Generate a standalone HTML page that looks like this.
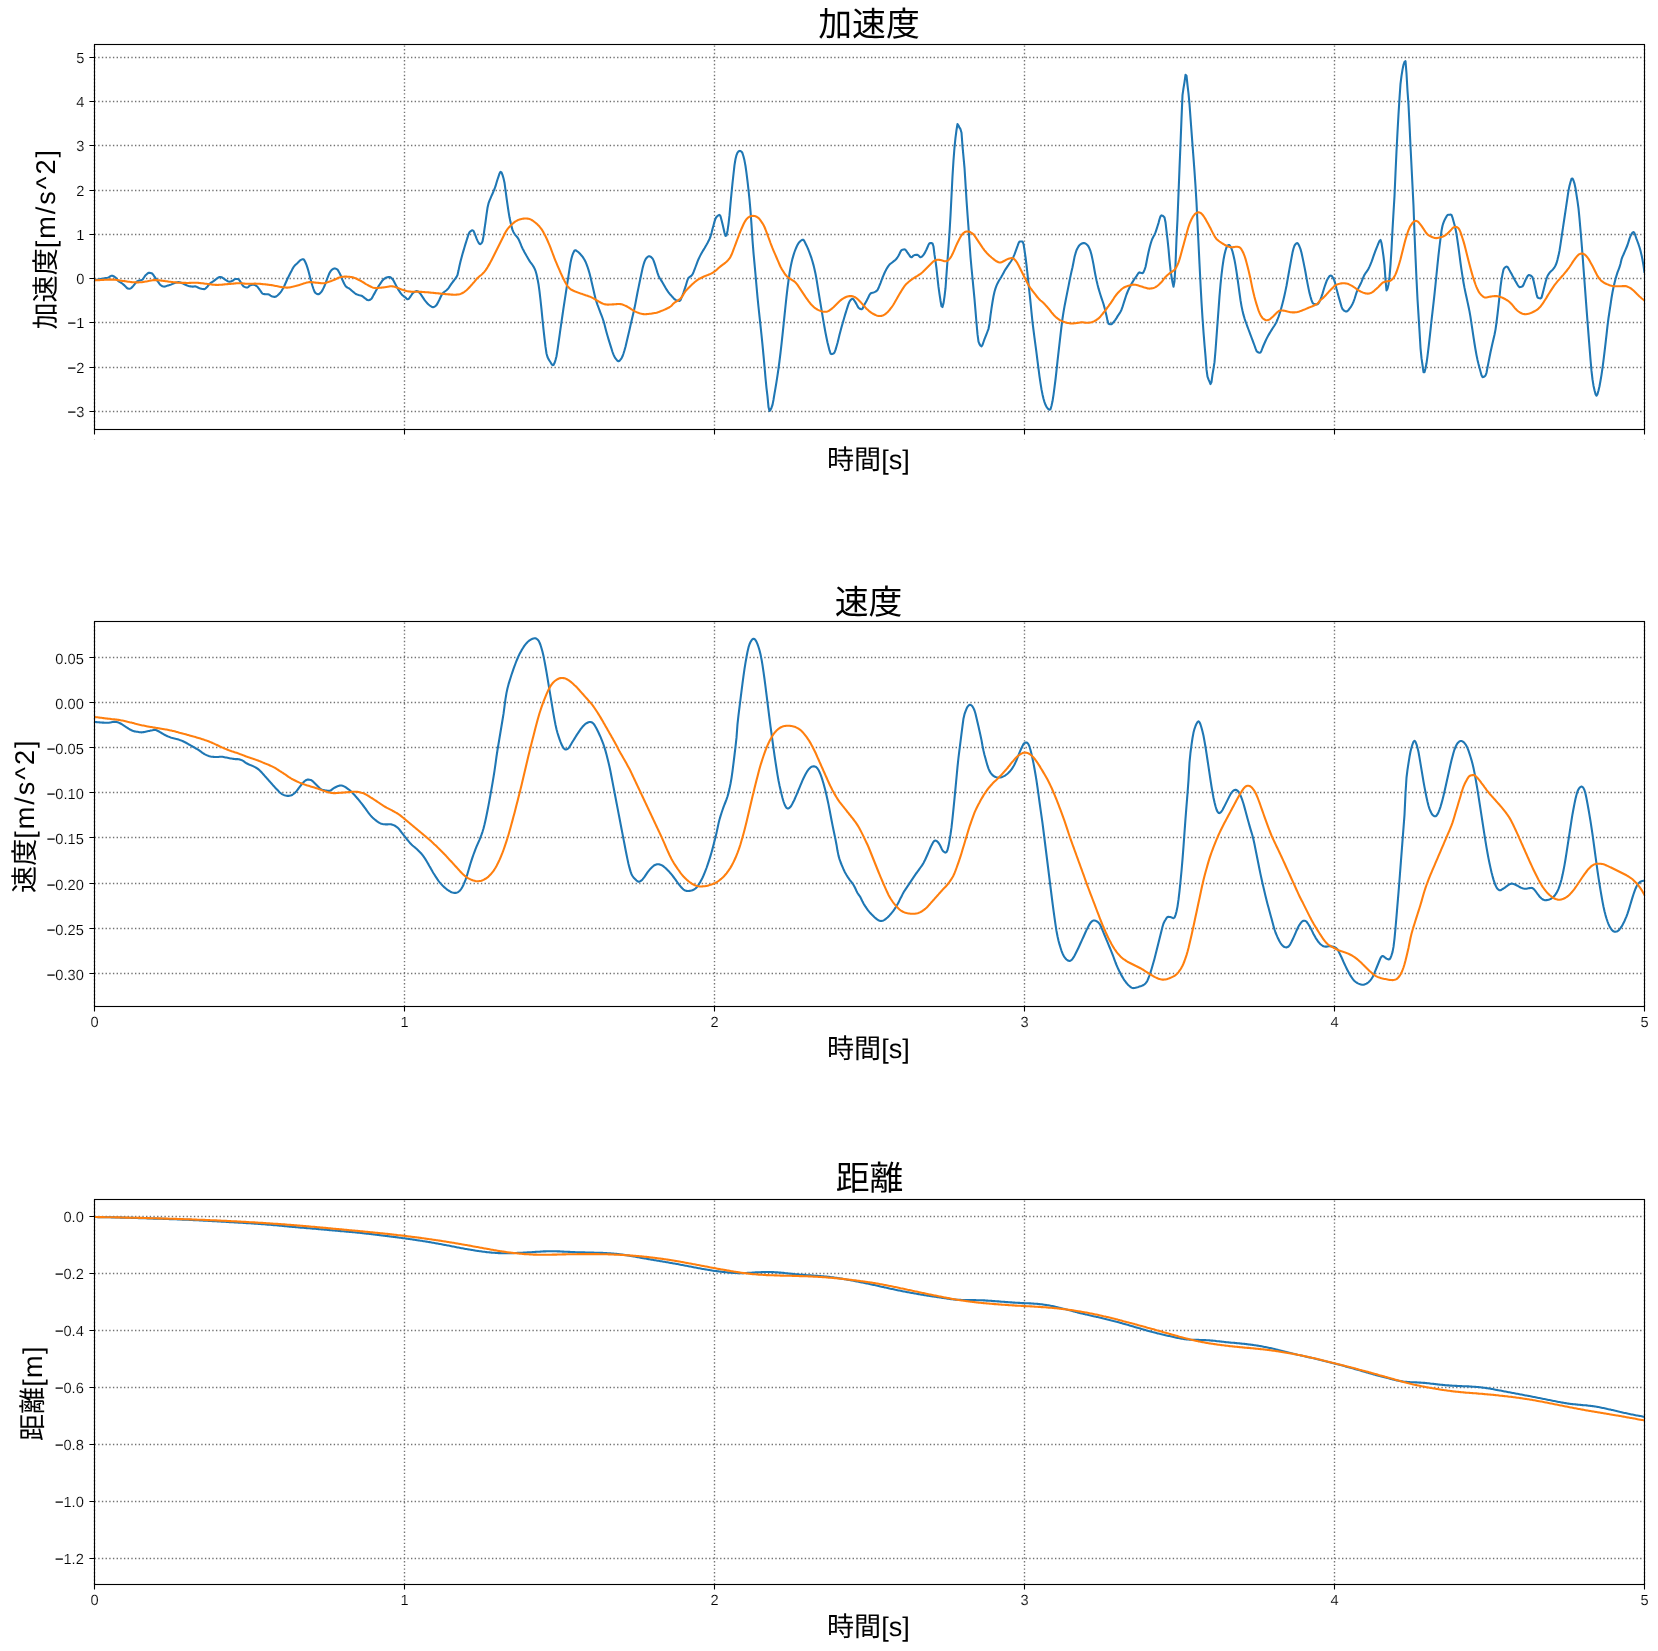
<!DOCTYPE html>
<html lang="ja"><head><meta charset="utf-8"><title>加速度 速度 距離</title>
<style>
html,body{margin:0;padding:0;background:#fff;}
body{width:1658px;height:1651px;overflow:hidden;}
svg{display:block;will-change:transform;opacity:.999;text-rendering:geometricPrecision;}
.tk{font-family:"Liberation Sans","Noto Sans CJK JP",sans-serif;font-size:14.65px;fill:#000;stroke:#fff;stroke-width:.16px;}
.lb{font-family:"Liberation Sans","Noto Sans CJK JP",sans-serif;fill:#000;}
.ti{font-size:33.85px;}
.xl{font-size:27.1px;}
.la{letter-spacing:1.95px;}
.lb3{letter-spacing:1.4px;}
.lx{letter-spacing:0px;}
.mn{stroke:#000;stroke-width:.12px;}
.gr{stroke:#000;stroke-opacity:.55;stroke-width:1.39;stroke-dasharray:1.39 2.29;fill:none;}
.fr{stroke:#000;stroke-width:1.11;fill:none;}
.cv{fill:none;stroke-width:2.08;stroke-linejoin:round;stroke-linecap:butt;}
</style></head><body>
<svg width="1658" height="1651" viewBox="0 0 1658 1651">
<rect width="1658" height="1651" fill="#fff"/>
<defs><clipPath id="c0"><rect x="94.5" y="44.5" width="1550.0" height="385.0"/></clipPath></defs>
<path class="gr" d="M94.5 429.5V44.5M404.5 429.5V44.5M714.5 429.5V44.5M1024.5 429.5V44.5M1334.5 429.5V44.5M1644.5 429.5V44.5M94.5 57.5H1644.5M94.5 101.5H1644.5M94.5 145.5H1644.5M94.5 190.5H1644.5M94.5 234.5H1644.5M94.5 278.5H1644.5M94.5 322.5H1644.5M94.5 367.5H1644.5M94.5 411.5H1644.5"/>
<g clip-path="url(#c0)"><path class="cv" stroke="#1f77b4" d="M94.5 280.1 L95.5 279.9 L96.5 279.7 L97.5 279.6 L98.5 279.4 L99.5 279.2 L100.5 279.0 L101.5 278.8 L102.5 278.7 L103.5 278.5 L104.5 278.3 L105.5 278.1 L106.5 277.9 L107.5 277.7 L108.5 277.4 L109.5 276.8 L110.5 276.1 L111.5 275.7 L112.5 275.8 L113.5 276.2 L114.5 276.7 L115.5 277.5 L116.5 278.7 L117.5 280.1 L118.5 281.2 L119.5 281.9 L120.5 282.4 L121.5 283.0 L122.5 283.8 L123.5 284.6 L124.5 285.4 L125.5 286.4 L126.5 287.6 L127.5 288.4 L128.5 288.6 L129.5 288.7 L130.5 288.5 L131.5 287.8 L132.5 286.7 L133.5 285.6 L134.5 284.3 L135.5 282.9 L136.5 281.9 L137.5 281.2 L138.5 280.8 L139.5 280.4 L140.5 280.2 L141.5 280.0 L142.5 279.6 L143.5 278.3 L144.5 276.7 L145.5 275.3 L146.5 274.4 L147.5 273.5 L148.5 272.9 L149.5 272.8 L150.5 273.0 L151.5 273.3 L152.5 273.8 L153.5 275.1 L154.5 276.7 L155.5 278.2 L156.5 279.7 L157.5 281.1 L158.5 282.4 L159.5 283.8 L160.5 285.0 L161.5 285.8 L162.5 286.2 L163.5 286.5 L164.5 286.6 L165.5 286.4 L166.5 286.0 L167.5 285.6 L168.5 285.4 L169.5 285.1 L170.5 284.8 L171.5 284.4 L172.5 283.9 L173.5 283.5 L174.5 283.1 L175.5 282.8 L176.5 282.5 L177.5 282.3 L178.5 282.1 L179.5 282.2 L180.5 282.5 L181.5 283.0 L182.5 283.4 L183.5 283.8 L184.5 284.3 L185.5 284.8 L186.5 285.2 L187.5 285.6 L188.5 286.0 L189.5 286.3 L190.5 286.4 L191.5 286.5 L192.5 286.6 L193.5 286.6 L194.5 286.4 L195.5 286.4 L196.5 286.7 L197.5 287.3 L198.5 287.8 L199.5 288.2 L200.5 288.4 L201.5 288.7 L202.5 288.9 L203.5 289.1 L204.5 289.1 L205.5 288.6 L206.5 287.6 L207.5 286.5 L208.5 285.2 L209.5 284.0 L210.5 283.1 L211.5 282.4 L212.5 281.8 L213.5 281.2 L214.5 280.4 L215.5 279.6 L216.5 278.8 L217.5 278.2 L218.5 277.4 L219.5 277.0 L220.5 277.0 L221.5 277.3 L222.5 277.8 L223.5 278.4 L224.5 279.1 L225.5 279.8 L226.5 280.4 L227.5 281.1 L228.5 281.6 L229.5 281.8 L230.5 281.6 L231.5 281.2 L232.5 280.8 L233.5 280.1 L234.5 279.3 L235.5 279.0 L236.5 279.0 L237.5 279.0 L238.5 279.3 L239.5 280.4 L240.5 281.9 L241.5 283.4 L242.5 285.1 L243.5 286.4 L244.5 286.9 L245.5 287.3 L246.5 287.5 L247.5 287.5 L248.5 286.8 L249.5 285.8 L250.5 285.2 L251.5 285.0 L252.5 284.8 L253.5 284.8 L254.5 284.9 L255.5 285.4 L256.5 286.0 L257.5 286.8 L258.5 288.2 L259.5 289.5 L260.5 290.9 L261.5 292.5 L262.5 293.6 L263.5 294.0 L264.5 294.1 L265.5 294.2 L266.5 294.2 L267.5 294.3 L268.5 294.4 L269.5 294.8 L270.5 295.6 L271.5 296.2 L272.5 296.5 L273.5 296.8 L274.5 296.9 L275.5 296.8 L276.5 296.3 L277.5 295.5 L278.5 294.6 L279.5 293.5 L280.5 292.4 L281.5 291.0 L282.5 289.3 L283.5 287.4 L284.5 285.5 L285.5 283.3 L286.5 281.0 L287.5 278.8 L288.5 276.8 L289.5 274.8 L290.5 272.8 L291.5 270.9 L292.5 268.9 L293.5 267.2 L294.5 265.9 L295.5 264.8 L296.5 263.9 L297.5 263.0 L298.5 262.0 L299.5 261.0 L300.5 260.1 L301.5 259.6 L302.5 259.2 L303.5 259.2 L304.5 260.5 L305.5 262.5 L306.5 264.9 L307.5 267.9 L308.5 271.2 L309.5 275.1 L310.5 278.9 L311.5 282.6 L312.5 286.0 L313.5 289.0 L314.5 291.7 L315.5 293.0 L316.5 293.7 L317.5 294.1 L318.5 294.2 L319.5 293.7 L320.5 292.7 L321.5 291.7 L322.5 290.1 L323.5 288.1 L324.5 286.0 L325.5 283.4 L326.5 280.7 L327.5 278.0 L328.5 275.3 L329.5 273.0 L330.5 271.4 L331.5 270.1 L332.5 269.3 L333.5 268.7 L334.5 268.4 L335.5 268.6 L336.5 269.0 L337.5 269.7 L338.5 271.2 L339.5 273.0 L340.5 275.0 L341.5 277.5 L342.5 280.0 L343.5 282.2 L344.5 284.3 L345.5 286.0 L346.5 287.0 L347.5 287.6 L348.5 288.1 L349.5 288.7 L350.5 289.5 L351.5 290.4 L352.5 291.3 L353.5 292.1 L354.5 293.0 L355.5 293.7 L356.5 294.2 L357.5 294.6 L358.5 295.0 L359.5 295.3 L360.5 295.5 L361.5 295.8 L362.5 296.3 L363.5 297.1 L364.5 297.9 L365.5 298.6 L366.5 299.5 L367.5 300.1 L368.5 300.3 L369.5 300.0 L370.5 299.5 L371.5 298.7 L372.5 297.1 L373.5 295.1 L374.5 293.4 L375.5 291.5 L376.5 289.7 L377.5 288.0 L378.5 286.4 L379.5 284.8 L380.5 283.3 L381.5 281.8 L382.5 280.4 L383.5 279.4 L384.5 278.6 L385.5 278.0 L386.5 277.5 L387.5 277.3 L388.5 277.1 L389.5 277.0 L390.5 277.3 L391.5 278.1 L392.5 279.2 L393.5 280.5 L394.5 282.4 L395.5 284.4 L396.5 286.3 L397.5 288.1 L398.5 289.9 L399.5 291.4 L400.5 292.9 L401.5 294.2 L402.5 295.2 L403.5 296.1 L404.5 296.8 L405.5 297.6 L406.5 298.6 L407.5 299.3 L408.5 299.0 L409.5 297.8 L410.5 296.5 L411.5 295.0 L412.5 293.4 L413.5 292.5 L414.5 291.9 L415.5 291.4 L416.5 291.1 L417.5 291.2 L418.5 291.9 L419.5 292.8 L420.5 293.9 L421.5 295.3 L422.5 296.8 L423.5 298.3 L424.5 299.8 L425.5 301.1 L426.5 302.3 L427.5 303.5 L428.5 304.5 L429.5 305.3 L430.5 306.0 L431.5 306.7 L432.5 307.1 L433.5 307.1 L434.5 306.7 L435.5 306.1 L436.5 305.1 L437.5 303.4 L438.5 301.5 L439.5 299.5 L440.5 297.3 L441.5 295.2 L442.5 293.6 L443.5 292.6 L444.5 291.7 L445.5 291.0 L446.5 290.2 L447.5 289.3 L448.5 288.1 L449.5 286.7 L450.5 285.2 L451.5 283.7 L452.5 282.3 L453.5 281.0 L454.5 279.7 L455.5 278.3 L456.5 276.9 L457.5 275.0 L458.5 270.6 L459.5 265.7 L460.5 261.6 L461.5 257.7 L462.5 254.0 L463.5 250.6 L464.5 247.2 L465.5 243.9 L466.5 240.7 L467.5 237.7 L468.5 234.4 L469.5 232.2 L470.5 231.3 L471.5 230.6 L472.5 230.3 L473.5 230.9 L474.5 233.2 L475.5 235.6 L476.5 238.3 L477.5 240.6 L478.5 242.6 L479.5 244.0 L480.5 244.1 L481.5 243.2 L482.5 241.5 L483.5 236.2 L484.5 228.9 L485.5 222.1 L486.5 214.7 L487.5 207.8 L488.5 203.4 L489.5 200.6 L490.5 198.3 L491.5 195.9 L492.5 193.7 L493.5 191.4 L494.5 189.0 L495.5 186.2 L496.5 182.8 L497.5 179.5 L498.5 176.6 L499.5 173.5 L500.5 171.9 L501.5 172.5 L502.5 174.9 L503.5 178.2 L504.5 182.7 L505.5 190.2 L506.5 197.7 L507.5 204.6 L508.5 211.3 L509.5 217.3 L510.5 222.1 L511.5 226.4 L512.5 229.9 L513.5 232.2 L514.5 233.8 L515.5 235.1 L516.5 236.3 L517.5 237.5 L518.5 239.1 L519.5 241.3 L520.5 243.7 L521.5 246.2 L522.5 248.4 L523.5 250.3 L524.5 252.2 L525.5 254.0 L526.5 255.8 L527.5 257.5 L528.5 259.2 L529.5 260.9 L530.5 262.3 L531.5 263.6 L532.5 265.0 L533.5 266.6 L534.5 268.4 L535.5 270.8 L536.5 274.2 L537.5 278.7 L538.5 284.2 L539.5 291.3 L540.5 300.0 L541.5 309.4 L542.5 319.6 L543.5 329.4 L544.5 338.4 L545.5 346.7 L546.5 353.5 L547.5 357.0 L548.5 359.1 L549.5 360.7 L550.5 362.3 L551.5 364.0 L552.5 365.1 L553.5 365.0 L554.5 363.1 L555.5 360.1 L556.5 356.2 L557.5 349.8 L558.5 342.8 L559.5 335.9 L560.5 328.7 L561.5 321.8 L562.5 315.0 L563.5 308.2 L564.5 301.6 L565.5 295.1 L566.5 288.7 L567.5 282.1 L568.5 275.6 L569.5 269.2 L570.5 262.9 L571.5 258.2 L572.5 254.8 L573.5 252.4 L574.5 250.5 L575.5 250.3 L576.5 250.8 L577.5 251.5 L578.5 252.3 L579.5 253.2 L580.5 254.3 L581.5 255.5 L582.5 256.7 L583.5 258.2 L584.5 259.8 L585.5 261.7 L586.5 264.1 L587.5 266.8 L588.5 269.9 L589.5 273.3 L590.5 277.3 L591.5 281.5 L592.5 285.7 L593.5 290.0 L594.5 294.4 L595.5 298.5 L596.5 301.9 L597.5 304.8 L598.5 307.5 L599.5 310.2 L600.5 312.8 L601.5 315.4 L602.5 318.0 L603.5 321.0 L604.5 324.5 L605.5 328.4 L606.5 332.2 L607.5 335.7 L608.5 339.1 L609.5 342.4 L610.5 345.6 L611.5 348.8 L612.5 352.0 L613.5 354.6 L614.5 356.7 L615.5 358.4 L616.5 359.6 L617.5 360.7 L618.5 361.2 L619.5 360.7 L620.5 359.6 L621.5 358.3 L622.5 356.3 L623.5 353.5 L624.5 350.3 L625.5 346.7 L626.5 342.6 L627.5 338.3 L628.5 334.1 L629.5 329.7 L630.5 325.3 L631.5 321.0 L632.5 316.8 L633.5 312.5 L634.5 308.1 L635.5 303.1 L636.5 297.8 L637.5 292.5 L638.5 287.6 L639.5 282.7 L640.5 278.0 L641.5 273.3 L642.5 268.6 L643.5 264.8 L644.5 261.6 L645.5 259.3 L646.5 258.0 L647.5 257.0 L648.5 256.3 L649.5 256.3 L650.5 256.7 L651.5 257.4 L652.5 258.4 L653.5 260.4 L654.5 263.2 L655.5 266.2 L656.5 269.5 L657.5 272.9 L658.5 275.7 L659.5 277.7 L660.5 279.3 L661.5 280.9 L662.5 282.5 L663.5 284.2 L664.5 286.0 L665.5 287.8 L666.5 289.4 L667.5 290.9 L668.5 292.3 L669.5 293.6 L670.5 294.8 L671.5 295.9 L672.5 297.0 L673.5 298.1 L674.5 299.2 L675.5 299.9 L676.5 300.3 L677.5 300.6 L678.5 300.8 L679.5 300.9 L680.5 300.1 L681.5 297.7 L682.5 295.3 L683.5 292.6 L684.5 289.6 L685.5 286.7 L686.5 283.2 L687.5 280.0 L688.5 277.9 L689.5 277.0 L690.5 276.4 L691.5 275.7 L692.5 274.4 L693.5 272.2 L694.5 269.6 L695.5 267.0 L696.5 264.4 L697.5 261.7 L698.5 259.2 L699.5 257.1 L700.5 255.1 L701.5 253.2 L702.5 251.5 L703.5 249.9 L704.5 248.3 L705.5 246.5 L706.5 244.8 L707.5 243.0 L708.5 241.0 L709.5 239.0 L710.5 236.5 L711.5 233.1 L712.5 229.1 L713.5 225.4 L714.5 221.6 L715.5 218.6 L716.5 216.9 L717.5 215.9 L718.5 215.3 L719.5 214.9 L720.5 216.2 L721.5 219.9 L722.5 224.1 L723.5 228.2 L724.5 232.7 L725.5 235.9 L726.5 235.5 L727.5 230.9 L728.5 224.1 L729.5 215.2 L730.5 203.6 L731.5 193.2 L732.5 183.2 L733.5 174.0 L734.5 165.1 L735.5 159.0 L736.5 155.1 L737.5 152.6 L738.5 151.5 L739.5 150.9 L740.5 151.1 L741.5 151.7 L742.5 153.2 L743.5 156.5 L744.5 160.6 L745.5 166.0 L746.5 173.1 L747.5 181.1 L748.5 189.8 L749.5 199.7 L750.5 210.9 L751.5 224.9 L752.5 240.2 L753.5 252.9 L754.5 263.7 L755.5 274.5 L756.5 286.0 L757.5 297.2 L758.5 307.0 L759.5 316.3 L760.5 325.7 L761.5 335.0 L762.5 344.8 L763.5 355.3 L764.5 366.3 L765.5 378.0 L766.5 388.1 L767.5 396.4 L768.5 407.1 L769.5 411.0 L770.5 409.8 L771.5 407.7 L772.5 404.9 L773.5 399.7 L774.5 393.7 L775.5 387.9 L776.5 381.8 L777.5 375.4 L778.5 368.5 L779.5 361.0 L780.5 352.8 L781.5 344.1 L782.5 334.9 L783.5 325.3 L784.5 315.7 L785.5 306.0 L786.5 296.6 L787.5 288.2 L788.5 280.6 L789.5 273.5 L790.5 267.6 L791.5 262.7 L792.5 258.6 L793.5 255.1 L794.5 252.0 L795.5 249.3 L796.5 247.0 L797.5 244.9 L798.5 243.2 L799.5 242.0 L800.5 241.0 L801.5 240.2 L802.5 239.8 L803.5 239.9 L804.5 241.4 L805.5 243.5 L806.5 245.5 L807.5 247.6 L808.5 250.0 L809.5 252.6 L810.5 255.3 L811.5 258.2 L812.5 261.5 L813.5 265.1 L814.5 269.2 L815.5 273.8 L816.5 279.2 L817.5 285.4 L818.5 291.6 L819.5 297.6 L820.5 303.6 L821.5 309.6 L822.5 315.7 L823.5 321.6 L824.5 327.3 L825.5 332.8 L826.5 337.8 L827.5 342.5 L828.5 346.5 L829.5 350.4 L830.5 353.5 L831.5 354.1 L832.5 353.9 L833.5 353.5 L834.5 352.5 L835.5 349.9 L836.5 346.5 L837.5 343.0 L838.5 338.9 L839.5 334.7 L840.5 330.9 L841.5 327.2 L842.5 323.7 L843.5 320.2 L844.5 316.8 L845.5 313.4 L846.5 310.3 L847.5 307.1 L848.5 304.0 L849.5 301.7 L850.5 300.2 L851.5 299.1 L852.5 298.7 L853.5 299.4 L854.5 300.8 L855.5 302.4 L856.5 304.1 L857.5 306.1 L858.5 307.7 L859.5 308.5 L860.5 309.0 L861.5 309.3 L862.5 308.7 L863.5 306.5 L864.5 304.5 L865.5 302.7 L866.5 300.9 L867.5 299.1 L868.5 297.0 L869.5 294.9 L870.5 293.5 L871.5 293.0 L872.5 292.7 L873.5 292.5 L874.5 292.1 L875.5 291.6 L876.5 291.0 L877.5 290.0 L878.5 288.1 L879.5 285.5 L880.5 283.1 L881.5 280.4 L882.5 277.7 L883.5 275.3 L884.5 273.0 L885.5 270.9 L886.5 269.0 L887.5 267.4 L888.5 265.9 L889.5 264.6 L890.5 263.7 L891.5 263.0 L892.5 262.2 L893.5 261.4 L894.5 260.7 L895.5 259.8 L896.5 258.7 L897.5 257.3 L898.5 255.7 L899.5 253.8 L900.5 251.6 L901.5 250.1 L902.5 249.7 L903.5 249.5 L904.5 249.4 L905.5 249.8 L906.5 251.1 L907.5 252.7 L908.5 254.0 L909.5 255.5 L910.5 256.8 L911.5 257.3 L912.5 256.6 L913.5 255.6 L914.5 255.1 L915.5 254.9 L916.5 254.9 L917.5 254.8 L918.5 255.5 L919.5 256.6 L920.5 257.3 L921.5 256.9 L922.5 256.0 L923.5 254.9 L924.5 253.4 L925.5 251.5 L926.5 249.5 L927.5 247.3 L928.5 244.8 L929.5 243.2 L930.5 243.0 L931.5 243.1 L932.5 243.4 L933.5 246.5 L934.5 254.7 L935.5 261.1 L936.5 268.5 L937.5 278.2 L938.5 286.9 L939.5 294.1 L940.5 300.7 L941.5 306.2 L942.5 307.1 L943.5 303.3 L944.5 296.6 L945.5 288.2 L946.5 274.1 L947.5 260.4 L948.5 247.1 L949.5 232.8 L950.5 215.8 L951.5 196.0 L952.5 176.3 L953.5 160.2 L954.5 147.5 L955.5 137.6 L956.5 130.0 L957.5 124.0 L958.5 125.5 L959.5 127.7 L960.5 129.2 L961.5 132.7 L962.5 146.2 L963.5 156.9 L964.5 167.8 L965.5 183.6 L966.5 200.0 L967.5 214.2 L968.5 227.6 L969.5 242.7 L970.5 256.8 L971.5 268.0 L972.5 278.2 L973.5 288.6 L974.5 299.1 L975.5 310.9 L976.5 323.0 L977.5 334.2 L978.5 341.6 L979.5 344.1 L980.5 345.7 L981.5 346.3 L982.5 344.9 L983.5 342.0 L984.5 339.1 L985.5 336.6 L986.5 334.1 L987.5 331.5 L988.5 328.8 L989.5 323.7 L990.5 315.3 L991.5 308.3 L992.5 302.0 L993.5 296.3 L994.5 291.8 L995.5 288.4 L996.5 285.7 L997.5 283.4 L998.5 281.5 L999.5 279.8 L1000.5 278.2 L1001.5 276.6 L1002.5 274.8 L1003.5 272.9 L1004.5 271.0 L1005.5 269.3 L1006.5 267.8 L1007.5 266.3 L1008.5 264.9 L1009.5 263.4 L1010.5 262.0 L1011.5 260.5 L1012.5 258.8 L1013.5 256.7 L1014.5 254.4 L1015.5 251.7 L1016.5 248.9 L1017.5 246.2 L1018.5 243.3 L1019.5 241.5 L1020.5 241.5 L1021.5 241.5 L1022.5 241.5 L1023.5 243.8 L1024.5 250.1 L1025.5 257.0 L1026.5 265.2 L1027.5 274.1 L1028.5 283.6 L1029.5 292.9 L1030.5 302.2 L1031.5 312.4 L1032.5 322.1 L1033.5 330.2 L1034.5 337.8 L1035.5 345.3 L1036.5 352.8 L1037.5 360.8 L1038.5 368.7 L1039.5 376.3 L1040.5 383.2 L1041.5 389.4 L1042.5 394.4 L1043.5 398.7 L1044.5 402.1 L1045.5 404.8 L1046.5 406.9 L1047.5 408.2 L1048.5 409.2 L1049.5 409.8 L1050.5 409.2 L1051.5 405.8 L1052.5 401.3 L1053.5 394.9 L1054.5 387.4 L1055.5 379.5 L1056.5 370.7 L1057.5 361.2 L1058.5 352.3 L1059.5 343.7 L1060.5 334.9 L1061.5 326.4 L1062.5 318.7 L1063.5 312.1 L1064.5 306.4 L1065.5 301.2 L1066.5 296.1 L1067.5 291.1 L1068.5 286.1 L1069.5 281.0 L1070.5 276.1 L1071.5 271.6 L1072.5 267.2 L1073.5 262.3 L1074.5 257.1 L1075.5 253.4 L1076.5 250.3 L1077.5 248.2 L1078.5 246.5 L1079.5 245.2 L1080.5 244.3 L1081.5 243.7 L1082.5 243.2 L1083.5 243.0 L1084.5 243.1 L1085.5 243.5 L1086.5 244.3 L1087.5 245.2 L1088.5 246.5 L1089.5 248.6 L1090.5 251.2 L1091.5 254.8 L1092.5 259.4 L1093.5 264.4 L1094.5 270.2 L1095.5 275.5 L1096.5 280.3 L1097.5 284.6 L1098.5 288.4 L1099.5 291.8 L1100.5 295.0 L1101.5 298.1 L1102.5 301.0 L1103.5 304.0 L1104.5 307.6 L1105.5 311.7 L1106.5 315.8 L1107.5 320.6 L1108.5 323.7 L1109.5 324.1 L1110.5 324.2 L1111.5 324.2 L1112.5 323.4 L1113.5 322.2 L1114.5 321.0 L1115.5 319.6 L1116.5 318.1 L1117.5 316.4 L1118.5 314.9 L1119.5 313.4 L1120.5 311.7 L1121.5 309.7 L1122.5 306.9 L1123.5 303.7 L1124.5 300.6 L1125.5 297.5 L1126.5 294.5 L1127.5 292.0 L1128.5 289.7 L1129.5 287.6 L1130.5 285.7 L1131.5 283.8 L1132.5 282.1 L1133.5 280.5 L1134.5 279.0 L1135.5 277.5 L1136.5 276.1 L1137.5 274.5 L1138.5 273.0 L1139.5 272.4 L1140.5 272.7 L1141.5 273.1 L1142.5 273.3 L1143.5 272.2 L1144.5 269.9 L1145.5 267.0 L1146.5 262.2 L1147.5 257.0 L1148.5 252.3 L1149.5 247.9 L1150.5 244.2 L1151.5 241.0 L1152.5 238.4 L1153.5 236.5 L1154.5 234.7 L1155.5 232.4 L1156.5 229.4 L1157.5 226.3 L1158.5 223.1 L1159.5 219.3 L1160.5 216.2 L1161.5 215.4 L1162.5 215.7 L1163.5 216.4 L1164.5 217.5 L1165.5 222.2 L1166.5 231.0 L1167.5 239.4 L1168.5 248.9 L1169.5 260.1 L1170.5 269.7 L1171.5 276.6 L1172.5 282.3 L1173.5 286.8 L1174.5 281.2 L1175.5 264.8 L1176.5 238.8 L1177.5 219.1 L1178.5 193.7 L1179.5 168.4 L1180.5 144.1 L1181.5 118.6 L1182.5 95.1 L1183.5 88.1 L1184.5 82.1 L1185.5 74.8 L1186.5 75.7 L1187.5 85.2 L1188.5 93.5 L1189.5 104.1 L1190.5 117.9 L1191.5 131.4 L1192.5 144.8 L1193.5 157.9 L1194.5 171.4 L1195.5 186.0 L1196.5 202.6 L1197.5 223.0 L1198.5 243.3 L1199.5 263.7 L1200.5 283.7 L1201.5 302.1 L1202.5 318.0 L1203.5 332.1 L1204.5 344.6 L1205.5 356.2 L1206.5 369.4 L1207.5 376.7 L1208.5 379.3 L1209.5 381.7 L1210.5 384.1 L1211.5 382.0 L1212.5 374.4 L1213.5 368.7 L1214.5 362.2 L1215.5 350.5 L1216.5 336.8 L1217.5 323.4 L1218.5 309.9 L1219.5 296.2 L1220.5 284.7 L1221.5 274.9 L1222.5 266.6 L1223.5 259.8 L1224.5 254.5 L1225.5 250.5 L1226.5 247.4 L1227.5 245.7 L1228.5 245.0 L1229.5 245.0 L1230.5 246.5 L1231.5 248.6 L1232.5 251.5 L1233.5 255.4 L1234.5 259.9 L1235.5 265.4 L1236.5 271.6 L1237.5 278.5 L1238.5 285.7 L1239.5 293.0 L1240.5 300.2 L1241.5 306.1 L1242.5 310.8 L1243.5 314.9 L1244.5 318.3 L1245.5 321.3 L1246.5 324.0 L1247.5 326.8 L1248.5 329.5 L1249.5 332.2 L1250.5 334.8 L1251.5 337.5 L1252.5 340.2 L1253.5 342.8 L1254.5 345.5 L1255.5 348.4 L1256.5 350.9 L1257.5 351.9 L1258.5 352.5 L1259.5 352.8 L1260.5 352.5 L1261.5 350.7 L1262.5 348.0 L1263.5 345.5 L1264.5 343.3 L1265.5 341.0 L1266.5 338.9 L1267.5 336.9 L1268.5 335.1 L1269.5 333.4 L1270.5 331.7 L1271.5 330.1 L1272.5 328.5 L1273.5 327.0 L1274.5 325.5 L1275.5 323.8 L1276.5 321.9 L1277.5 319.5 L1278.5 316.8 L1279.5 313.9 L1280.5 310.7 L1281.5 307.2 L1282.5 303.5 L1283.5 299.5 L1284.5 295.2 L1285.5 290.6 L1286.5 285.7 L1287.5 280.1 L1288.5 274.5 L1289.5 268.9 L1290.5 263.4 L1291.5 257.9 L1292.5 252.6 L1293.5 248.5 L1294.5 245.7 L1295.5 244.2 L1296.5 243.2 L1297.5 243.1 L1298.5 244.4 L1299.5 246.5 L1300.5 249.1 L1301.5 252.7 L1302.5 257.4 L1303.5 262.1 L1304.5 267.1 L1305.5 272.3 L1306.5 277.9 L1307.5 283.4 L1308.5 288.4 L1309.5 293.1 L1310.5 296.8 L1311.5 300.1 L1312.5 302.7 L1313.5 303.7 L1314.5 304.1 L1315.5 304.3 L1316.5 304.4 L1317.5 304.2 L1318.5 303.2 L1319.5 301.6 L1320.5 299.3 L1321.5 296.6 L1322.5 293.6 L1323.5 290.2 L1324.5 287.0 L1325.5 284.1 L1326.5 281.3 L1327.5 279.1 L1328.5 277.6 L1329.5 276.2 L1330.5 275.5 L1331.5 275.7 L1332.5 276.9 L1333.5 278.7 L1334.5 280.9 L1335.5 284.6 L1336.5 288.8 L1337.5 292.5 L1338.5 296.2 L1339.5 299.6 L1340.5 303.1 L1341.5 306.6 L1342.5 309.1 L1343.5 310.1 L1344.5 310.9 L1345.5 311.4 L1346.5 311.5 L1347.5 311.0 L1348.5 310.0 L1349.5 308.7 L1350.5 307.4 L1351.5 305.8 L1352.5 303.9 L1353.5 301.7 L1354.5 299.0 L1355.5 295.8 L1356.5 292.6 L1357.5 289.9 L1358.5 287.9 L1359.5 286.0 L1360.5 284.1 L1361.5 281.9 L1362.5 279.4 L1363.5 276.9 L1364.5 274.8 L1365.5 273.2 L1366.5 271.8 L1367.5 270.4 L1368.5 268.7 L1369.5 266.6 L1370.5 264.3 L1371.5 261.9 L1372.5 259.1 L1373.5 256.2 L1374.5 253.4 L1375.5 250.7 L1376.5 248.1 L1377.5 245.7 L1378.5 243.1 L1379.5 240.9 L1380.5 239.9 L1381.5 243.0 L1382.5 249.4 L1383.5 256.3 L1384.5 265.1 L1385.5 279.8 L1386.5 290.5 L1387.5 288.8 L1388.5 284.5 L1389.5 276.9 L1390.5 264.8 L1391.5 249.2 L1392.5 229.7 L1393.5 212.5 L1394.5 196.1 L1395.5 173.0 L1396.5 151.3 L1397.5 132.0 L1398.5 114.3 L1399.5 98.1 L1400.5 83.8 L1401.5 75.8 L1402.5 69.6 L1403.5 64.8 L1404.5 61.8 L1405.5 61.2 L1406.5 73.5 L1407.5 91.0 L1408.5 104.5 L1409.5 124.8 L1410.5 146.2 L1411.5 166.0 L1412.5 186.0 L1413.5 205.8 L1414.5 233.3 L1415.5 256.9 L1416.5 279.0 L1417.5 299.3 L1418.5 314.9 L1419.5 330.9 L1420.5 347.8 L1421.5 358.2 L1422.5 365.0 L1423.5 372.2 L1424.5 372.3 L1425.5 368.4 L1426.5 363.3 L1427.5 356.1 L1428.5 347.9 L1429.5 339.2 L1430.5 330.1 L1431.5 320.6 L1432.5 311.8 L1433.5 303.2 L1434.5 294.1 L1435.5 284.5 L1436.5 274.5 L1437.5 264.6 L1438.5 255.1 L1439.5 246.5 L1440.5 238.5 L1441.5 230.8 L1442.5 225.7 L1443.5 222.6 L1444.5 220.2 L1445.5 218.3 L1446.5 216.4 L1447.5 215.1 L1448.5 214.8 L1449.5 214.7 L1450.5 214.6 L1451.5 214.9 L1452.5 217.6 L1453.5 221.3 L1454.5 224.8 L1455.5 229.0 L1456.5 234.1 L1457.5 240.6 L1458.5 247.7 L1459.5 255.2 L1460.5 262.8 L1461.5 269.8 L1462.5 276.4 L1463.5 282.5 L1464.5 287.9 L1465.5 292.7 L1466.5 297.3 L1467.5 301.9 L1468.5 306.5 L1469.5 311.4 L1470.5 317.1 L1471.5 323.8 L1472.5 330.4 L1473.5 337.1 L1474.5 343.5 L1475.5 349.5 L1476.5 355.1 L1477.5 359.9 L1478.5 364.1 L1479.5 367.7 L1480.5 371.6 L1481.5 375.2 L1482.5 377.1 L1483.5 377.0 L1484.5 376.4 L1485.5 375.5 L1486.5 372.8 L1487.5 367.5 L1488.5 362.4 L1489.5 357.3 L1490.5 352.3 L1491.5 347.7 L1492.5 343.3 L1493.5 338.9 L1494.5 334.7 L1495.5 329.6 L1496.5 322.5 L1497.5 314.4 L1498.5 305.7 L1499.5 296.4 L1500.5 286.8 L1501.5 279.7 L1502.5 274.1 L1503.5 269.5 L1504.5 267.9 L1505.5 267.0 L1506.5 266.6 L1507.5 266.9 L1508.5 268.4 L1509.5 270.3 L1510.5 272.1 L1511.5 273.8 L1512.5 275.7 L1513.5 277.5 L1514.5 279.4 L1515.5 281.2 L1516.5 282.9 L1517.5 284.7 L1518.5 286.3 L1519.5 287.1 L1520.5 287.0 L1521.5 286.7 L1522.5 286.3 L1523.5 284.8 L1524.5 282.4 L1525.5 280.0 L1526.5 278.1 L1527.5 276.2 L1528.5 275.1 L1529.5 275.1 L1530.5 275.5 L1531.5 276.1 L1532.5 277.2 L1533.5 280.6 L1534.5 285.1 L1535.5 289.4 L1536.5 294.2 L1537.5 297.4 L1538.5 298.0 L1539.5 298.3 L1540.5 298.4 L1541.5 297.6 L1542.5 294.1 L1543.5 290.3 L1544.5 286.2 L1545.5 282.2 L1546.5 278.8 L1547.5 276.0 L1548.5 274.3 L1549.5 272.9 L1550.5 271.7 L1551.5 270.8 L1552.5 269.9 L1553.5 268.7 L1554.5 267.3 L1555.5 265.5 L1556.5 263.2 L1557.5 259.6 L1558.5 255.6 L1559.5 250.7 L1560.5 244.4 L1561.5 237.5 L1562.5 230.8 L1563.5 224.2 L1564.5 217.5 L1565.5 210.8 L1566.5 204.2 L1567.5 197.3 L1568.5 190.6 L1569.5 185.7 L1570.5 182.0 L1571.5 178.8 L1572.5 178.5 L1573.5 180.5 L1574.5 183.6 L1575.5 188.2 L1576.5 194.9 L1577.5 201.1 L1578.5 208.3 L1579.5 218.6 L1580.5 230.1 L1581.5 242.0 L1582.5 254.7 L1583.5 268.2 L1584.5 281.5 L1585.5 294.9 L1586.5 308.3 L1587.5 321.5 L1588.5 334.4 L1589.5 346.8 L1590.5 359.5 L1591.5 370.9 L1592.5 379.4 L1593.5 385.7 L1594.5 390.3 L1595.5 394.1 L1596.5 395.7 L1597.5 394.1 L1598.5 390.4 L1599.5 386.3 L1600.5 380.8 L1601.5 374.8 L1602.5 368.0 L1603.5 360.4 L1604.5 352.2 L1605.5 343.6 L1606.5 334.9 L1607.5 325.9 L1608.5 318.0 L1609.5 311.4 L1610.5 304.8 L1611.5 298.0 L1612.5 292.3 L1613.5 287.3 L1614.5 282.9 L1615.5 279.1 L1616.5 275.6 L1617.5 272.4 L1618.5 269.8 L1619.5 267.2 L1620.5 263.8 L1621.5 259.4 L1622.5 256.6 L1623.5 254.5 L1624.5 252.2 L1625.5 249.9 L1626.5 247.5 L1627.5 245.0 L1628.5 241.9 L1629.5 238.6 L1630.5 236.0 L1631.5 234.2 L1632.5 232.7 L1633.5 232.0 L1634.5 233.2 L1635.5 236.0 L1636.5 238.9 L1637.5 241.5 L1638.5 244.2 L1639.5 247.3 L1640.5 250.8 L1641.5 254.9 L1642.5 259.8 L1643.5 265.7 L1644.5 272.6 L1644.5 273.0"/><path class="cv" stroke="#ff7f0e" d="M94.5 280.3 L95.5 280.3 L96.5 280.2 L97.5 280.2 L98.5 280.1 L99.5 280.1 L100.5 280.0 L101.5 280.0 L102.5 279.9 L103.5 279.9 L104.5 279.8 L105.5 279.8 L106.5 279.7 L107.5 279.7 L108.5 279.6 L109.5 279.6 L110.5 279.6 L111.5 279.6 L112.5 279.6 L113.5 279.6 L114.5 279.7 L115.5 279.8 L116.5 280.0 L117.5 280.1 L118.5 280.3 L119.5 280.4 L120.5 280.6 L121.5 280.7 L122.5 280.9 L123.5 281.0 L124.5 281.1 L125.5 281.3 L126.5 281.4 L127.5 281.6 L128.5 281.7 L129.5 281.8 L130.5 282.0 L131.5 282.1 L132.5 282.2 L133.5 282.2 L134.5 282.3 L135.5 282.3 L136.5 282.4 L137.5 282.4 L138.5 282.4 L139.5 282.3 L140.5 282.3 L141.5 282.2 L142.5 282.1 L143.5 281.9 L144.5 281.8 L145.5 281.6 L146.5 281.4 L147.5 281.2 L148.5 280.9 L149.5 280.7 L150.5 280.6 L151.5 280.4 L152.5 280.2 L153.5 280.1 L154.5 280.1 L155.5 280.1 L156.5 280.1 L157.5 280.2 L158.5 280.3 L159.5 280.4 L160.5 280.5 L161.5 280.6 L162.5 280.8 L163.5 280.9 L164.5 281.0 L165.5 281.2 L166.5 281.3 L167.5 281.4 L168.5 281.6 L169.5 281.7 L170.5 281.8 L171.5 282.0 L172.5 282.1 L173.5 282.2 L174.5 282.3 L175.5 282.4 L176.5 282.5 L177.5 282.6 L178.5 282.7 L179.5 282.7 L180.5 282.8 L181.5 282.8 L182.5 282.9 L183.5 282.9 L184.5 282.9 L185.5 282.9 L186.5 283.0 L187.5 283.0 L188.5 283.0 L189.5 282.9 L190.5 282.9 L191.5 282.8 L192.5 282.7 L193.5 282.7 L194.5 282.7 L195.5 282.7 L196.5 282.8 L197.5 282.8 L198.5 282.9 L199.5 283.0 L200.5 283.1 L201.5 283.2 L202.5 283.3 L203.5 283.4 L204.5 283.6 L205.5 283.7 L206.5 283.8 L207.5 284.0 L208.5 284.1 L209.5 284.2 L210.5 284.3 L211.5 284.5 L212.5 284.6 L213.5 284.7 L214.5 284.8 L215.5 284.9 L216.5 284.9 L217.5 285.0 L218.5 284.9 L219.5 284.8 L220.5 284.7 L221.5 284.7 L222.5 284.6 L223.5 284.5 L224.5 284.4 L225.5 284.3 L226.5 284.2 L227.5 284.1 L228.5 284.0 L229.5 283.9 L230.5 283.9 L231.5 283.8 L232.5 283.7 L233.5 283.6 L234.5 283.5 L235.5 283.4 L236.5 283.3 L237.5 283.2 L238.5 283.2 L239.5 283.2 L240.5 283.2 L241.5 283.3 L242.5 283.4 L243.5 283.5 L244.5 283.6 L245.5 283.7 L246.5 283.8 L247.5 283.8 L248.5 283.8 L249.5 283.8 L250.5 283.8 L251.5 283.7 L252.5 283.7 L253.5 283.7 L254.5 283.6 L255.5 283.6 L256.5 283.7 L257.5 283.7 L258.5 283.8 L259.5 283.8 L260.5 283.9 L261.5 284.0 L262.5 284.1 L263.5 284.2 L264.5 284.3 L265.5 284.4 L266.5 284.5 L267.5 284.6 L268.5 284.7 L269.5 284.9 L270.5 285.0 L271.5 285.1 L272.5 285.3 L273.5 285.5 L274.5 285.7 L275.5 285.9 L276.5 286.1 L277.5 286.3 L278.5 286.5 L279.5 286.7 L280.5 286.9 L281.5 287.0 L282.5 287.2 L283.5 287.3 L284.5 287.4 L285.5 287.5 L286.5 287.6 L287.5 287.6 L288.5 287.5 L289.5 287.4 L290.5 287.2 L291.5 287.0 L292.5 286.8 L293.5 286.6 L294.5 286.3 L295.5 286.1 L296.5 285.8 L297.5 285.5 L298.5 285.2 L299.5 284.9 L300.5 284.6 L301.5 284.3 L302.5 283.9 L303.5 283.6 L304.5 283.3 L305.5 283.0 L306.5 282.6 L307.5 282.4 L308.5 282.2 L309.5 282.1 L310.5 282.1 L311.5 282.2 L312.5 282.3 L313.5 282.4 L314.5 282.5 L315.5 282.6 L316.5 282.7 L317.5 282.8 L318.5 282.9 L319.5 283.0 L320.5 283.1 L321.5 283.2 L322.5 283.3 L323.5 283.3 L324.5 283.2 L325.5 282.9 L326.5 282.6 L327.5 282.3 L328.5 281.9 L329.5 281.6 L330.5 281.2 L331.5 280.9 L332.5 280.5 L333.5 280.1 L334.5 279.7 L335.5 279.2 L336.5 278.7 L337.5 278.3 L338.5 277.8 L339.5 277.5 L340.5 277.2 L341.5 276.9 L342.5 276.8 L343.5 276.7 L344.5 276.6 L345.5 276.6 L346.5 276.6 L347.5 276.7 L348.5 276.7 L349.5 276.8 L350.5 277.0 L351.5 277.1 L352.5 277.3 L353.5 277.6 L354.5 277.9 L355.5 278.3 L356.5 278.7 L357.5 279.2 L358.5 279.7 L359.5 280.2 L360.5 280.8 L361.5 281.3 L362.5 281.9 L363.5 282.5 L364.5 283.1 L365.5 283.8 L366.5 284.4 L367.5 284.9 L368.5 285.5 L369.5 286.0 L370.5 286.5 L371.5 287.0 L372.5 287.4 L373.5 287.7 L374.5 287.9 L375.5 288.0 L376.5 288.1 L377.5 288.0 L378.5 287.9 L379.5 287.8 L380.5 287.7 L381.5 287.6 L382.5 287.5 L383.5 287.4 L384.5 287.2 L385.5 287.1 L386.5 286.9 L387.5 286.7 L388.5 286.6 L389.5 286.4 L390.5 286.3 L391.5 286.3 L392.5 286.4 L393.5 286.5 L394.5 286.8 L395.5 287.1 L396.5 287.5 L397.5 287.9 L398.5 288.3 L399.5 288.6 L400.5 289.0 L401.5 289.4 L402.5 289.7 L403.5 290.1 L404.5 290.4 L405.5 290.7 L406.5 291.0 L407.5 291.2 L408.5 291.4 L409.5 291.5 L410.5 291.6 L411.5 291.7 L412.5 291.7 L413.5 291.7 L414.5 291.7 L415.5 291.7 L416.5 291.7 L417.5 291.7 L418.5 291.8 L419.5 291.8 L420.5 291.9 L421.5 291.9 L422.5 292.0 L423.5 292.0 L424.5 292.1 L425.5 292.2 L426.5 292.3 L427.5 292.3 L428.5 292.4 L429.5 292.5 L430.5 292.6 L431.5 292.7 L432.5 292.8 L433.5 292.9 L434.5 293.0 L435.5 293.1 L436.5 293.2 L437.5 293.3 L438.5 293.4 L439.5 293.5 L440.5 293.6 L441.5 293.7 L442.5 293.8 L443.5 293.9 L444.5 294.0 L445.5 294.1 L446.5 294.2 L447.5 294.3 L448.5 294.4 L449.5 294.4 L450.5 294.5 L451.5 294.6 L452.5 294.6 L453.5 294.7 L454.5 294.7 L455.5 294.7 L456.5 294.6 L457.5 294.5 L458.5 294.4 L459.5 294.2 L460.5 293.9 L461.5 293.5 L462.5 293.0 L463.5 292.5 L464.5 291.8 L465.5 291.0 L466.5 290.2 L467.5 289.3 L468.5 288.3 L469.5 287.2 L470.5 286.1 L471.5 285.0 L472.5 283.9 L473.5 282.7 L474.5 281.6 L475.5 280.3 L476.5 279.1 L477.5 278.1 L478.5 277.2 L479.5 276.3 L480.5 275.5 L481.5 274.7 L482.5 273.8 L483.5 272.8 L484.5 271.6 L485.5 270.3 L486.5 268.8 L487.5 267.3 L488.5 265.6 L489.5 263.9 L490.5 262.1 L491.5 260.2 L492.5 258.3 L493.5 256.3 L494.5 254.3 L495.5 252.3 L496.5 250.3 L497.5 248.3 L498.5 246.3 L499.5 244.3 L500.5 242.3 L501.5 240.3 L502.5 238.3 L503.5 236.3 L504.5 234.3 L505.5 232.3 L506.5 230.6 L507.5 229.2 L508.5 227.9 L509.5 226.8 L510.5 225.8 L511.5 224.8 L512.5 223.8 L513.5 222.9 L514.5 222.1 L515.5 221.4 L516.5 220.9 L517.5 220.3 L518.5 219.9 L519.5 219.5 L520.5 219.2 L521.5 218.9 L522.5 218.7 L523.5 218.6 L524.5 218.5 L525.5 218.5 L526.5 218.5 L527.5 218.6 L528.5 218.7 L529.5 219.0 L530.5 219.4 L531.5 219.9 L532.5 220.5 L533.5 221.2 L534.5 222.0 L535.5 222.8 L536.5 223.6 L537.5 224.5 L538.5 225.6 L539.5 226.6 L540.5 227.8 L541.5 229.2 L542.5 230.7 L543.5 232.4 L544.5 234.2 L545.5 236.2 L546.5 238.3 L547.5 240.5 L548.5 242.8 L549.5 245.2 L550.5 247.7 L551.5 250.4 L552.5 253.0 L553.5 255.7 L554.5 258.3 L555.5 260.8 L556.5 263.2 L557.5 265.6 L558.5 267.9 L559.5 270.2 L560.5 272.5 L561.5 274.6 L562.5 276.8 L563.5 278.8 L564.5 280.9 L565.5 282.8 L566.5 284.6 L567.5 286.1 L568.5 287.3 L569.5 288.3 L570.5 289.1 L571.5 289.8 L572.5 290.3 L573.5 290.8 L574.5 291.2 L575.5 291.6 L576.5 292.0 L577.5 292.4 L578.5 292.8 L579.5 293.1 L580.5 293.5 L581.5 293.8 L582.5 294.1 L583.5 294.5 L584.5 294.8 L585.5 295.2 L586.5 295.5 L587.5 295.8 L588.5 296.2 L589.5 296.5 L590.5 296.9 L591.5 297.4 L592.5 297.9 L593.5 298.4 L594.5 299.0 L595.5 299.6 L596.5 300.2 L597.5 300.7 L598.5 301.3 L599.5 301.9 L600.5 302.5 L601.5 303.0 L602.5 303.5 L603.5 303.9 L604.5 304.3 L605.5 304.4 L606.5 304.5 L607.5 304.6 L608.5 304.6 L609.5 304.5 L610.5 304.5 L611.5 304.5 L612.5 304.4 L613.5 304.4 L614.5 304.3 L615.5 304.2 L616.5 304.1 L617.5 304.0 L618.5 304.0 L619.5 304.0 L620.5 304.1 L621.5 304.3 L622.5 304.6 L623.5 304.9 L624.5 305.4 L625.5 305.8 L626.5 306.3 L627.5 306.8 L628.5 307.4 L629.5 308.0 L630.5 308.6 L631.5 309.3 L632.5 309.9 L633.5 310.5 L634.5 311.1 L635.5 311.6 L636.5 312.1 L637.5 312.5 L638.5 312.9 L639.5 313.3 L640.5 313.6 L641.5 313.8 L642.5 314.0 L643.5 314.1 L644.5 314.2 L645.5 314.2 L646.5 314.1 L647.5 314.0 L648.5 314.0 L649.5 313.8 L650.5 313.7 L651.5 313.6 L652.5 313.4 L653.5 313.3 L654.5 313.1 L655.5 312.9 L656.5 312.7 L657.5 312.4 L658.5 312.1 L659.5 311.7 L660.5 311.3 L661.5 310.9 L662.5 310.5 L663.5 310.1 L664.5 309.6 L665.5 309.2 L666.5 308.7 L667.5 308.3 L668.5 307.7 L669.5 307.2 L670.5 306.5 L671.5 305.7 L672.5 304.6 L673.5 303.6 L674.5 302.7 L675.5 302.0 L676.5 301.4 L677.5 300.8 L678.5 300.1 L679.5 299.4 L680.5 298.5 L681.5 297.3 L682.5 295.8 L683.5 294.3 L684.5 292.7 L685.5 291.2 L686.5 290.0 L687.5 289.0 L688.5 287.9 L689.5 286.9 L690.5 285.9 L691.5 285.0 L692.5 284.1 L693.5 283.2 L694.5 282.3 L695.5 281.5 L696.5 280.7 L697.5 279.9 L698.5 279.3 L699.5 278.7 L700.5 278.2 L701.5 277.7 L702.5 277.2 L703.5 276.7 L704.5 276.3 L705.5 275.9 L706.5 275.5 L707.5 275.1 L708.5 274.7 L709.5 274.3 L710.5 273.9 L711.5 273.4 L712.5 272.8 L713.5 272.2 L714.5 271.5 L715.5 270.8 L716.5 269.9 L717.5 269.0 L718.5 268.1 L719.5 267.2 L720.5 266.4 L721.5 265.6 L722.5 264.9 L723.5 264.2 L724.5 263.4 L725.5 262.6 L726.5 261.7 L727.5 260.7 L728.5 259.6 L729.5 258.3 L730.5 256.8 L731.5 254.8 L732.5 252.3 L733.5 249.7 L734.5 247.0 L735.5 244.3 L736.5 241.7 L737.5 239.0 L738.5 236.3 L739.5 233.7 L740.5 231.1 L741.5 228.7 L742.5 226.5 L743.5 224.3 L744.5 222.3 L745.5 220.6 L746.5 219.2 L747.5 218.1 L748.5 217.3 L749.5 216.7 L750.5 216.3 L751.5 216.1 L752.5 215.9 L753.5 215.9 L754.5 216.1 L755.5 216.3 L756.5 216.7 L757.5 217.3 L758.5 218.1 L759.5 219.1 L760.5 220.4 L761.5 221.8 L762.5 223.3 L763.5 225.0 L764.5 227.0 L765.5 229.5 L766.5 232.2 L767.5 234.9 L768.5 237.5 L769.5 240.2 L770.5 243.0 L771.5 245.6 L772.5 248.2 L773.5 250.6 L774.5 252.9 L775.5 255.2 L776.5 257.5 L777.5 259.8 L778.5 262.2 L779.5 264.5 L780.5 266.7 L781.5 268.6 L782.5 270.2 L783.5 271.8 L784.5 273.4 L785.5 274.8 L786.5 275.9 L787.5 276.8 L788.5 277.6 L789.5 278.3 L790.5 279.1 L791.5 279.7 L792.5 280.3 L793.5 280.9 L794.5 281.6 L795.5 282.5 L796.5 283.6 L797.5 284.9 L798.5 286.4 L799.5 287.9 L800.5 289.4 L801.5 290.9 L802.5 292.4 L803.5 293.9 L804.5 295.4 L805.5 296.9 L806.5 298.3 L807.5 299.7 L808.5 301.1 L809.5 302.4 L810.5 303.7 L811.5 304.8 L812.5 305.8 L813.5 306.8 L814.5 307.6 L815.5 308.3 L816.5 309.0 L817.5 309.6 L818.5 310.1 L819.5 310.5 L820.5 310.9 L821.5 311.2 L822.5 311.5 L823.5 311.7 L824.5 311.8 L825.5 311.8 L826.5 311.7 L827.5 311.4 L828.5 311.0 L829.5 310.4 L830.5 309.7 L831.5 308.9 L832.5 308.1 L833.5 307.2 L834.5 306.2 L835.5 305.2 L836.5 304.2 L837.5 303.2 L838.5 302.2 L839.5 301.2 L840.5 300.4 L841.5 299.6 L842.5 298.9 L843.5 298.3 L844.5 297.7 L845.5 297.2 L846.5 296.8 L847.5 296.5 L848.5 296.2 L849.5 296.1 L850.5 296.0 L851.5 296.1 L852.5 296.3 L853.5 296.6 L854.5 297.0 L855.5 297.5 L856.5 298.2 L857.5 299.1 L858.5 300.0 L859.5 301.0 L860.5 302.0 L861.5 303.1 L862.5 304.2 L863.5 305.4 L864.5 306.5 L865.5 307.6 L866.5 308.7 L867.5 309.6 L868.5 310.5 L869.5 311.4 L870.5 312.1 L871.5 312.8 L872.5 313.5 L873.5 314.0 L874.5 314.5 L875.5 315.0 L876.5 315.4 L877.5 315.7 L878.5 315.9 L879.5 316.0 L880.5 316.0 L881.5 315.9 L882.5 315.6 L883.5 315.2 L884.5 314.6 L885.5 313.9 L886.5 313.1 L887.5 312.2 L888.5 311.1 L889.5 310.0 L890.5 308.7 L891.5 307.4 L892.5 306.0 L893.5 304.5 L894.5 302.8 L895.5 301.0 L896.5 299.3 L897.5 297.5 L898.5 295.7 L899.5 294.0 L900.5 292.4 L901.5 290.7 L902.5 289.1 L903.5 287.6 L904.5 286.2 L905.5 284.9 L906.5 283.8 L907.5 282.9 L908.5 282.0 L909.5 281.2 L910.5 280.4 L911.5 279.7 L912.5 278.9 L913.5 278.3 L914.5 277.6 L915.5 277.0 L916.5 276.4 L917.5 275.8 L918.5 275.1 L919.5 274.5 L920.5 273.8 L921.5 273.1 L922.5 272.2 L923.5 271.2 L924.5 270.2 L925.5 269.2 L926.5 268.2 L927.5 267.2 L928.5 266.2 L929.5 265.2 L930.5 264.2 L931.5 263.2 L932.5 262.2 L933.5 261.3 L934.5 260.7 L935.5 260.3 L936.5 260.0 L937.5 259.8 L938.5 259.8 L939.5 259.9 L940.5 260.0 L941.5 260.2 L942.5 260.6 L943.5 260.9 L944.5 261.2 L945.5 261.3 L946.5 261.1 L947.5 260.7 L948.5 260.0 L949.5 258.9 L950.5 257.6 L951.5 256.0 L952.5 254.1 L953.5 251.9 L954.5 249.6 L955.5 247.2 L956.5 244.9 L957.5 242.7 L958.5 240.7 L959.5 238.7 L960.5 236.9 L961.5 235.3 L962.5 234.0 L963.5 233.0 L964.5 232.3 L965.5 231.8 L966.5 231.5 L967.5 231.5 L968.5 231.6 L969.5 231.8 L970.5 232.3 L971.5 232.9 L972.5 233.6 L973.5 234.4 L974.5 235.6 L975.5 237.1 L976.5 238.6 L977.5 240.1 L978.5 241.6 L979.5 243.1 L980.5 244.6 L981.5 246.1 L982.5 247.6 L983.5 249.0 L984.5 250.3 L985.5 251.5 L986.5 252.7 L987.5 253.7 L988.5 254.7 L989.5 255.7 L990.5 256.6 L991.5 257.5 L992.5 258.3 L993.5 259.1 L994.5 259.9 L995.5 260.6 L996.5 261.3 L997.5 261.8 L998.5 262.3 L999.5 262.5 L1000.5 262.4 L1001.5 262.2 L1002.5 261.8 L1003.5 261.3 L1004.5 260.8 L1005.5 260.2 L1006.5 259.6 L1007.5 259.1 L1008.5 258.7 L1009.5 258.4 L1010.5 258.2 L1011.5 258.1 L1012.5 258.2 L1013.5 258.6 L1014.5 259.4 L1015.5 260.5 L1016.5 261.8 L1017.5 263.4 L1018.5 265.3 L1019.5 267.3 L1020.5 269.3 L1021.5 271.3 L1022.5 273.3 L1023.5 275.3 L1024.5 277.3 L1025.5 279.3 L1026.5 281.3 L1027.5 283.2 L1028.5 285.0 L1029.5 286.6 L1030.5 288.1 L1031.5 289.5 L1032.5 290.8 L1033.5 292.1 L1034.5 293.4 L1035.5 294.7 L1036.5 296.0 L1037.5 297.3 L1038.5 298.4 L1039.5 299.6 L1040.5 300.5 L1041.5 301.2 L1042.5 302.0 L1043.5 302.9 L1044.5 304.0 L1045.5 305.1 L1046.5 306.2 L1047.5 307.3 L1048.5 308.5 L1049.5 309.7 L1050.5 311.0 L1051.5 312.3 L1052.5 313.5 L1053.5 314.7 L1054.5 315.8 L1055.5 316.8 L1056.5 317.6 L1057.5 318.4 L1058.5 319.1 L1059.5 319.8 L1060.5 320.4 L1061.5 320.9 L1062.5 321.4 L1063.5 321.8 L1064.5 322.1 L1065.5 322.4 L1066.5 322.7 L1067.5 322.9 L1068.5 323.1 L1069.5 323.3 L1070.5 323.5 L1071.5 323.5 L1072.5 323.5 L1073.5 323.4 L1074.5 323.3 L1075.5 323.2 L1076.5 323.0 L1077.5 322.9 L1078.5 322.7 L1079.5 322.6 L1080.5 322.4 L1081.5 322.3 L1082.5 322.3 L1083.5 322.4 L1084.5 322.6 L1085.5 322.7 L1086.5 322.8 L1087.5 322.8 L1088.5 322.7 L1089.5 322.6 L1090.5 322.4 L1091.5 322.2 L1092.5 321.9 L1093.5 321.6 L1094.5 321.1 L1095.5 320.5 L1096.5 319.9 L1097.5 319.2 L1098.5 318.4 L1099.5 317.4 L1100.5 316.4 L1101.5 315.2 L1102.5 314.0 L1103.5 312.7 L1104.5 311.5 L1105.5 310.2 L1106.5 308.8 L1107.5 307.4 L1108.5 306.1 L1109.5 304.7 L1110.5 303.3 L1111.5 301.8 L1112.5 300.3 L1113.5 298.8 L1114.5 297.2 L1115.5 295.8 L1116.5 294.5 L1117.5 293.3 L1118.5 292.2 L1119.5 291.2 L1120.5 290.3 L1121.5 289.3 L1122.5 288.5 L1123.5 287.7 L1124.5 287.2 L1125.5 286.8 L1126.5 286.4 L1127.5 286.1 L1128.5 285.8 L1129.5 285.5 L1130.5 285.2 L1131.5 284.9 L1132.5 284.7 L1133.5 284.6 L1134.5 284.7 L1135.5 284.8 L1136.5 285.0 L1137.5 285.3 L1138.5 285.6 L1139.5 285.9 L1140.5 286.2 L1141.5 286.5 L1142.5 286.8 L1143.5 287.2 L1144.5 287.5 L1145.5 287.8 L1146.5 288.1 L1147.5 288.4 L1148.5 288.5 L1149.5 288.6 L1150.5 288.5 L1151.5 288.4 L1152.5 288.3 L1153.5 288.0 L1154.5 287.6 L1155.5 287.1 L1156.5 286.5 L1157.5 285.8 L1158.5 285.0 L1159.5 284.1 L1160.5 283.1 L1161.5 282.0 L1162.5 280.8 L1163.5 279.4 L1164.5 278.1 L1165.5 276.9 L1166.5 275.9 L1167.5 275.0 L1168.5 274.2 L1169.5 273.4 L1170.5 272.7 L1171.5 272.1 L1172.5 271.4 L1173.5 270.7 L1174.5 269.8 L1175.5 268.5 L1176.5 266.9 L1177.5 264.8 L1178.5 262.3 L1179.5 259.4 L1180.5 256.0 L1181.5 252.3 L1182.5 248.6 L1183.5 245.0 L1184.5 241.3 L1185.5 237.6 L1186.5 234.0 L1187.5 230.3 L1188.5 226.8 L1189.5 223.9 L1190.5 221.5 L1191.5 219.3 L1192.5 217.4 L1193.5 215.8 L1194.5 214.6 L1195.5 213.6 L1196.5 212.9 L1197.5 212.5 L1198.5 212.3 L1199.5 212.5 L1200.5 212.9 L1201.5 213.6 L1202.5 214.7 L1203.5 216.0 L1204.5 217.5 L1205.5 219.1 L1206.5 220.9 L1207.5 222.7 L1208.5 224.5 L1209.5 226.4 L1210.5 228.3 L1211.5 230.4 L1212.5 232.4 L1213.5 234.3 L1214.5 236.1 L1215.5 237.7 L1216.5 239.0 L1217.5 239.9 L1218.5 240.7 L1219.5 241.5 L1220.5 242.2 L1221.5 242.8 L1222.5 243.5 L1223.5 244.1 L1224.5 244.7 L1225.5 245.2 L1226.5 245.7 L1227.5 246.2 L1228.5 246.6 L1229.5 246.9 L1230.5 247.1 L1231.5 247.2 L1232.5 247.3 L1233.5 247.1 L1234.5 247.0 L1235.5 246.8 L1236.5 246.8 L1237.5 246.8 L1238.5 247.0 L1239.5 247.3 L1240.5 248.1 L1241.5 249.4 L1242.5 251.2 L1243.5 253.3 L1244.5 255.8 L1245.5 258.9 L1246.5 262.5 L1247.5 266.3 L1248.5 270.3 L1249.5 274.6 L1250.5 279.1 L1251.5 283.9 L1252.5 288.7 L1253.5 293.1 L1254.5 297.1 L1255.5 300.7 L1256.5 304.1 L1257.5 307.3 L1258.5 310.3 L1259.5 312.9 L1260.5 315.0 L1261.5 316.7 L1262.5 318.0 L1263.5 318.9 L1264.5 319.5 L1265.5 320.0 L1266.5 320.2 L1267.5 320.1 L1268.5 319.9 L1269.5 319.5 L1270.5 318.7 L1271.5 317.8 L1272.5 316.9 L1273.5 316.0 L1274.5 315.0 L1275.5 314.0 L1276.5 313.0 L1277.5 312.0 L1278.5 311.3 L1279.5 310.8 L1280.5 310.5 L1281.5 310.5 L1282.5 310.5 L1283.5 310.6 L1284.5 310.8 L1285.5 311.0 L1286.5 311.3 L1287.5 311.6 L1288.5 311.8 L1289.5 312.0 L1290.5 312.2 L1291.5 312.3 L1292.5 312.4 L1293.5 312.4 L1294.5 312.4 L1295.5 312.3 L1296.5 312.2 L1297.5 312.0 L1298.5 311.7 L1299.5 311.4 L1300.5 311.0 L1301.5 310.7 L1302.5 310.3 L1303.5 309.9 L1304.5 309.5 L1305.5 309.1 L1306.5 308.6 L1307.5 308.2 L1308.5 307.8 L1309.5 307.4 L1310.5 307.0 L1311.5 306.6 L1312.5 306.2 L1313.5 305.8 L1314.5 305.3 L1315.5 304.8 L1316.5 304.3 L1317.5 303.5 L1318.5 302.4 L1319.5 301.1 L1320.5 300.1 L1321.5 299.2 L1322.5 298.4 L1323.5 297.6 L1324.5 296.6 L1325.5 295.6 L1326.5 294.4 L1327.5 293.3 L1328.5 292.1 L1329.5 291.0 L1330.5 290.0 L1331.5 288.9 L1332.5 287.9 L1333.5 287.0 L1334.5 286.1 L1335.5 285.4 L1336.5 284.8 L1337.5 284.4 L1338.5 284.0 L1339.5 283.8 L1340.5 283.5 L1341.5 283.4 L1342.5 283.3 L1343.5 283.3 L1344.5 283.3 L1345.5 283.4 L1346.5 283.6 L1347.5 283.8 L1348.5 284.1 L1349.5 284.6 L1350.5 285.1 L1351.5 285.6 L1352.5 286.2 L1353.5 286.8 L1354.5 287.5 L1355.5 288.2 L1356.5 289.0 L1357.5 289.7 L1358.5 290.3 L1359.5 290.9 L1360.5 291.5 L1361.5 291.9 L1362.5 292.4 L1363.5 292.8 L1364.5 293.1 L1365.5 293.4 L1366.5 293.5 L1367.5 293.6 L1368.5 293.6 L1369.5 293.4 L1370.5 293.1 L1371.5 292.7 L1372.5 292.1 L1373.5 291.4 L1374.5 290.5 L1375.5 289.6 L1376.5 288.7 L1377.5 287.8 L1378.5 286.9 L1379.5 285.8 L1380.5 284.7 L1381.5 283.7 L1382.5 282.8 L1383.5 282.2 L1384.5 281.9 L1385.5 281.6 L1386.5 281.4 L1387.5 281.2 L1388.5 281.1 L1389.5 281.0 L1390.5 280.7 L1391.5 280.0 L1392.5 279.1 L1393.5 277.9 L1394.5 276.4 L1395.5 274.4 L1396.5 272.0 L1397.5 269.1 L1398.5 266.0 L1399.5 262.7 L1400.5 259.2 L1401.5 255.3 L1402.5 251.3 L1403.5 247.2 L1404.5 243.3 L1405.5 239.6 L1406.5 236.2 L1407.5 233.0 L1408.5 230.1 L1409.5 227.8 L1410.5 225.8 L1411.5 224.3 L1412.5 223.0 L1413.5 221.9 L1414.5 221.2 L1415.5 220.9 L1416.5 221.0 L1417.5 221.4 L1418.5 222.1 L1419.5 223.3 L1420.5 224.6 L1421.5 225.9 L1422.5 227.3 L1423.5 228.8 L1424.5 230.4 L1425.5 231.9 L1426.5 233.3 L1427.5 234.3 L1428.5 235.2 L1429.5 235.8 L1430.5 236.3 L1431.5 236.8 L1432.5 237.3 L1433.5 237.6 L1434.5 237.9 L1435.5 238.1 L1436.5 238.1 L1437.5 238.0 L1438.5 237.8 L1439.5 237.6 L1440.5 237.3 L1441.5 237.0 L1442.5 236.7 L1443.5 236.3 L1444.5 235.8 L1445.5 235.2 L1446.5 234.4 L1447.5 233.5 L1448.5 232.6 L1449.5 231.6 L1450.5 230.5 L1451.5 229.4 L1452.5 228.2 L1453.5 227.4 L1454.5 227.0 L1455.5 226.9 L1456.5 227.0 L1457.5 227.4 L1458.5 228.3 L1459.5 229.9 L1460.5 232.2 L1461.5 235.1 L1462.5 238.2 L1463.5 241.4 L1464.5 244.9 L1465.5 248.7 L1466.5 252.7 L1467.5 256.7 L1468.5 260.7 L1469.5 264.5 L1470.5 268.3 L1471.5 271.9 L1472.5 275.4 L1473.5 278.7 L1474.5 281.7 L1475.5 284.5 L1476.5 287.1 L1477.5 289.3 L1478.5 291.3 L1479.5 292.8 L1480.5 294.1 L1481.5 295.2 L1482.5 296.1 L1483.5 296.8 L1484.5 297.4 L1485.5 297.6 L1486.5 297.4 L1487.5 297.2 L1488.5 297.0 L1489.5 296.8 L1490.5 296.6 L1491.5 296.5 L1492.5 296.3 L1493.5 296.2 L1494.5 296.1 L1495.5 296.1 L1496.5 296.1 L1497.5 296.3 L1498.5 296.5 L1499.5 296.7 L1500.5 297.0 L1501.5 297.4 L1502.5 297.8 L1503.5 298.3 L1504.5 298.8 L1505.5 299.3 L1506.5 299.9 L1507.5 300.5 L1508.5 301.2 L1509.5 302.0 L1510.5 302.9 L1511.5 303.9 L1512.5 305.1 L1513.5 306.3 L1514.5 307.6 L1515.5 308.8 L1516.5 309.8 L1517.5 310.7 L1518.5 311.5 L1519.5 312.2 L1520.5 312.8 L1521.5 313.3 L1522.5 313.7 L1523.5 314.0 L1524.5 314.1 L1525.5 314.2 L1526.5 314.1 L1527.5 313.9 L1528.5 313.7 L1529.5 313.5 L1530.5 313.1 L1531.5 312.7 L1532.5 312.3 L1533.5 311.8 L1534.5 311.3 L1535.5 310.7 L1536.5 310.1 L1537.5 309.4 L1538.5 308.6 L1539.5 307.6 L1540.5 306.5 L1541.5 305.2 L1542.5 303.8 L1543.5 302.4 L1544.5 300.8 L1545.5 299.2 L1546.5 297.6 L1547.5 295.9 L1548.5 294.3 L1549.5 292.7 L1550.5 291.1 L1551.5 289.6 L1552.5 288.1 L1553.5 286.6 L1554.5 285.2 L1555.5 283.9 L1556.5 282.7 L1557.5 281.4 L1558.5 280.2 L1559.5 279.1 L1560.5 278.0 L1561.5 276.8 L1562.5 275.7 L1563.5 274.6 L1564.5 273.4 L1565.5 272.2 L1566.5 271.0 L1567.5 269.7 L1568.5 268.4 L1569.5 267.0 L1570.5 265.5 L1571.5 264.0 L1572.5 262.4 L1573.5 260.9 L1574.5 259.5 L1575.5 258.2 L1576.5 256.9 L1577.5 255.7 L1578.5 254.7 L1579.5 254.1 L1580.5 253.7 L1581.5 253.6 L1582.5 253.6 L1583.5 253.9 L1584.5 254.4 L1585.5 255.2 L1586.5 256.3 L1587.5 257.5 L1588.5 258.9 L1589.5 260.6 L1590.5 262.4 L1591.5 264.2 L1592.5 266.1 L1593.5 268.0 L1594.5 270.0 L1595.5 272.1 L1596.5 274.0 L1597.5 275.9 L1598.5 277.5 L1599.5 278.8 L1600.5 279.9 L1601.5 280.9 L1602.5 281.7 L1603.5 282.4 L1604.5 283.0 L1605.5 283.5 L1606.5 284.0 L1607.5 284.4 L1608.5 284.8 L1609.5 285.2 L1610.5 285.5 L1611.5 285.8 L1612.5 286.0 L1613.5 286.2 L1614.5 286.3 L1615.5 286.3 L1616.5 286.3 L1617.5 286.3 L1618.5 286.3 L1619.5 286.3 L1620.5 286.3 L1621.5 286.2 L1622.5 286.1 L1623.5 286.1 L1624.5 286.1 L1625.5 286.1 L1626.5 286.3 L1627.5 286.7 L1628.5 287.1 L1629.5 287.6 L1630.5 288.2 L1631.5 288.9 L1632.5 289.7 L1633.5 290.6 L1634.5 291.5 L1635.5 292.5 L1636.5 293.5 L1637.5 294.6 L1638.5 295.5 L1639.5 296.5 L1640.5 297.3 L1641.5 298.2 L1642.5 299.0 L1643.5 299.8 L1644.5 300.6 L1644.5 300.6"/></g>
<path class="fr" d="M94.5 429.5v5.1M404.5 429.5v5.1M714.5 429.5v5.1M1024.5 429.5v5.1M1334.5 429.5v5.1M1644.5 429.5v5.1M94.5 57.5h-5.1M94.5 101.5h-5.1M94.5 145.5h-5.1M94.5 190.5h-5.1M94.5 234.5h-5.1M94.5 278.5h-5.1M94.5 322.5h-5.1M94.5 367.5h-5.1M94.5 411.5h-5.1"/>
<rect class="fr" x="94.5" y="44.5" width="1550.0" height="385.0"/>
<text class="tk" text-anchor="end" x="84.3" y="62.5">5</text>
<text class="tk" text-anchor="end" x="84.3" y="106.5">4</text>
<text class="tk" text-anchor="end" x="84.3" y="150.5">3</text>
<text class="tk" text-anchor="end" x="84.3" y="195.5">2</text>
<text class="tk" text-anchor="end" x="84.3" y="239.5">1</text>
<text class="tk" text-anchor="end" x="84.3" y="283.5">0</text>
<text class="tk" text-anchor="end" x="84.3" y="327.5"><tspan class="mn" dy="0.5">−</tspan><tspan dy="-0.5">1</tspan></text>
<text class="tk" text-anchor="end" x="84.3" y="372.5"><tspan class="mn" dy="0.5">−</tspan><tspan dy="-0.5">2</tspan></text>
<text class="tk" text-anchor="end" x="84.3" y="416.5"><tspan class="mn" dy="0.5">−</tspan><tspan dy="-0.5">3</tspan></text>
<text class="lb ti" text-anchor="middle" x="869.0" y="36.0">加速度</text>
<text class="lb xl" x="827.0" y="469.0">時間<tspan class="lx">[s]</tspan></text>
<text class="lb xl" transform="translate(55.2 329.5) rotate(-90)" x="0" y="0">加速度<tspan class="la">[m/s^2]</tspan></text>
<path d="M94.5 439.0v1M404.5 439.0v1M714.5 439.0v1M1024.5 439.0v1M1334.5 439.0v1M1644.5 439.0v1" stroke="#dcdcdc" stroke-width="1" fill="none"/>
<defs><clipPath id="c1"><rect x="94.5" y="621.5" width="1550.0" height="385.0"/></clipPath></defs>
<path class="gr" d="M94.5 1006.5V621.5M404.5 1006.5V621.5M714.5 1006.5V621.5M1024.5 1006.5V621.5M1334.5 1006.5V621.5M1644.5 1006.5V621.5M94.5 657.5H1644.5M94.5 702.5H1644.5M94.5 747.5H1644.5M94.5 792.5H1644.5M94.5 837.5H1644.5M94.5 883.5H1644.5M94.5 928.5H1644.5M94.5 973.5H1644.5"/>
<g clip-path="url(#c1)"><path class="cv" stroke="#1f77b4" d="M94.5 721.9 L95.5 722.0 L96.5 722.1 L97.5 722.2 L98.5 722.3 L99.5 722.4 L100.5 722.5 L101.5 722.5 L102.5 722.6 L103.5 722.6 L104.5 722.7 L105.5 722.7 L106.5 722.7 L107.5 722.7 L108.5 722.7 L109.5 722.6 L110.5 722.4 L111.5 722.2 L112.5 722.0 L113.5 721.9 L114.5 721.9 L115.5 721.9 L116.5 722.0 L117.5 722.3 L118.5 722.6 L119.5 723.0 L120.5 723.5 L121.5 724.0 L122.5 724.7 L123.5 725.3 L124.5 726.0 L125.5 726.7 L126.5 727.3 L127.5 727.9 L128.5 728.6 L129.5 729.2 L130.5 729.7 L131.5 730.3 L132.5 730.7 L133.5 731.1 L134.5 731.4 L135.5 731.5 L136.5 731.7 L137.5 731.8 L138.5 732.0 L139.5 732.2 L140.5 732.3 L141.5 732.4 L142.5 732.3 L143.5 732.1 L144.5 732.0 L145.5 731.7 L146.5 731.5 L147.5 731.3 L148.5 731.1 L149.5 730.9 L150.5 730.6 L151.5 730.4 L152.5 730.2 L153.5 729.9 L154.5 729.8 L155.5 729.9 L156.5 730.3 L157.5 730.8 L158.5 731.3 L159.5 731.8 L160.5 732.4 L161.5 733.0 L162.5 733.6 L163.5 734.2 L164.5 734.8 L165.5 735.3 L166.5 735.7 L167.5 736.2 L168.5 736.6 L169.5 737.0 L170.5 737.4 L171.5 737.7 L172.5 737.9 L173.5 738.2 L174.5 738.4 L175.5 738.7 L176.5 738.9 L177.5 739.2 L178.5 739.5 L179.5 739.9 L180.5 740.2 L181.5 740.6 L182.5 741.0 L183.5 741.5 L184.5 742.0 L185.5 742.5 L186.5 743.0 L187.5 743.6 L188.5 744.2 L189.5 744.7 L190.5 745.3 L191.5 745.9 L192.5 746.5 L193.5 747.0 L194.5 747.6 L195.5 748.2 L196.5 748.7 L197.5 749.3 L198.5 749.9 L199.5 750.6 L200.5 751.3 L201.5 752.1 L202.5 752.8 L203.5 753.5 L204.5 754.1 L205.5 754.6 L206.5 755.1 L207.5 755.5 L208.5 755.9 L209.5 756.2 L210.5 756.5 L211.5 756.7 L212.5 756.8 L213.5 756.9 L214.5 757.0 L215.5 757.0 L216.5 757.0 L217.5 757.0 L218.5 757.0 L219.5 756.8 L220.5 756.7 L221.5 756.7 L222.5 756.8 L223.5 757.0 L224.5 757.2 L225.5 757.4 L226.5 757.6 L227.5 757.8 L228.5 758.0 L229.5 758.2 L230.5 758.4 L231.5 758.6 L232.5 758.8 L233.5 758.9 L234.5 759.0 L235.5 759.1 L236.5 759.1 L237.5 759.1 L238.5 759.3 L239.5 759.4 L240.5 759.7 L241.5 760.1 L242.5 760.5 L243.5 761.2 L244.5 761.9 L245.5 762.7 L246.5 763.3 L247.5 763.8 L248.5 764.3 L249.5 764.7 L250.5 765.1 L251.5 765.5 L252.5 765.9 L253.5 766.4 L254.5 766.9 L255.5 767.4 L256.5 768.0 L257.5 768.6 L258.5 769.4 L259.5 770.2 L260.5 771.2 L261.5 772.3 L262.5 773.4 L263.5 774.5 L264.5 775.6 L265.5 776.8 L266.5 777.9 L267.5 779.0 L268.5 780.1 L269.5 781.3 L270.5 782.4 L271.5 783.5 L272.5 784.6 L273.5 785.8 L274.5 786.9 L275.5 788.0 L276.5 789.0 L277.5 790.1 L278.5 791.1 L279.5 792.2 L280.5 793.0 L281.5 793.8 L282.5 794.4 L283.5 794.9 L284.5 795.3 L285.5 795.6 L286.5 795.8 L287.5 795.9 L288.5 795.9 L289.5 795.8 L290.5 795.6 L291.5 795.2 L292.5 794.7 L293.5 794.0 L294.5 793.2 L295.5 792.2 L296.5 791.1 L297.5 789.8 L298.5 788.5 L299.5 787.1 L300.5 785.8 L301.5 784.5 L302.5 783.4 L303.5 782.3 L304.5 781.3 L305.5 780.5 L306.5 779.9 L307.5 779.6 L308.5 779.6 L309.5 779.7 L310.5 779.9 L311.5 780.3 L312.5 781.1 L313.5 782.1 L314.5 783.1 L315.5 784.1 L316.5 785.1 L317.5 786.1 L318.5 787.1 L319.5 788.1 L320.5 788.9 L321.5 789.5 L322.5 789.8 L323.5 790.0 L324.5 790.2 L325.5 790.4 L326.5 790.6 L327.5 790.8 L328.5 790.9 L329.5 790.9 L330.5 790.5 L331.5 789.9 L332.5 789.1 L333.5 788.3 L334.5 787.7 L335.5 787.2 L336.5 786.7 L337.5 786.3 L338.5 785.9 L339.5 785.6 L340.5 785.5 L341.5 785.5 L342.5 785.7 L343.5 786.1 L344.5 786.6 L345.5 787.2 L346.5 787.9 L347.5 788.6 L348.5 789.3 L349.5 790.0 L350.5 790.9 L351.5 791.8 L352.5 792.9 L353.5 793.9 L354.5 795.0 L355.5 796.2 L356.5 797.3 L357.5 798.5 L358.5 799.7 L359.5 800.9 L360.5 802.2 L361.5 803.4 L362.5 804.7 L363.5 806.0 L364.5 807.3 L365.5 808.7 L366.5 810.1 L367.5 811.5 L368.5 812.9 L369.5 814.2 L370.5 815.4 L371.5 816.5 L372.5 817.5 L373.5 818.4 L374.5 819.3 L375.5 820.1 L376.5 820.9 L377.5 821.7 L378.5 822.3 L379.5 822.9 L380.5 823.4 L381.5 823.7 L382.5 824.0 L383.5 824.2 L384.5 824.3 L385.5 824.4 L386.5 824.4 L387.5 824.4 L388.5 824.3 L389.5 824.3 L390.5 824.3 L391.5 824.4 L392.5 824.7 L393.5 825.1 L394.5 825.5 L395.5 826.1 L396.5 826.8 L397.5 827.6 L398.5 828.5 L399.5 829.7 L400.5 831.0 L401.5 832.3 L402.5 833.6 L403.5 834.9 L404.5 836.2 L405.5 837.4 L406.5 838.7 L407.5 840.0 L408.5 841.2 L409.5 842.4 L410.5 843.6 L411.5 844.6 L412.5 845.5 L413.5 846.3 L414.5 847.0 L415.5 847.9 L416.5 848.8 L417.5 849.7 L418.5 850.7 L419.5 851.7 L420.5 852.7 L421.5 853.8 L422.5 855.0 L423.5 856.4 L424.5 857.8 L425.5 859.4 L426.5 861.0 L427.5 862.7 L428.5 864.4 L429.5 866.2 L430.5 867.9 L431.5 869.7 L432.5 871.5 L433.5 873.2 L434.5 874.8 L435.5 876.4 L436.5 877.9 L437.5 879.4 L438.5 880.8 L439.5 882.1 L440.5 883.3 L441.5 884.4 L442.5 885.5 L443.5 886.4 L444.5 887.4 L445.5 888.2 L446.5 889.1 L447.5 889.8 L448.5 890.5 L449.5 891.1 L450.5 891.7 L451.5 892.2 L452.5 892.5 L453.5 892.7 L454.5 892.9 L455.5 892.9 L456.5 892.8 L457.5 892.4 L458.5 891.8 L459.5 891.0 L460.5 889.9 L461.5 888.5 L462.5 886.7 L463.5 884.7 L464.5 882.3 L465.5 879.8 L466.5 876.9 L467.5 873.7 L468.5 870.3 L469.5 866.9 L470.5 863.5 L471.5 860.4 L472.5 857.4 L473.5 854.5 L474.5 851.8 L475.5 849.1 L476.5 846.7 L477.5 844.4 L478.5 842.1 L479.5 839.8 L480.5 837.3 L481.5 834.7 L482.5 831.8 L483.5 828.5 L484.5 824.6 L485.5 820.2 L486.5 815.5 L487.5 810.5 L488.5 805.4 L489.5 800.0 L490.5 794.5 L491.5 788.9 L492.5 783.1 L493.5 777.1 L494.5 770.9 L495.5 763.9 L496.5 756.5 L497.5 750.0 L498.5 744.0 L499.5 738.0 L500.5 732.0 L501.5 726.0 L502.5 720.0 L503.5 713.9 L504.5 706.4 L505.5 698.9 L506.5 692.9 L507.5 688.3 L508.5 684.4 L509.5 681.1 L510.5 678.0 L511.5 674.8 L512.5 671.8 L513.5 668.9 L514.5 666.2 L515.5 663.5 L516.5 660.9 L517.5 658.5 L518.5 656.2 L519.5 654.1 L520.5 652.2 L521.5 650.4 L522.5 648.8 L523.5 647.2 L524.5 645.7 L525.5 644.4 L526.5 643.2 L527.5 642.1 L528.5 641.2 L529.5 640.4 L530.5 639.8 L531.5 639.2 L532.5 638.8 L533.5 638.5 L534.5 638.3 L535.5 638.3 L536.5 638.7 L537.5 639.5 L538.5 640.6 L539.5 642.5 L540.5 645.0 L541.5 648.2 L542.5 651.8 L543.5 656.1 L544.5 661.1 L545.5 666.5 L546.5 672.1 L547.5 678.1 L548.5 684.1 L549.5 690.1 L550.5 696.1 L551.5 702.1 L552.5 708.1 L553.5 714.0 L554.5 719.6 L555.5 724.8 L556.5 729.3 L557.5 733.0 L558.5 736.1 L559.5 739.1 L560.5 741.9 L561.5 744.3 L562.5 746.4 L563.5 748.0 L564.5 749.0 L565.5 749.5 L566.5 749.4 L567.5 749.0 L568.5 748.2 L569.5 746.9 L570.5 745.2 L571.5 743.5 L572.5 741.8 L573.5 740.2 L574.5 738.6 L575.5 737.0 L576.5 735.4 L577.5 733.8 L578.5 732.3 L579.5 730.8 L580.5 729.4 L581.5 728.1 L582.5 726.8 L583.5 725.7 L584.5 724.7 L585.5 723.8 L586.5 723.2 L587.5 722.7 L588.5 722.2 L589.5 722.0 L590.5 722.0 L591.5 722.3 L592.5 722.8 L593.5 723.7 L594.5 725.0 L595.5 726.7 L596.5 728.5 L597.5 730.5 L598.5 732.5 L599.5 734.7 L600.5 736.9 L601.5 739.3 L602.5 741.8 L603.5 744.5 L604.5 747.5 L605.5 750.9 L606.5 754.5 L607.5 758.4 L608.5 762.4 L609.5 766.7 L610.5 771.5 L611.5 776.7 L612.5 781.9 L613.5 787.1 L614.5 792.3 L615.5 797.5 L616.5 802.7 L617.5 807.9 L618.5 813.1 L619.5 818.3 L620.5 823.5 L621.5 828.7 L622.5 833.9 L623.5 839.1 L624.5 844.3 L625.5 849.5 L626.5 854.5 L627.5 859.4 L628.5 863.9 L629.5 867.9 L630.5 871.4 L631.5 874.2 L632.5 876.0 L633.5 877.4 L634.5 878.4 L635.5 879.4 L636.5 880.5 L637.5 881.3 L638.5 881.7 L639.5 881.6 L640.5 881.1 L641.5 880.4 L642.5 879.4 L643.5 878.2 L644.5 876.9 L645.5 875.4 L646.5 873.9 L647.5 872.4 L648.5 871.1 L649.5 869.9 L650.5 868.7 L651.5 867.7 L652.5 866.8 L653.5 865.9 L654.5 865.2 L655.5 864.7 L656.5 864.4 L657.5 864.3 L658.5 864.3 L659.5 864.4 L660.5 864.7 L661.5 865.1 L662.5 865.7 L663.5 866.4 L664.5 867.2 L665.5 868.0 L666.5 869.0 L667.5 870.0 L668.5 871.1 L669.5 872.1 L670.5 873.3 L671.5 874.4 L672.5 875.7 L673.5 877.0 L674.5 878.3 L675.5 879.7 L676.5 881.1 L677.5 882.5 L678.5 883.9 L679.5 885.2 L680.5 886.4 L681.5 887.6 L682.5 888.6 L683.5 889.5 L684.5 890.2 L685.5 890.6 L686.5 890.9 L687.5 891.0 L688.5 891.0 L689.5 890.9 L690.5 890.8 L691.5 890.6 L692.5 890.2 L693.5 889.8 L694.5 889.2 L695.5 888.5 L696.5 887.5 L697.5 886.3 L698.5 884.9 L699.5 883.3 L700.5 881.6 L701.5 879.7 L702.5 877.7 L703.5 875.5 L704.5 873.1 L705.5 870.6 L706.5 868.0 L707.5 865.2 L708.5 862.2 L709.5 859.1 L710.5 855.9 L711.5 852.5 L712.5 848.9 L713.5 845.1 L714.5 841.1 L715.5 837.0 L716.5 832.9 L717.5 828.3 L718.5 823.6 L719.5 819.5 L720.5 816.1 L721.5 813.0 L722.5 810.0 L723.5 807.2 L724.5 804.5 L725.5 802.0 L726.5 799.4 L727.5 796.5 L728.5 792.9 L729.5 788.6 L730.5 783.8 L731.5 778.1 L732.5 771.1 L733.5 763.2 L734.5 755.0 L735.5 746.6 L736.5 737.7 L737.5 724.2 L738.5 715.2 L739.5 707.2 L740.5 699.2 L741.5 691.2 L742.5 683.3 L743.5 675.8 L744.5 668.9 L745.5 662.6 L746.5 657.0 L747.5 651.8 L748.5 647.4 L749.5 644.2 L750.5 642.0 L751.5 640.4 L752.5 639.2 L753.5 638.7 L754.5 639.0 L755.5 640.1 L756.5 641.8 L757.5 644.2 L758.5 647.0 L759.5 650.3 L760.5 654.3 L761.5 659.2 L762.5 665.1 L763.5 671.8 L764.5 679.0 L765.5 686.6 L766.5 694.6 L767.5 702.6 L768.5 710.7 L769.5 718.7 L770.5 726.3 L771.5 733.5 L772.5 740.8 L773.5 748.1 L774.5 755.4 L775.5 762.1 L776.5 768.5 L777.5 774.8 L778.5 780.5 L779.5 785.4 L780.5 789.8 L781.5 794.1 L782.5 798.0 L783.5 801.5 L784.5 804.2 L785.5 806.4 L786.5 807.8 L787.5 808.5 L788.5 808.4 L789.5 807.8 L790.5 806.8 L791.5 805.3 L792.5 803.5 L793.5 801.6 L794.5 799.5 L795.5 797.2 L796.5 794.8 L797.5 792.4 L798.5 790.0 L799.5 787.6 L800.5 785.2 L801.5 782.8 L802.5 780.4 L803.5 778.2 L804.5 776.2 L805.5 774.3 L806.5 772.5 L807.5 770.9 L808.5 769.5 L809.5 768.4 L810.5 767.4 L811.5 766.8 L812.5 766.5 L813.5 766.4 L814.5 766.4 L815.5 766.7 L816.5 767.4 L817.5 768.5 L818.5 770.0 L819.5 772.0 L820.5 774.4 L821.5 777.2 L822.5 780.2 L823.5 783.5 L824.5 787.2 L825.5 791.1 L826.5 795.3 L827.5 799.7 L828.5 804.4 L829.5 809.5 L830.5 814.8 L831.5 820.0 L832.5 825.1 L833.5 830.0 L834.5 834.7 L835.5 839.5 L836.5 844.7 L837.5 850.8 L838.5 855.6 L839.5 859.1 L840.5 862.0 L841.5 864.5 L842.5 866.8 L843.5 869.2 L844.5 871.4 L845.5 873.3 L846.5 875.0 L847.5 876.6 L848.5 878.1 L849.5 879.6 L850.5 880.9 L851.5 882.2 L852.5 883.5 L853.5 884.9 L854.5 886.7 L855.5 888.8 L856.5 891.0 L857.5 893.0 L858.5 894.5 L859.5 895.8 L860.5 897.4 L861.5 899.5 L862.5 901.6 L863.5 903.5 L864.5 905.1 L865.5 906.7 L866.5 908.2 L867.5 909.6 L868.5 910.9 L869.5 912.1 L870.5 913.2 L871.5 914.3 L872.5 915.3 L873.5 916.3 L874.5 917.3 L875.5 918.1 L876.5 918.9 L877.5 919.7 L878.5 920.3 L879.5 920.7 L880.5 920.9 L881.5 920.9 L882.5 920.7 L883.5 920.4 L884.5 919.9 L885.5 919.2 L886.5 918.3 L887.5 917.4 L888.5 916.4 L889.5 915.4 L890.5 914.3 L891.5 913.1 L892.5 911.9 L893.5 910.6 L894.5 909.2 L895.5 907.7 L896.5 906.1 L897.5 904.3 L898.5 902.4 L899.5 900.4 L900.5 898.3 L901.5 896.4 L902.5 894.4 L903.5 892.5 L904.5 890.8 L905.5 889.3 L906.5 887.8 L907.5 886.3 L908.5 884.8 L909.5 883.3 L910.5 881.8 L911.5 880.3 L912.5 878.8 L913.5 877.3 L914.5 875.8 L915.5 874.3 L916.5 873.0 L917.5 871.7 L918.5 870.3 L919.5 868.9 L920.5 867.5 L921.5 866.1 L922.5 864.6 L923.5 863.0 L924.5 861.1 L925.5 859.0 L926.5 856.8 L927.5 854.5 L928.5 852.2 L929.5 849.8 L930.5 847.5 L931.5 845.4 L932.5 843.5 L933.5 841.8 L934.5 840.8 L935.5 840.6 L936.5 840.9 L937.5 841.7 L938.5 842.8 L939.5 844.3 L940.5 846.2 L941.5 848.4 L942.5 850.3 L943.5 851.5 L944.5 852.2 L945.5 852.6 L946.5 852.1 L947.5 850.0 L948.5 846.1 L949.5 840.6 L950.5 834.5 L951.5 827.4 L952.5 818.3 L953.5 808.6 L954.5 798.6 L955.5 788.2 L956.5 777.5 L957.5 766.9 L958.5 757.5 L959.5 749.5 L960.5 741.6 L961.5 733.6 L962.5 725.8 L963.5 718.4 L964.5 714.2 L965.5 711.4 L966.5 708.8 L967.5 706.8 L968.5 705.6 L969.5 704.9 L970.5 704.9 L971.5 705.4 L972.5 706.5 L973.5 708.2 L974.5 710.5 L975.5 713.8 L976.5 717.9 L977.5 722.2 L978.5 726.5 L979.5 731.0 L980.5 735.5 L981.5 740.1 L982.5 745.8 L983.5 750.8 L984.5 754.9 L985.5 758.6 L986.5 762.3 L987.5 765.7 L988.5 768.6 L989.5 770.9 L990.5 772.6 L991.5 774.0 L992.5 775.1 L993.5 775.9 L994.5 776.5 L995.5 777.0 L996.5 777.3 L997.5 777.5 L998.5 777.5 L999.5 777.5 L1000.5 777.4 L1001.5 777.2 L1002.5 776.8 L1003.5 776.4 L1004.5 775.9 L1005.5 775.3 L1006.5 774.5 L1007.5 773.7 L1008.5 772.8 L1009.5 771.8 L1010.5 770.6 L1011.5 769.4 L1012.5 767.9 L1013.5 766.3 L1014.5 764.5 L1015.5 762.4 L1016.5 760.2 L1017.5 757.7 L1018.5 755.2 L1019.5 752.6 L1020.5 750.2 L1021.5 748.0 L1022.5 745.9 L1023.5 744.1 L1024.5 743.1 L1025.5 742.6 L1026.5 742.5 L1027.5 743.0 L1028.5 744.4 L1029.5 746.7 L1030.5 750.0 L1031.5 754.0 L1032.5 758.5 L1033.5 763.4 L1034.5 768.8 L1035.5 774.5 L1036.5 780.7 L1037.5 787.4 L1038.5 794.6 L1039.5 802.0 L1040.5 809.2 L1041.5 816.1 L1042.5 823.2 L1043.5 831.0 L1044.5 839.0 L1045.5 847.0 L1046.5 855.0 L1047.5 863.0 L1048.5 871.0 L1049.5 879.0 L1050.5 887.0 L1051.5 895.0 L1052.5 902.9 L1053.5 910.4 L1054.5 917.7 L1055.5 924.7 L1056.5 931.0 L1057.5 936.3 L1058.5 940.7 L1059.5 944.4 L1060.5 947.7 L1061.5 950.8 L1062.5 953.4 L1063.5 955.5 L1064.5 957.1 L1065.5 958.5 L1066.5 959.5 L1067.5 960.3 L1068.5 960.8 L1069.5 960.9 L1070.5 960.7 L1071.5 960.0 L1072.5 958.8 L1073.5 957.4 L1074.5 955.7 L1075.5 953.8 L1076.5 951.8 L1077.5 949.8 L1078.5 947.7 L1079.5 945.5 L1080.5 943.3 L1081.5 941.1 L1082.5 938.9 L1083.5 936.7 L1084.5 934.5 L1085.5 932.3 L1086.5 930.1 L1087.5 928.1 L1088.5 926.2 L1089.5 924.3 L1090.5 922.8 L1091.5 921.7 L1092.5 920.9 L1093.5 920.5 L1094.5 920.5 L1095.5 920.7 L1096.5 921.1 L1097.5 921.8 L1098.5 922.6 L1099.5 923.8 L1100.5 925.5 L1101.5 927.8 L1102.5 930.2 L1103.5 932.6 L1104.5 935.0 L1105.5 937.4 L1106.5 939.8 L1107.5 942.2 L1108.5 944.6 L1109.5 947.0 L1110.5 949.4 L1111.5 951.8 L1112.5 954.3 L1113.5 957.0 L1114.5 959.8 L1115.5 962.5 L1116.5 965.0 L1117.5 967.3 L1118.5 969.5 L1119.5 971.6 L1120.5 973.5 L1121.5 975.4 L1122.5 977.1 L1123.5 978.8 L1124.5 980.3 L1125.5 981.7 L1126.5 983.0 L1127.5 984.2 L1128.5 985.2 L1129.5 986.1 L1130.5 986.9 L1131.5 987.6 L1132.5 988.0 L1133.5 988.1 L1134.5 987.9 L1135.5 987.7 L1136.5 987.4 L1137.5 987.2 L1138.5 986.9 L1139.5 986.5 L1140.5 986.2 L1141.5 985.9 L1142.5 985.5 L1143.5 985.0 L1144.5 984.3 L1145.5 983.4 L1146.5 982.2 L1147.5 980.4 L1148.5 978.0 L1149.5 975.3 L1150.5 972.4 L1151.5 969.2 L1152.5 965.8 L1153.5 962.3 L1154.5 958.7 L1155.5 954.8 L1156.5 950.8 L1157.5 946.8 L1158.5 942.8 L1159.5 938.8 L1160.5 934.8 L1161.5 930.8 L1162.5 926.8 L1163.5 923.5 L1164.5 921.4 L1165.5 919.8 L1166.5 918.1 L1167.5 916.9 L1168.5 916.7 L1169.5 916.9 L1170.5 917.1 L1171.5 917.4 L1172.5 917.9 L1173.5 918.3 L1174.5 917.5 L1175.5 915.1 L1176.5 911.5 L1177.5 906.6 L1178.5 899.7 L1179.5 891.1 L1180.5 881.4 L1181.5 871.0 L1182.5 859.4 L1183.5 846.4 L1184.5 832.4 L1185.5 818.7 L1186.5 805.8 L1187.5 793.6 L1188.5 780.2 L1189.5 762.6 L1190.5 752.5 L1191.5 744.8 L1192.5 738.0 L1193.5 732.6 L1194.5 728.8 L1195.5 726.0 L1196.5 723.7 L1197.5 722.1 L1198.5 721.3 L1199.5 722.2 L1200.5 724.5 L1201.5 727.8 L1202.5 731.5 L1203.5 735.8 L1204.5 741.2 L1205.5 747.0 L1206.5 753.4 L1207.5 760.0 L1208.5 766.7 L1209.5 773.4 L1210.5 780.0 L1211.5 786.5 L1212.5 792.3 L1213.5 797.7 L1214.5 802.3 L1215.5 806.3 L1216.5 809.5 L1217.5 811.7 L1218.5 812.9 L1219.5 813.1 L1220.5 812.4 L1221.5 811.4 L1222.5 810.0 L1223.5 808.1 L1224.5 806.1 L1225.5 804.1 L1226.5 802.1 L1227.5 800.1 L1228.5 798.1 L1229.5 796.1 L1230.5 794.2 L1231.5 792.6 L1232.5 791.5 L1233.5 790.6 L1234.5 790.0 L1235.5 789.8 L1236.5 790.1 L1237.5 790.7 L1238.5 791.8 L1239.5 793.3 L1240.5 795.4 L1241.5 797.9 L1242.5 800.7 L1243.5 803.8 L1244.5 807.4 L1245.5 811.0 L1246.5 814.7 L1247.5 818.4 L1248.5 822.0 L1249.5 825.6 L1250.5 829.1 L1251.5 832.4 L1252.5 835.8 L1253.5 839.7 L1254.5 844.2 L1255.5 849.2 L1256.5 854.2 L1257.5 859.2 L1258.5 864.2 L1259.5 869.2 L1260.5 874.1 L1261.5 878.8 L1262.5 883.3 L1263.5 887.6 L1264.5 891.8 L1265.5 895.9 L1266.5 900.0 L1267.5 903.9 L1268.5 907.5 L1269.5 911.2 L1270.5 914.9 L1271.5 918.5 L1272.5 922.2 L1273.5 925.9 L1274.5 929.5 L1275.5 932.5 L1276.5 934.9 L1277.5 937.2 L1278.5 939.3 L1279.5 941.3 L1280.5 943.0 L1281.5 944.4 L1282.5 945.6 L1283.5 946.5 L1284.5 947.0 L1285.5 947.3 L1286.5 947.4 L1287.5 947.1 L1288.5 946.5 L1289.5 945.4 L1290.5 943.7 L1291.5 941.8 L1292.5 939.7 L1293.5 937.6 L1294.5 935.4 L1295.5 933.1 L1296.5 930.7 L1297.5 928.5 L1298.5 926.5 L1299.5 924.8 L1300.5 923.3 L1301.5 922.1 L1302.5 921.2 L1303.5 920.7 L1304.5 920.7 L1305.5 921.0 L1306.5 921.7 L1307.5 923.0 L1308.5 924.5 L1309.5 926.1 L1310.5 927.9 L1311.5 929.9 L1312.5 931.9 L1313.5 934.0 L1314.5 935.8 L1315.5 937.6 L1316.5 939.2 L1317.5 940.7 L1318.5 942.0 L1319.5 943.2 L1320.5 944.2 L1321.5 945.0 L1322.5 945.7 L1323.5 946.2 L1324.5 946.5 L1325.5 946.6 L1326.5 946.6 L1327.5 946.5 L1328.5 946.3 L1329.5 946.3 L1330.5 946.3 L1331.5 946.4 L1332.5 946.6 L1333.5 946.8 L1334.5 947.1 L1335.5 947.6 L1336.5 948.3 L1337.5 949.5 L1338.5 951.3 L1339.5 953.2 L1340.5 955.2 L1341.5 957.3 L1342.5 959.5 L1343.5 961.8 L1344.5 964.0 L1345.5 966.1 L1346.5 968.2 L1347.5 970.2 L1348.5 972.1 L1349.5 974.0 L1350.5 975.7 L1351.5 977.2 L1352.5 978.6 L1353.5 979.9 L1354.5 980.9 L1355.5 981.8 L1356.5 982.5 L1357.5 983.1 L1358.5 983.6 L1359.5 984.0 L1360.5 984.4 L1361.5 984.6 L1362.5 984.7 L1363.5 984.7 L1364.5 984.4 L1365.5 984.1 L1366.5 983.6 L1367.5 983.0 L1368.5 982.2 L1369.5 981.3 L1370.5 980.1 L1371.5 978.8 L1372.5 977.2 L1373.5 975.1 L1374.5 972.8 L1375.5 970.4 L1376.5 968.0 L1377.5 965.5 L1378.5 963.0 L1379.5 960.5 L1380.5 958.1 L1381.5 956.6 L1382.5 956.0 L1383.5 956.3 L1384.5 957.1 L1385.5 958.0 L1386.5 958.6 L1387.5 959.1 L1388.5 959.4 L1389.5 959.3 L1390.5 957.8 L1391.5 955.3 L1392.5 952.1 L1393.5 946.9 L1394.5 938.6 L1395.5 928.0 L1396.5 916.3 L1397.5 904.3 L1398.5 892.5 L1399.5 880.0 L1400.5 866.9 L1401.5 853.9 L1402.5 840.9 L1403.5 827.9 L1404.5 814.9 L1405.5 793.5 L1406.5 777.7 L1407.5 769.7 L1408.5 763.2 L1409.5 756.8 L1410.5 751.5 L1411.5 747.5 L1412.5 744.3 L1413.5 741.7 L1414.5 740.8 L1415.5 741.8 L1416.5 744.3 L1417.5 747.8 L1418.5 752.0 L1419.5 757.6 L1420.5 763.6 L1421.5 769.6 L1422.5 775.6 L1423.5 781.6 L1424.5 787.1 L1425.5 792.3 L1426.5 797.2 L1427.5 801.8 L1428.5 805.7 L1429.5 808.9 L1430.5 811.3 L1431.5 813.3 L1432.5 814.8 L1433.5 815.7 L1434.5 816.3 L1435.5 816.3 L1436.5 815.6 L1437.5 814.2 L1438.5 812.2 L1439.5 809.7 L1440.5 806.8 L1441.5 803.4 L1442.5 799.7 L1443.5 795.7 L1444.5 791.5 L1445.5 787.0 L1446.5 782.5 L1447.5 778.0 L1448.5 773.5 L1449.5 769.0 L1450.5 764.5 L1451.5 760.3 L1452.5 756.4 L1453.5 752.7 L1454.5 749.5 L1455.5 747.0 L1456.5 744.9 L1457.5 743.3 L1458.5 742.2 L1459.5 741.4 L1460.5 741.0 L1461.5 741.0 L1462.5 741.4 L1463.5 742.1 L1464.5 743.1 L1465.5 744.3 L1466.5 746.0 L1467.5 748.1 L1468.5 750.7 L1469.5 753.7 L1470.5 756.8 L1471.5 760.1 L1472.5 763.8 L1473.5 768.0 L1474.5 772.9 L1475.5 778.3 L1476.5 784.0 L1477.5 789.9 L1478.5 796.1 L1479.5 802.6 L1480.5 809.1 L1481.5 815.6 L1482.5 822.1 L1483.5 828.6 L1484.5 835.1 L1485.5 841.4 L1486.5 847.3 L1487.5 853.0 L1488.5 858.4 L1489.5 863.3 L1490.5 867.9 L1491.5 872.2 L1492.5 876.1 L1493.5 879.6 L1494.5 882.7 L1495.5 885.3 L1496.5 887.3 L1497.5 888.8 L1498.5 889.7 L1499.5 890.3 L1500.5 890.2 L1501.5 889.7 L1502.5 889.1 L1503.5 888.5 L1504.5 887.8 L1505.5 887.1 L1506.5 886.3 L1507.5 885.6 L1508.5 884.9 L1509.5 884.3 L1510.5 883.9 L1511.5 883.6 L1512.5 883.7 L1513.5 883.9 L1514.5 884.2 L1515.5 884.7 L1516.5 885.2 L1517.5 885.7 L1518.5 886.3 L1519.5 886.9 L1520.5 887.5 L1521.5 887.9 L1522.5 888.3 L1523.5 888.6 L1524.5 888.8 L1525.5 888.8 L1526.5 888.7 L1527.5 888.5 L1528.5 888.3 L1529.5 888.1 L1530.5 888.0 L1531.5 887.9 L1532.5 888.1 L1533.5 888.8 L1534.5 889.9 L1535.5 891.1 L1536.5 892.5 L1537.5 893.9 L1538.5 895.2 L1539.5 896.5 L1540.5 897.6 L1541.5 898.5 L1542.5 899.3 L1543.5 899.8 L1544.5 900.1 L1545.5 900.2 L1546.5 900.1 L1547.5 900.0 L1548.5 899.7 L1549.5 899.4 L1550.5 899.0 L1551.5 898.4 L1552.5 897.7 L1553.5 896.8 L1554.5 895.8 L1555.5 894.4 L1556.5 892.9 L1557.5 891.1 L1558.5 888.9 L1559.5 886.2 L1560.5 883.1 L1561.5 879.4 L1562.5 875.1 L1563.5 870.3 L1564.5 865.1 L1565.5 859.3 L1566.5 852.9 L1567.5 846.4 L1568.5 839.9 L1569.5 833.4 L1570.5 826.9 L1571.5 820.4 L1572.5 814.2 L1573.5 808.8 L1574.5 803.6 L1575.5 798.8 L1576.5 794.7 L1577.5 791.5 L1578.5 789.3 L1579.5 787.8 L1580.5 786.9 L1581.5 786.6 L1582.5 786.9 L1583.5 788.1 L1584.5 790.3 L1585.5 793.8 L1586.5 798.5 L1587.5 803.7 L1588.5 809.3 L1589.5 815.1 L1590.5 821.2 L1591.5 827.6 L1592.5 834.4 L1593.5 841.7 L1594.5 849.0 L1595.5 856.3 L1596.5 863.7 L1597.5 871.0 L1598.5 877.7 L1599.5 884.0 L1600.5 890.1 L1601.5 896.0 L1602.5 901.6 L1603.5 906.8 L1604.5 911.3 L1605.5 915.1 L1606.5 918.5 L1607.5 921.5 L1608.5 924.1 L1609.5 926.3 L1610.5 928.1 L1611.5 929.5 L1612.5 930.6 L1613.5 931.3 L1614.5 931.7 L1615.5 931.8 L1616.5 931.6 L1617.5 931.2 L1618.5 930.4 L1619.5 929.4 L1620.5 928.2 L1621.5 926.7 L1622.5 924.9 L1623.5 923.1 L1624.5 921.0 L1625.5 918.7 L1626.5 916.3 L1627.5 913.6 L1628.5 910.6 L1629.5 907.4 L1630.5 904.0 L1631.5 900.6 L1632.5 897.4 L1633.5 894.3 L1634.5 891.4 L1635.5 888.7 L1636.5 886.5 L1637.5 884.8 L1638.5 883.5 L1639.5 882.4 L1640.5 881.7 L1641.5 881.3 L1642.5 880.9 L1643.5 880.7 L1644.5 880.5 L1644.6 880.4"/><path class="cv" stroke="#ff7f0e" d="M94.5 716.9 L95.5 717.1 L96.5 717.2 L97.5 717.3 L98.5 717.5 L99.5 717.6 L100.5 717.7 L101.5 717.8 L102.5 718.0 L103.5 718.1 L104.5 718.2 L105.5 718.4 L106.5 718.5 L107.5 718.6 L108.5 718.7 L109.5 718.8 L110.5 718.9 L111.5 719.1 L112.5 719.2 L113.5 719.3 L114.5 719.4 L115.5 719.5 L116.5 719.6 L117.5 719.8 L118.5 719.9 L119.5 720.0 L120.5 720.2 L121.5 720.4 L122.5 720.6 L123.5 720.8 L124.5 721.0 L125.5 721.2 L126.5 721.4 L127.5 721.7 L128.5 721.9 L129.5 722.2 L130.5 722.4 L131.5 722.6 L132.5 722.9 L133.5 723.1 L134.5 723.4 L135.5 723.7 L136.5 723.9 L137.5 724.2 L138.5 724.4 L139.5 724.7 L140.5 724.9 L141.5 725.2 L142.5 725.4 L143.5 725.6 L144.5 725.8 L145.5 726.0 L146.5 726.2 L147.5 726.4 L148.5 726.6 L149.5 726.7 L150.5 726.9 L151.5 727.1 L152.5 727.3 L153.5 727.5 L154.5 727.6 L155.5 727.8 L156.5 728.0 L157.5 728.1 L158.5 728.3 L159.5 728.4 L160.5 728.6 L161.5 728.7 L162.5 728.9 L163.5 729.1 L164.5 729.2 L165.5 729.4 L166.5 729.6 L167.5 729.8 L168.5 730.0 L169.5 730.2 L170.5 730.4 L171.5 730.6 L172.5 730.9 L173.5 731.1 L174.5 731.3 L175.5 731.6 L176.5 731.9 L177.5 732.1 L178.5 732.4 L179.5 732.7 L180.5 732.9 L181.5 733.2 L182.5 733.5 L183.5 733.8 L184.5 734.0 L185.5 734.3 L186.5 734.6 L187.5 734.9 L188.5 735.1 L189.5 735.4 L190.5 735.7 L191.5 736.0 L192.5 736.3 L193.5 736.6 L194.5 736.8 L195.5 737.1 L196.5 737.4 L197.5 737.7 L198.5 738.0 L199.5 738.3 L200.5 738.6 L201.5 738.9 L202.5 739.2 L203.5 739.5 L204.5 739.9 L205.5 740.2 L206.5 740.6 L207.5 740.9 L208.5 741.3 L209.5 741.7 L210.5 742.1 L211.5 742.5 L212.5 743.0 L213.5 743.4 L214.5 743.9 L215.5 744.4 L216.5 744.8 L217.5 745.3 L218.5 745.8 L219.5 746.3 L220.5 746.7 L221.5 747.2 L222.5 747.6 L223.5 748.0 L224.5 748.5 L225.5 748.9 L226.5 749.3 L227.5 749.7 L228.5 750.1 L229.5 750.5 L230.5 750.8 L231.5 751.2 L232.5 751.5 L233.5 751.8 L234.5 752.2 L235.5 752.5 L236.5 752.8 L237.5 753.1 L238.5 753.5 L239.5 753.9 L240.5 754.2 L241.5 754.6 L242.5 755.0 L243.5 755.4 L244.5 755.8 L245.5 756.2 L246.5 756.6 L247.5 756.9 L248.5 757.3 L249.5 757.6 L250.5 757.9 L251.5 758.2 L252.5 758.6 L253.5 758.9 L254.5 759.2 L255.5 759.6 L256.5 760.0 L257.5 760.3 L258.5 760.7 L259.5 761.1 L260.5 761.5 L261.5 761.9 L262.5 762.4 L263.5 762.8 L264.5 763.2 L265.5 763.6 L266.5 764.0 L267.5 764.4 L268.5 764.8 L269.5 765.2 L270.5 765.7 L271.5 766.1 L272.5 766.6 L273.5 767.1 L274.5 767.6 L275.5 768.2 L276.5 768.8 L277.5 769.5 L278.5 770.1 L279.5 770.8 L280.5 771.4 L281.5 772.1 L282.5 772.7 L283.5 773.4 L284.5 774.0 L285.5 774.7 L286.5 775.4 L287.5 776.1 L288.5 776.8 L289.5 777.4 L290.5 778.1 L291.5 778.7 L292.5 779.2 L293.5 779.8 L294.5 780.3 L295.5 780.8 L296.5 781.3 L297.5 781.7 L298.5 782.1 L299.5 782.6 L300.5 783.0 L301.5 783.3 L302.5 783.7 L303.5 784.1 L304.5 784.5 L305.5 784.8 L306.5 785.2 L307.5 785.5 L308.5 785.8 L309.5 786.1 L310.5 786.4 L311.5 786.7 L312.5 787.0 L313.5 787.3 L314.5 787.6 L315.5 787.9 L316.5 788.2 L317.5 788.5 L318.5 788.9 L319.5 789.2 L320.5 789.6 L321.5 790.0 L322.5 790.4 L323.5 790.7 L324.5 791.1 L325.5 791.4 L326.5 791.8 L327.5 792.1 L328.5 792.4 L329.5 792.6 L330.5 792.8 L331.5 792.9 L332.5 793.0 L333.5 793.1 L334.5 793.1 L335.5 793.1 L336.5 793.0 L337.5 793.0 L338.5 792.9 L339.5 792.8 L340.5 792.8 L341.5 792.7 L342.5 792.6 L343.5 792.5 L344.5 792.5 L345.5 792.4 L346.5 792.3 L347.5 792.2 L348.5 792.1 L349.5 792.1 L350.5 792.0 L351.5 791.9 L352.5 791.8 L353.5 791.7 L354.5 791.7 L355.5 791.7 L356.5 791.8 L357.5 791.9 L358.5 792.0 L359.5 792.2 L360.5 792.4 L361.5 792.7 L362.5 792.9 L363.5 793.3 L364.5 793.7 L365.5 794.2 L366.5 794.8 L367.5 795.4 L368.5 796.0 L369.5 796.6 L370.5 797.3 L371.5 797.9 L372.5 798.5 L373.5 799.2 L374.5 799.8 L375.5 800.5 L376.5 801.1 L377.5 801.8 L378.5 802.5 L379.5 803.2 L380.5 803.8 L381.5 804.5 L382.5 805.2 L383.5 805.8 L384.5 806.5 L385.5 807.0 L386.5 807.6 L387.5 808.1 L388.5 808.6 L389.5 809.1 L390.5 809.6 L391.5 810.1 L392.5 810.7 L393.5 811.2 L394.5 811.8 L395.5 812.4 L396.5 812.9 L397.5 813.5 L398.5 814.2 L399.5 814.8 L400.5 815.6 L401.5 816.4 L402.5 817.2 L403.5 818.0 L404.5 818.9 L405.5 819.7 L406.5 820.5 L407.5 821.4 L408.5 822.2 L409.5 823.0 L410.5 823.9 L411.5 824.7 L412.5 825.5 L413.5 826.4 L414.5 827.2 L415.5 828.0 L416.5 828.9 L417.5 829.7 L418.5 830.5 L419.5 831.4 L420.5 832.2 L421.5 833.0 L422.5 833.9 L423.5 834.7 L424.5 835.5 L425.5 836.4 L426.5 837.2 L427.5 838.0 L428.5 838.9 L429.5 839.8 L430.5 840.6 L431.5 841.6 L432.5 842.5 L433.5 843.4 L434.5 844.4 L435.5 845.3 L436.5 846.3 L437.5 847.3 L438.5 848.2 L439.5 849.2 L440.5 850.2 L441.5 851.2 L442.5 852.2 L443.5 853.2 L444.5 854.3 L445.5 855.3 L446.5 856.4 L447.5 857.5 L448.5 858.6 L449.5 859.7 L450.5 860.7 L451.5 861.8 L452.5 862.9 L453.5 864.0 L454.5 865.1 L455.5 866.2 L456.5 867.3 L457.5 868.4 L458.5 869.5 L459.5 870.6 L460.5 871.7 L461.5 872.8 L462.5 873.8 L463.5 874.7 L464.5 875.6 L465.5 876.4 L466.5 877.1 L467.5 877.8 L468.5 878.4 L469.5 878.9 L470.5 879.4 L471.5 879.8 L472.5 880.2 L473.5 880.6 L474.5 880.8 L475.5 881.1 L476.5 881.2 L477.5 881.3 L478.5 881.3 L479.5 881.1 L480.5 880.9 L481.5 880.7 L482.5 880.3 L483.5 879.9 L484.5 879.3 L485.5 878.8 L486.5 878.1 L487.5 877.4 L488.5 876.6 L489.5 875.6 L490.5 874.6 L491.5 873.4 L492.5 872.2 L493.5 870.8 L494.5 869.3 L495.5 867.7 L496.5 865.9 L497.5 864.0 L498.5 862.0 L499.5 859.9 L500.5 857.6 L501.5 855.2 L502.5 852.7 L503.5 850.0 L504.5 847.2 L505.5 844.2 L506.5 841.1 L507.5 838.0 L508.5 834.7 L509.5 831.2 L510.5 827.7 L511.5 824.0 L512.5 820.4 L513.5 816.6 L514.5 812.9 L515.5 809.0 L516.5 805.1 L517.5 801.2 L518.5 797.3 L519.5 793.3 L520.5 789.2 L521.5 785.2 L522.5 781.1 L523.5 776.8 L524.5 772.5 L525.5 768.2 L526.5 763.9 L527.5 759.7 L528.5 755.6 L529.5 751.6 L530.5 747.5 L531.5 743.6 L532.5 739.6 L533.5 735.7 L534.5 731.7 L535.5 727.8 L536.5 724.0 L537.5 720.3 L538.5 716.7 L539.5 713.3 L540.5 710.2 L541.5 707.2 L542.5 704.4 L543.5 701.7 L544.5 699.1 L545.5 696.6 L546.5 694.2 L547.5 691.9 L548.5 689.8 L549.5 687.9 L550.5 686.2 L551.5 684.7 L552.5 683.3 L553.5 682.2 L554.5 681.3 L555.5 680.5 L556.5 679.8 L557.5 679.2 L558.5 678.7 L559.5 678.3 L560.5 678.1 L561.5 678.0 L562.5 678.0 L563.5 678.1 L564.5 678.3 L565.5 678.6 L566.5 679.0 L567.5 679.6 L568.5 680.2 L569.5 680.9 L570.5 681.6 L571.5 682.4 L572.5 683.3 L573.5 684.2 L574.5 685.2 L575.5 686.1 L576.5 687.1 L577.5 688.1 L578.5 689.2 L579.5 690.3 L580.5 691.5 L581.5 692.6 L582.5 693.7 L583.5 694.8 L584.5 696.0 L585.5 697.1 L586.5 698.2 L587.5 699.3 L588.5 700.5 L589.5 701.6 L590.5 702.7 L591.5 703.9 L592.5 705.2 L593.5 706.5 L594.5 708.0 L595.5 709.5 L596.5 711.0 L597.5 712.5 L598.5 714.1 L599.5 715.7 L600.5 717.4 L601.5 719.1 L602.5 720.8 L603.5 722.6 L604.5 724.3 L605.5 726.1 L606.5 727.8 L607.5 729.6 L608.5 731.3 L609.5 733.1 L610.5 734.8 L611.5 736.6 L612.5 738.3 L613.5 740.1 L614.5 741.8 L615.5 743.7 L616.5 745.6 L617.5 747.5 L618.5 749.4 L619.5 751.3 L620.5 753.1 L621.5 754.8 L622.5 756.5 L623.5 758.3 L624.5 760.0 L625.5 761.8 L626.5 763.6 L627.5 765.4 L628.5 767.2 L629.5 769.1 L630.5 771.0 L631.5 773.1 L632.5 775.3 L633.5 777.4 L634.5 779.5 L635.5 781.6 L636.5 783.8 L637.5 785.9 L638.5 788.0 L639.5 790.1 L640.5 792.3 L641.5 794.4 L642.5 796.5 L643.5 798.6 L644.5 800.8 L645.5 802.9 L646.5 805.0 L647.5 807.1 L648.5 809.3 L649.5 811.4 L650.5 813.5 L651.5 815.6 L652.5 817.8 L653.5 819.9 L654.5 822.0 L655.5 824.1 L656.5 826.3 L657.5 828.4 L658.5 830.5 L659.5 832.6 L660.5 834.8 L661.5 836.9 L662.5 839.2 L663.5 841.4 L664.5 843.7 L665.5 846.0 L666.5 848.3 L667.5 850.6 L668.5 852.8 L669.5 855.0 L670.5 857.0 L671.5 859.0 L672.5 860.8 L673.5 862.5 L674.5 864.1 L675.5 865.6 L676.5 867.1 L677.5 868.6 L678.5 870.0 L679.5 871.4 L680.5 872.8 L681.5 874.1 L682.5 875.3 L683.5 876.5 L684.5 877.5 L685.5 878.6 L686.5 879.5 L687.5 880.4 L688.5 881.2 L689.5 882.0 L690.5 882.7 L691.5 883.4 L692.5 884.0 L693.5 884.5 L694.5 885.0 L695.5 885.5 L696.5 885.8 L697.5 886.1 L698.5 886.3 L699.5 886.5 L700.5 886.5 L701.5 886.5 L702.5 886.4 L703.5 886.3 L704.5 886.2 L705.5 886.1 L706.5 885.9 L707.5 885.7 L708.5 885.4 L709.5 885.1 L710.5 884.8 L711.5 884.5 L712.5 884.1 L713.5 883.7 L714.5 883.3 L715.5 882.9 L716.5 882.3 L717.5 881.7 L718.5 881.0 L719.5 880.2 L720.5 879.4 L721.5 878.6 L722.5 877.7 L723.5 876.8 L724.5 875.7 L725.5 874.5 L726.5 873.3 L727.5 872.0 L728.5 870.6 L729.5 869.2 L730.5 867.6 L731.5 865.9 L732.5 864.1 L733.5 862.1 L734.5 860.0 L735.5 857.8 L736.5 855.4 L737.5 852.9 L738.5 850.2 L739.5 847.3 L740.5 844.2 L741.5 840.8 L742.5 837.3 L743.5 833.7 L744.5 829.9 L745.5 826.0 L746.5 822.0 L747.5 817.8 L748.5 813.6 L749.5 809.3 L750.5 805.0 L751.5 800.7 L752.5 796.5 L753.5 792.4 L754.5 788.3 L755.5 784.3 L756.5 780.3 L757.5 776.4 L758.5 772.5 L759.5 768.8 L760.5 765.3 L761.5 762.1 L762.5 759.0 L763.5 756.0 L764.5 753.1 L765.5 750.4 L766.5 747.8 L767.5 745.4 L768.5 743.2 L769.5 741.1 L770.5 739.2 L771.5 737.4 L772.5 735.7 L773.5 734.2 L774.5 732.9 L775.5 731.7 L776.5 730.6 L777.5 729.7 L778.5 728.8 L779.5 728.1 L780.5 727.5 L781.5 727.0 L782.5 726.6 L783.5 726.3 L784.5 726.1 L785.5 725.9 L786.5 725.8 L787.5 725.7 L788.5 725.8 L789.5 725.8 L790.5 725.9 L791.5 726.1 L792.5 726.3 L793.5 726.5 L794.5 726.8 L795.5 727.1 L796.5 727.6 L797.5 728.1 L798.5 728.7 L799.5 729.3 L800.5 730.1 L801.5 731.0 L802.5 732.0 L803.5 733.1 L804.5 734.3 L805.5 735.6 L806.5 736.9 L807.5 738.3 L808.5 739.8 L809.5 741.4 L810.5 743.1 L811.5 744.9 L812.5 746.8 L813.5 748.7 L814.5 750.7 L815.5 752.8 L816.5 755.0 L817.5 757.3 L818.5 759.5 L819.5 761.8 L820.5 764.0 L821.5 766.3 L822.5 768.5 L823.5 770.8 L824.5 773.0 L825.5 775.3 L826.5 777.5 L827.5 779.8 L828.5 782.0 L829.5 784.2 L830.5 786.3 L831.5 788.2 L832.5 790.2 L833.5 792.0 L834.5 793.9 L835.5 795.6 L836.5 797.3 L837.5 798.9 L838.5 800.4 L839.5 801.8 L840.5 803.1 L841.5 804.4 L842.5 805.7 L843.5 806.9 L844.5 808.2 L845.5 809.4 L846.5 810.7 L847.5 812.0 L848.5 813.2 L849.5 814.5 L850.5 815.7 L851.5 817.0 L852.5 818.2 L853.5 819.5 L854.5 820.8 L855.5 822.1 L856.5 823.6 L857.5 825.1 L858.5 826.8 L859.5 828.6 L860.5 830.4 L861.5 832.4 L862.5 834.4 L863.5 836.4 L864.5 838.5 L865.5 840.6 L866.5 842.7 L867.5 844.8 L868.5 847.0 L869.5 849.5 L870.5 852.0 L871.5 854.5 L872.5 857.0 L873.5 859.5 L874.5 862.0 L875.5 864.5 L876.5 867.0 L877.5 869.5 L878.5 872.0 L879.5 874.4 L880.5 876.8 L881.5 879.2 L882.5 881.5 L883.5 883.8 L884.5 886.1 L885.5 888.4 L886.5 890.6 L887.5 892.8 L888.5 894.9 L889.5 896.7 L890.5 898.5 L891.5 900.0 L892.5 901.5 L893.5 902.9 L894.5 904.2 L895.5 905.4 L896.5 906.5 L897.5 907.6 L898.5 908.6 L899.5 909.5 L900.5 910.3 L901.5 910.9 L902.5 911.5 L903.5 912.0 L904.5 912.4 L905.5 912.7 L906.5 913.0 L907.5 913.2 L908.5 913.4 L909.5 913.6 L910.5 913.8 L911.5 913.8 L912.5 913.8 L913.5 913.8 L914.5 913.7 L915.5 913.6 L916.5 913.4 L917.5 913.2 L918.5 912.9 L919.5 912.5 L920.5 912.1 L921.5 911.5 L922.5 910.9 L923.5 910.2 L924.5 909.4 L925.5 908.6 L926.5 907.7 L927.5 906.7 L928.5 905.6 L929.5 904.5 L930.5 903.4 L931.5 902.2 L932.5 901.1 L933.5 900.0 L934.5 898.9 L935.5 897.7 L936.5 896.6 L937.5 895.5 L938.5 894.4 L939.5 893.2 L940.5 892.1 L941.5 891.0 L942.5 889.9 L943.5 888.8 L944.5 887.8 L945.5 886.8 L946.5 885.7 L947.5 884.5 L948.5 883.2 L949.5 881.9 L950.5 880.4 L951.5 878.9 L952.5 877.3 L953.5 875.4 L954.5 873.2 L955.5 870.7 L956.5 868.0 L957.5 865.2 L958.5 862.3 L959.5 859.4 L960.5 856.4 L961.5 853.2 L962.5 849.8 L963.5 846.5 L964.5 843.2 L965.5 839.8 L966.5 836.5 L967.5 833.2 L968.5 829.9 L969.5 826.7 L970.5 823.8 L971.5 820.9 L972.5 818.1 L973.5 815.3 L974.5 812.7 L975.5 810.4 L976.5 808.3 L977.5 806.3 L978.5 804.3 L979.5 802.5 L980.5 800.6 L981.5 798.8 L982.5 797.1 L983.5 795.4 L984.5 793.8 L985.5 792.3 L986.5 790.8 L987.5 789.5 L988.5 788.2 L989.5 787.0 L990.5 785.8 L991.5 784.7 L992.5 783.6 L993.5 782.6 L994.5 781.6 L995.5 780.7 L996.5 779.8 L997.5 778.8 L998.5 777.8 L999.5 776.8 L1000.5 775.7 L1001.5 774.7 L1002.5 773.6 L1003.5 772.5 L1004.5 771.4 L1005.5 770.3 L1006.5 769.1 L1007.5 768.0 L1008.5 766.7 L1009.5 765.5 L1010.5 764.2 L1011.5 762.9 L1012.5 761.7 L1013.5 760.6 L1014.5 759.4 L1015.5 758.3 L1016.5 757.3 L1017.5 756.3 L1018.5 755.5 L1019.5 754.8 L1020.5 754.2 L1021.5 753.6 L1022.5 753.1 L1023.5 752.8 L1024.5 752.7 L1025.5 752.6 L1026.5 752.8 L1027.5 753.0 L1028.5 753.4 L1029.5 754.0 L1030.5 754.7 L1031.5 755.5 L1032.5 756.4 L1033.5 757.5 L1034.5 758.7 L1035.5 760.0 L1036.5 761.4 L1037.5 762.8 L1038.5 764.4 L1039.5 765.9 L1040.5 767.6 L1041.5 769.2 L1042.5 770.9 L1043.5 772.6 L1044.5 774.3 L1045.5 776.0 L1046.5 777.8 L1047.5 779.6 L1048.5 781.5 L1049.5 783.5 L1050.5 785.6 L1051.5 787.7 L1052.5 790.0 L1053.5 792.3 L1054.5 794.6 L1055.5 797.1 L1056.5 799.5 L1057.5 802.1 L1058.5 804.6 L1059.5 807.3 L1060.5 809.9 L1061.5 812.6 L1062.5 815.4 L1063.5 818.1 L1064.5 820.9 L1065.5 823.8 L1066.5 826.8 L1067.5 829.9 L1068.5 833.0 L1069.5 836.0 L1070.5 838.9 L1071.5 841.7 L1072.5 844.5 L1073.5 847.2 L1074.5 850.0 L1075.5 852.7 L1076.5 855.5 L1077.5 858.2 L1078.5 861.0 L1079.5 863.7 L1080.5 866.5 L1081.5 869.2 L1082.5 872.0 L1083.5 874.7 L1084.5 877.5 L1085.5 880.3 L1086.5 883.0 L1087.5 885.8 L1088.5 888.5 L1089.5 891.1 L1090.5 893.8 L1091.5 896.4 L1092.5 899.0 L1093.5 901.6 L1094.5 904.2 L1095.5 906.8 L1096.5 909.5 L1097.5 912.1 L1098.5 914.7 L1099.5 917.3 L1100.5 920.0 L1101.5 922.5 L1102.5 924.9 L1103.5 927.3 L1104.5 929.5 L1105.5 931.8 L1106.5 934.0 L1107.5 936.2 L1108.5 938.3 L1109.5 940.2 L1110.5 942.1 L1111.5 944.0 L1112.5 945.7 L1113.5 947.4 L1114.5 949.0 L1115.5 950.4 L1116.5 951.8 L1117.5 953.1 L1118.5 954.3 L1119.5 955.4 L1120.5 956.5 L1121.5 957.4 L1122.5 958.3 L1123.5 959.1 L1124.5 959.7 L1125.5 960.4 L1126.5 961.1 L1127.5 961.7 L1128.5 962.2 L1129.5 962.8 L1130.5 963.3 L1131.5 963.8 L1132.5 964.3 L1133.5 964.8 L1134.5 965.3 L1135.5 965.8 L1136.5 966.2 L1137.5 966.7 L1138.5 967.2 L1139.5 967.7 L1140.5 968.2 L1141.5 968.8 L1142.5 969.4 L1143.5 970.0 L1144.5 970.7 L1145.5 971.3 L1146.5 972.0 L1147.5 972.6 L1148.5 973.2 L1149.5 973.8 L1150.5 974.5 L1151.5 975.1 L1152.5 975.7 L1153.5 976.3 L1154.5 976.9 L1155.5 977.4 L1156.5 977.8 L1157.5 978.3 L1158.5 978.7 L1159.5 979.1 L1160.5 979.3 L1161.5 979.5 L1162.5 979.6 L1163.5 979.6 L1164.5 979.5 L1165.5 979.4 L1166.5 979.2 L1167.5 978.9 L1168.5 978.6 L1169.5 978.2 L1170.5 977.8 L1171.5 977.4 L1172.5 976.9 L1173.5 976.4 L1174.5 975.8 L1175.5 975.1 L1176.5 974.3 L1177.5 973.3 L1178.5 972.1 L1179.5 970.7 L1180.5 969.3 L1181.5 967.6 L1182.5 965.7 L1183.5 963.5 L1184.5 961.0 L1185.5 958.2 L1186.5 955.1 L1187.5 951.7 L1188.5 947.9 L1189.5 943.7 L1190.5 939.5 L1191.5 935.2 L1192.5 930.8 L1193.5 926.2 L1194.5 921.5 L1195.5 916.8 L1196.5 912.2 L1197.5 907.5 L1198.5 902.8 L1199.5 898.2 L1200.5 893.5 L1201.5 888.8 L1202.5 884.2 L1203.5 880.0 L1204.5 876.1 L1205.5 872.3 L1206.5 868.7 L1207.5 865.1 L1208.5 861.6 L1209.5 858.4 L1210.5 855.4 L1211.5 852.5 L1212.5 849.8 L1213.5 847.1 L1214.5 844.6 L1215.5 842.1 L1216.5 839.7 L1217.5 837.3 L1218.5 835.0 L1219.5 832.9 L1220.5 830.8 L1221.5 828.8 L1222.5 826.7 L1223.5 824.8 L1224.5 822.8 L1225.5 820.9 L1226.5 819.1 L1227.5 817.2 L1228.5 815.3 L1229.5 813.4 L1230.5 811.6 L1231.5 809.7 L1232.5 807.8 L1233.5 805.9 L1234.5 804.1 L1235.5 802.2 L1236.5 800.3 L1237.5 798.5 L1238.5 796.7 L1239.5 795.0 L1240.5 793.3 L1241.5 791.7 L1242.5 790.2 L1243.5 788.7 L1244.5 787.5 L1245.5 786.6 L1246.5 786.0 L1247.5 785.7 L1248.5 785.7 L1249.5 785.9 L1250.5 786.5 L1251.5 787.3 L1252.5 788.3 L1253.5 789.6 L1254.5 791.0 L1255.5 792.7 L1256.5 795.0 L1257.5 797.4 L1258.5 800.0 L1259.5 802.6 L1260.5 805.5 L1261.5 808.3 L1262.5 811.2 L1263.5 814.0 L1264.5 816.8 L1265.5 819.6 L1266.5 822.4 L1267.5 825.1 L1268.5 827.8 L1269.5 830.5 L1270.5 833.0 L1271.5 835.5 L1272.5 837.7 L1273.5 839.9 L1274.5 842.0 L1275.5 844.1 L1276.5 846.2 L1277.5 848.3 L1278.5 850.4 L1279.5 852.5 L1280.5 854.6 L1281.5 856.7 L1282.5 858.9 L1283.5 861.1 L1284.5 863.3 L1285.5 865.5 L1286.5 867.7 L1287.5 869.9 L1288.5 872.1 L1289.5 874.3 L1290.5 876.5 L1291.5 878.7 L1292.5 880.9 L1293.5 883.1 L1294.5 885.3 L1295.5 887.5 L1296.5 889.7 L1297.5 891.9 L1298.5 894.1 L1299.5 896.2 L1300.5 898.2 L1301.5 900.2 L1302.5 902.1 L1303.5 904.1 L1304.5 906.1 L1305.5 908.1 L1306.5 910.1 L1307.5 912.1 L1308.5 914.1 L1309.5 916.1 L1310.5 918.1 L1311.5 919.9 L1312.5 921.7 L1313.5 923.5 L1314.5 925.2 L1315.5 926.9 L1316.5 928.5 L1317.5 930.1 L1318.5 931.7 L1319.5 933.3 L1320.5 934.8 L1321.5 936.4 L1322.5 937.9 L1323.5 939.3 L1324.5 940.7 L1325.5 941.9 L1326.5 943.1 L1327.5 944.0 L1328.5 944.8 L1329.5 945.4 L1330.5 946.0 L1331.5 946.6 L1332.5 947.1 L1333.5 947.7 L1334.5 948.2 L1335.5 948.7 L1336.5 949.2 L1337.5 949.7 L1338.5 950.2 L1339.5 950.6 L1340.5 950.9 L1341.5 951.3 L1342.5 951.6 L1343.5 951.9 L1344.5 952.3 L1345.5 952.6 L1346.5 953.0 L1347.5 953.4 L1348.5 953.8 L1349.5 954.2 L1350.5 954.7 L1351.5 955.2 L1352.5 955.8 L1353.5 956.5 L1354.5 957.2 L1355.5 957.9 L1356.5 958.6 L1357.5 959.4 L1358.5 960.3 L1359.5 961.2 L1360.5 962.1 L1361.5 963.0 L1362.5 964.0 L1363.5 964.9 L1364.5 965.9 L1365.5 966.9 L1366.5 967.9 L1367.5 968.9 L1368.5 969.9 L1369.5 970.9 L1370.5 971.8 L1371.5 972.7 L1372.5 973.6 L1373.5 974.4 L1374.5 975.1 L1375.5 975.8 L1376.5 976.4 L1377.5 976.9 L1378.5 977.3 L1379.5 977.6 L1380.5 977.9 L1381.5 978.2 L1382.5 978.4 L1383.5 978.7 L1384.5 978.9 L1385.5 979.1 L1386.5 979.3 L1387.5 979.5 L1388.5 979.7 L1389.5 979.9 L1390.5 980.0 L1391.5 980.0 L1392.5 980.1 L1393.5 980.0 L1394.5 979.8 L1395.5 979.5 L1396.5 979.1 L1397.5 978.4 L1398.5 977.3 L1399.5 976.0 L1400.5 974.5 L1401.5 972.6 L1402.5 970.2 L1403.5 967.5 L1404.5 964.3 L1405.5 960.6 L1406.5 956.5 L1407.5 952.3 L1408.5 947.9 L1409.5 943.0 L1410.5 938.0 L1411.5 933.8 L1412.5 930.2 L1413.5 926.9 L1414.5 923.7 L1415.5 920.5 L1416.5 917.4 L1417.5 914.2 L1418.5 911.1 L1419.5 908.0 L1420.5 904.8 L1421.5 901.4 L1422.5 897.8 L1423.5 894.3 L1424.5 891.0 L1425.5 887.9 L1426.5 885.0 L1427.5 882.3 L1428.5 879.7 L1429.5 877.2 L1430.5 874.7 L1431.5 872.3 L1432.5 869.9 L1433.5 867.6 L1434.5 865.3 L1435.5 862.9 L1436.5 860.6 L1437.5 858.3 L1438.5 855.9 L1439.5 853.6 L1440.5 851.3 L1441.5 848.9 L1442.5 846.6 L1443.5 844.3 L1444.5 841.9 L1445.5 839.6 L1446.5 837.3 L1447.5 834.9 L1448.5 832.6 L1449.5 830.3 L1450.5 827.9 L1451.5 825.4 L1452.5 822.6 L1453.5 819.5 L1454.5 816.2 L1455.5 812.8 L1456.5 809.5 L1457.5 806.2 L1458.5 802.8 L1459.5 799.5 L1460.5 796.2 L1461.5 792.8 L1462.5 789.5 L1463.5 786.7 L1464.5 784.3 L1465.5 782.3 L1466.5 780.4 L1467.5 778.6 L1468.5 777.1 L1469.5 776.1 L1470.5 775.5 L1471.5 775.2 L1472.5 775.1 L1473.5 775.1 L1474.5 775.3 L1475.5 775.9 L1476.5 776.9 L1477.5 778.0 L1478.5 779.2 L1479.5 780.4 L1480.5 781.7 L1481.5 783.1 L1482.5 784.4 L1483.5 785.7 L1484.5 787.1 L1485.5 788.4 L1486.5 789.8 L1487.5 791.1 L1488.5 792.4 L1489.5 793.6 L1490.5 794.8 L1491.5 795.9 L1492.5 797.0 L1493.5 798.1 L1494.5 799.2 L1495.5 800.3 L1496.5 801.5 L1497.5 802.6 L1498.5 803.7 L1499.5 804.8 L1500.5 806.0 L1501.5 807.1 L1502.5 808.3 L1503.5 809.6 L1504.5 810.9 L1505.5 812.2 L1506.5 813.5 L1507.5 814.9 L1508.5 816.3 L1509.5 817.9 L1510.5 819.6 L1511.5 821.5 L1512.5 823.4 L1513.5 825.5 L1514.5 827.6 L1515.5 829.7 L1516.5 831.9 L1517.5 834.1 L1518.5 836.3 L1519.5 838.6 L1520.5 840.8 L1521.5 843.1 L1522.5 845.3 L1523.5 847.6 L1524.5 849.8 L1525.5 852.1 L1526.5 854.3 L1527.5 856.6 L1528.5 858.8 L1529.5 861.1 L1530.5 863.3 L1531.5 865.4 L1532.5 867.6 L1533.5 869.7 L1534.5 871.7 L1535.5 873.8 L1536.5 875.8 L1537.5 877.8 L1538.5 879.7 L1539.5 881.5 L1540.5 883.3 L1541.5 885.0 L1542.5 886.6 L1543.5 888.0 L1544.5 889.4 L1545.5 890.7 L1546.5 891.9 L1547.5 893.0 L1548.5 894.0 L1549.5 895.0 L1550.5 895.8 L1551.5 896.6 L1552.5 897.3 L1553.5 898.0 L1554.5 898.5 L1555.5 899.0 L1556.5 899.3 L1557.5 899.6 L1558.5 899.7 L1559.5 899.7 L1560.5 899.6 L1561.5 899.4 L1562.5 899.1 L1563.5 898.7 L1564.5 898.2 L1565.5 897.7 L1566.5 897.1 L1567.5 896.4 L1568.5 895.6 L1569.5 894.7 L1570.5 893.6 L1571.5 892.5 L1572.5 891.3 L1573.5 890.1 L1574.5 888.8 L1575.5 887.4 L1576.5 886.0 L1577.5 884.5 L1578.5 883.0 L1579.5 881.5 L1580.5 880.0 L1581.5 878.5 L1582.5 877.0 L1583.5 875.6 L1584.5 874.2 L1585.5 872.8 L1586.5 871.5 L1587.5 870.2 L1588.5 868.9 L1589.5 867.9 L1590.5 866.9 L1591.5 866.1 L1592.5 865.4 L1593.5 864.8 L1594.5 864.4 L1595.5 864.0 L1596.5 863.8 L1597.5 863.7 L1598.5 863.7 L1599.5 863.7 L1600.5 863.8 L1601.5 863.9 L1602.5 864.1 L1603.5 864.3 L1604.5 864.6 L1605.5 865.0 L1606.5 865.5 L1607.5 865.9 L1608.5 866.4 L1609.5 866.9 L1610.5 867.3 L1611.5 867.8 L1612.5 868.3 L1613.5 868.8 L1614.5 869.3 L1615.5 869.8 L1616.5 870.3 L1617.5 870.8 L1618.5 871.3 L1619.5 871.8 L1620.5 872.3 L1621.5 872.8 L1622.5 873.3 L1623.5 873.8 L1624.5 874.3 L1625.5 874.8 L1626.5 875.3 L1627.5 875.9 L1628.5 876.5 L1629.5 877.2 L1630.5 877.8 L1631.5 878.5 L1632.5 879.3 L1633.5 880.2 L1634.5 881.2 L1635.5 882.2 L1636.5 883.2 L1637.5 884.4 L1638.5 885.6 L1639.5 886.9 L1640.5 888.3 L1641.5 889.8 L1642.5 891.5 L1643.5 893.3 L1644.5 895.1 L1644.6 895.4"/></g>
<path class="fr" d="M94.5 1006.5v5.1M404.5 1006.5v5.1M714.5 1006.5v5.1M1024.5 1006.5v5.1M1334.5 1006.5v5.1M1644.5 1006.5v5.1M94.5 657.5h-5.1M94.5 702.5h-5.1M94.5 747.5h-5.1M94.5 792.5h-5.1M94.5 837.5h-5.1M94.5 883.5h-5.1M94.5 928.5h-5.1M94.5 973.5h-5.1"/>
<rect class="fr" x="94.5" y="621.5" width="1550.0" height="385.0"/>
<text class="tk" text-anchor="end" x="83.8" y="663.6">0.05</text>
<text class="tk" text-anchor="end" x="83.8" y="708.6">0.00</text>
<text class="tk" text-anchor="end" x="83.8" y="753.6"><tspan class="mn" dy="0.5">−</tspan><tspan dy="-0.5">0.05</tspan></text>
<text class="tk" text-anchor="end" x="83.8" y="798.6"><tspan class="mn" dy="0.5">−</tspan><tspan dy="-0.5">0.10</tspan></text>
<text class="tk" text-anchor="end" x="83.8" y="843.6"><tspan class="mn" dy="0.5">−</tspan><tspan dy="-0.5">0.15</tspan></text>
<text class="tk" text-anchor="end" x="83.8" y="889.6"><tspan class="mn" dy="0.5">−</tspan><tspan dy="-0.5">0.20</tspan></text>
<text class="tk" text-anchor="end" x="83.8" y="934.6"><tspan class="mn" dy="0.5">−</tspan><tspan dy="-0.5">0.25</tspan></text>
<text class="tk" text-anchor="end" x="83.8" y="979.6"><tspan class="mn" dy="0.5">−</tspan><tspan dy="-0.5">0.30</tspan></text>
<text class="tk" text-anchor="middle" x="94.5" y="1027.1">0</text>
<text class="tk" text-anchor="middle" x="404.5" y="1027.1">1</text>
<text class="tk" text-anchor="middle" x="714.5" y="1027.1">2</text>
<text class="tk" text-anchor="middle" x="1024.5" y="1027.1">3</text>
<text class="tk" text-anchor="middle" x="1334.5" y="1027.1">4</text>
<text class="tk" text-anchor="middle" x="1644.5" y="1027.1">5</text>
<text class="lb ti" text-anchor="middle" x="868.5" y="613.8">速度</text>
<text class="lb xl" x="827.0" y="1058.1">時間<tspan class="lx">[s]</tspan></text>
<text class="lb xl" transform="translate(34.2 892.9) rotate(-90)" x="0" y="0">速度<tspan class="la">[m/s^2]</tspan></text>
<defs><clipPath id="c2"><rect x="94.5" y="1199.5" width="1550.0" height="385.0"/></clipPath></defs>
<path class="gr" d="M94.5 1584.5V1199.5M404.5 1584.5V1199.5M714.5 1584.5V1199.5M1024.5 1584.5V1199.5M1334.5 1584.5V1199.5M1644.5 1584.5V1199.5M94.5 1216.5H1644.5M94.5 1273.5H1644.5M94.5 1330.5H1644.5M94.5 1387.5H1644.5M94.5 1444.5H1644.5M94.5 1501.5H1644.5M94.5 1558.5H1644.5"/>
<g clip-path="url(#c2)"><path class="cv" stroke="#1f77b4" d="M94.5 1217.0 L95.5 1217.0 L96.5 1217.0 L97.5 1217.1 L98.5 1217.1 L99.5 1217.1 L100.5 1217.1 L101.5 1217.1 L102.5 1217.2 L103.5 1217.2 L104.5 1217.2 L105.5 1217.2 L106.5 1217.3 L107.5 1217.3 L108.5 1217.3 L109.5 1217.3 L110.5 1217.3 L111.5 1217.4 L112.5 1217.4 L113.5 1217.4 L114.5 1217.4 L115.5 1217.5 L116.5 1217.5 L117.5 1217.5 L118.5 1217.5 L119.5 1217.5 L120.5 1217.6 L121.5 1217.6 L122.5 1217.6 L123.5 1217.6 L124.5 1217.7 L125.5 1217.7 L126.5 1217.7 L127.5 1217.7 L128.5 1217.8 L129.5 1217.8 L130.5 1217.8 L131.5 1217.9 L132.5 1217.9 L133.5 1217.9 L134.5 1218.0 L135.5 1218.0 L136.5 1218.0 L137.5 1218.0 L138.5 1218.1 L139.5 1218.1 L140.5 1218.1 L141.5 1218.2 L142.5 1218.2 L143.5 1218.2 L144.5 1218.3 L145.5 1218.3 L146.5 1218.3 L147.5 1218.4 L148.5 1218.4 L149.5 1218.4 L150.5 1218.5 L151.5 1218.5 L152.5 1218.5 L153.5 1218.6 L154.5 1218.6 L155.5 1218.6 L156.5 1218.6 L157.5 1218.7 L158.5 1218.7 L159.5 1218.7 L160.5 1218.8 L161.5 1218.8 L162.5 1218.8 L163.5 1218.9 L164.5 1218.9 L165.5 1218.9 L166.5 1219.0 L167.5 1219.0 L168.5 1219.0 L169.5 1219.1 L170.5 1219.1 L171.5 1219.2 L172.5 1219.2 L173.5 1219.2 L174.5 1219.3 L175.5 1219.3 L176.5 1219.3 L177.5 1219.4 L178.5 1219.4 L179.5 1219.5 L180.5 1219.5 L181.5 1219.5 L182.5 1219.6 L183.5 1219.6 L184.5 1219.7 L185.5 1219.7 L186.5 1219.8 L187.5 1219.8 L188.5 1219.8 L189.5 1219.9 L190.5 1219.9 L191.5 1220.0 L192.5 1220.0 L193.5 1220.1 L194.5 1220.1 L195.5 1220.2 L196.5 1220.2 L197.5 1220.3 L198.5 1220.3 L199.5 1220.4 L200.5 1220.4 L201.5 1220.5 L202.5 1220.5 L203.5 1220.6 L204.5 1220.6 L205.5 1220.7 L206.5 1220.7 L207.5 1220.8 L208.5 1220.9 L209.5 1220.9 L210.5 1221.0 L211.5 1221.0 L212.5 1221.1 L213.5 1221.1 L214.5 1221.2 L215.5 1221.3 L216.5 1221.3 L217.5 1221.4 L218.5 1221.4 L219.5 1221.5 L220.5 1221.5 L221.5 1221.6 L222.5 1221.7 L223.5 1221.7 L224.5 1221.8 L225.5 1221.8 L226.5 1221.9 L227.5 1221.9 L228.5 1222.0 L229.5 1222.1 L230.5 1222.1 L231.5 1222.2 L232.5 1222.2 L233.5 1222.3 L234.5 1222.4 L235.5 1222.4 L236.5 1222.5 L237.5 1222.5 L238.5 1222.6 L239.5 1222.7 L240.5 1222.7 L241.5 1222.8 L242.5 1222.8 L243.5 1222.9 L244.5 1223.0 L245.5 1223.0 L246.5 1223.1 L247.5 1223.2 L248.5 1223.2 L249.5 1223.3 L250.5 1223.3 L251.5 1223.4 L252.5 1223.5 L253.5 1223.5 L254.5 1223.6 L255.5 1223.7 L256.5 1223.8 L257.5 1223.8 L258.5 1223.9 L259.5 1224.0 L260.5 1224.0 L261.5 1224.1 L262.5 1224.2 L263.5 1224.3 L264.5 1224.3 L265.5 1224.4 L266.5 1224.5 L267.5 1224.6 L268.5 1224.6 L269.5 1224.7 L270.5 1224.8 L271.5 1224.9 L272.5 1225.0 L273.5 1225.1 L274.5 1225.2 L275.5 1225.2 L276.5 1225.3 L277.5 1225.4 L278.5 1225.5 L279.5 1225.6 L280.5 1225.7 L281.5 1225.8 L282.5 1225.9 L283.5 1226.0 L284.5 1226.1 L285.5 1226.2 L286.5 1226.3 L287.5 1226.4 L288.5 1226.5 L289.5 1226.6 L290.5 1226.7 L291.5 1226.8 L292.5 1226.9 L293.5 1227.0 L294.5 1227.0 L295.5 1227.1 L296.5 1227.2 L297.5 1227.3 L298.5 1227.4 L299.5 1227.5 L300.5 1227.6 L301.5 1227.7 L302.5 1227.8 L303.5 1227.8 L304.5 1227.9 L305.5 1228.0 L306.5 1228.1 L307.5 1228.2 L308.5 1228.3 L309.5 1228.3 L310.5 1228.4 L311.5 1228.5 L312.5 1228.6 L313.5 1228.7 L314.5 1228.7 L315.5 1228.8 L316.5 1228.9 L317.5 1229.0 L318.5 1229.1 L319.5 1229.2 L320.5 1229.3 L321.5 1229.4 L322.5 1229.4 L323.5 1229.5 L324.5 1229.6 L325.5 1229.7 L326.5 1229.8 L327.5 1229.9 L328.5 1230.0 L329.5 1230.1 L330.5 1230.2 L331.5 1230.3 L332.5 1230.4 L333.5 1230.5 L334.5 1230.5 L335.5 1230.6 L336.5 1230.7 L337.5 1230.8 L338.5 1230.9 L339.5 1231.0 L340.5 1231.1 L341.5 1231.2 L342.5 1231.2 L343.5 1231.3 L344.5 1231.4 L345.5 1231.5 L346.5 1231.6 L347.5 1231.7 L348.5 1231.8 L349.5 1231.9 L350.5 1232.0 L351.5 1232.0 L352.5 1232.1 L353.5 1232.2 L354.5 1232.3 L355.5 1232.4 L356.5 1232.5 L357.5 1232.6 L358.5 1232.7 L359.5 1232.8 L360.5 1232.9 L361.5 1233.0 L362.5 1233.1 L363.5 1233.2 L364.5 1233.4 L365.5 1233.5 L366.5 1233.6 L367.5 1233.7 L368.5 1233.8 L369.5 1233.9 L370.5 1234.0 L371.5 1234.1 L372.5 1234.3 L373.5 1234.4 L374.5 1234.5 L375.5 1234.6 L376.5 1234.8 L377.5 1234.9 L378.5 1235.0 L379.5 1235.1 L380.5 1235.2 L381.5 1235.4 L382.5 1235.5 L383.5 1235.6 L384.5 1235.8 L385.5 1235.9 L386.5 1236.0 L387.5 1236.1 L388.5 1236.3 L389.5 1236.4 L390.5 1236.5 L391.5 1236.6 L392.5 1236.8 L393.5 1236.9 L394.5 1237.0 L395.5 1237.1 L396.5 1237.3 L397.5 1237.4 L398.5 1237.5 L399.5 1237.7 L400.5 1237.8 L401.5 1237.9 L402.5 1238.1 L403.5 1238.2 L404.5 1238.3 L405.5 1238.5 L406.5 1238.6 L407.5 1238.8 L408.5 1238.9 L409.5 1239.0 L410.5 1239.2 L411.5 1239.3 L412.5 1239.5 L413.5 1239.6 L414.5 1239.8 L415.5 1239.9 L416.5 1240.1 L417.5 1240.2 L418.5 1240.4 L419.5 1240.5 L420.5 1240.7 L421.5 1240.8 L422.5 1241.0 L423.5 1241.2 L424.5 1241.3 L425.5 1241.5 L426.5 1241.6 L427.5 1241.8 L428.5 1242.0 L429.5 1242.1 L430.5 1242.3 L431.5 1242.5 L432.5 1242.7 L433.5 1242.8 L434.5 1243.0 L435.5 1243.2 L436.5 1243.4 L437.5 1243.5 L438.5 1243.7 L439.5 1243.9 L440.5 1244.1 L441.5 1244.3 L442.5 1244.5 L443.5 1244.7 L444.5 1244.9 L445.5 1245.0 L446.5 1245.2 L447.5 1245.4 L448.5 1245.6 L449.5 1245.8 L450.5 1246.0 L451.5 1246.2 L452.5 1246.4 L453.5 1246.6 L454.5 1246.8 L455.5 1247.0 L456.5 1247.2 L457.5 1247.4 L458.5 1247.6 L459.5 1247.8 L460.5 1248.0 L461.5 1248.2 L462.5 1248.3 L463.5 1248.5 L464.5 1248.7 L465.5 1248.9 L466.5 1249.1 L467.5 1249.3 L468.5 1249.4 L469.5 1249.6 L470.5 1249.8 L471.5 1249.9 L472.5 1250.1 L473.5 1250.3 L474.5 1250.4 L475.5 1250.6 L476.5 1250.7 L477.5 1250.9 L478.5 1251.0 L479.5 1251.2 L480.5 1251.3 L481.5 1251.4 L482.5 1251.6 L483.5 1251.7 L484.5 1251.8 L485.5 1252.0 L486.5 1252.1 L487.5 1252.2 L488.5 1252.3 L489.5 1252.4 L490.5 1252.5 L491.5 1252.6 L492.5 1252.7 L493.5 1252.8 L494.5 1252.8 L495.5 1252.9 L496.5 1253.0 L497.5 1253.0 L498.5 1253.1 L499.5 1253.1 L500.5 1253.1 L501.5 1253.2 L502.5 1253.2 L503.5 1253.2 L504.5 1253.2 L505.5 1253.2 L506.5 1253.2 L507.5 1253.2 L508.5 1253.2 L509.5 1253.2 L510.5 1253.2 L511.5 1253.1 L512.5 1253.1 L513.5 1253.1 L514.5 1253.0 L515.5 1253.0 L516.5 1253.0 L517.5 1252.9 L518.5 1252.9 L519.5 1252.8 L520.5 1252.8 L521.5 1252.7 L522.5 1252.7 L523.5 1252.6 L524.5 1252.6 L525.5 1252.5 L526.5 1252.5 L527.5 1252.4 L528.5 1252.3 L529.5 1252.3 L530.5 1252.2 L531.5 1252.2 L532.5 1252.1 L533.5 1252.0 L534.5 1252.0 L535.5 1251.9 L536.5 1251.8 L537.5 1251.8 L538.5 1251.7 L539.5 1251.7 L540.5 1251.6 L541.5 1251.5 L542.5 1251.5 L543.5 1251.4 L544.5 1251.4 L545.5 1251.4 L546.5 1251.3 L547.5 1251.3 L548.5 1251.3 L549.5 1251.3 L550.5 1251.3 L551.5 1251.3 L552.5 1251.3 L553.5 1251.3 L554.5 1251.3 L555.5 1251.3 L556.5 1251.3 L557.5 1251.4 L558.5 1251.4 L559.5 1251.4 L560.5 1251.5 L561.5 1251.5 L562.5 1251.6 L563.5 1251.6 L564.5 1251.7 L565.5 1251.7 L566.5 1251.8 L567.5 1251.8 L568.5 1251.9 L569.5 1251.9 L570.5 1252.0 L571.5 1252.0 L572.5 1252.1 L573.5 1252.1 L574.5 1252.1 L575.5 1252.2 L576.5 1252.2 L577.5 1252.2 L578.5 1252.3 L579.5 1252.3 L580.5 1252.3 L581.5 1252.4 L582.5 1252.4 L583.5 1252.4 L584.5 1252.4 L585.5 1252.5 L586.5 1252.5 L587.5 1252.5 L588.5 1252.5 L589.5 1252.6 L590.5 1252.6 L591.5 1252.6 L592.5 1252.6 L593.5 1252.6 L594.5 1252.7 L595.5 1252.7 L596.5 1252.7 L597.5 1252.8 L598.5 1252.8 L599.5 1252.8 L600.5 1252.9 L601.5 1252.9 L602.5 1252.9 L603.5 1253.0 L604.5 1253.0 L605.5 1253.1 L606.5 1253.1 L607.5 1253.2 L608.5 1253.2 L609.5 1253.3 L610.5 1253.4 L611.5 1253.5 L612.5 1253.5 L613.5 1253.6 L614.5 1253.7 L615.5 1253.8 L616.5 1253.9 L617.5 1254.0 L618.5 1254.1 L619.5 1254.2 L620.5 1254.4 L621.5 1254.5 L622.5 1254.6 L623.5 1254.8 L624.5 1254.9 L625.5 1255.1 L626.5 1255.2 L627.5 1255.4 L628.5 1255.5 L629.5 1255.7 L630.5 1255.9 L631.5 1256.1 L632.5 1256.2 L633.5 1256.4 L634.5 1256.6 L635.5 1256.8 L636.5 1257.0 L637.5 1257.1 L638.5 1257.3 L639.5 1257.5 L640.5 1257.7 L641.5 1257.9 L642.5 1258.1 L643.5 1258.2 L644.5 1258.4 L645.5 1258.6 L646.5 1258.8 L647.5 1259.0 L648.5 1259.1 L649.5 1259.3 L650.5 1259.5 L651.5 1259.6 L652.5 1259.8 L653.5 1260.0 L654.5 1260.2 L655.5 1260.3 L656.5 1260.5 L657.5 1260.7 L658.5 1260.8 L659.5 1261.0 L660.5 1261.2 L661.5 1261.3 L662.5 1261.5 L663.5 1261.7 L664.5 1261.8 L665.5 1262.0 L666.5 1262.2 L667.5 1262.3 L668.5 1262.5 L669.5 1262.7 L670.5 1262.9 L671.5 1263.0 L672.5 1263.2 L673.5 1263.4 L674.5 1263.6 L675.5 1263.8 L676.5 1263.9 L677.5 1264.1 L678.5 1264.3 L679.5 1264.5 L680.5 1264.7 L681.5 1264.9 L682.5 1265.1 L683.5 1265.3 L684.5 1265.5 L685.5 1265.7 L686.5 1265.8 L687.5 1266.0 L688.5 1266.2 L689.5 1266.4 L690.5 1266.6 L691.5 1266.8 L692.5 1267.0 L693.5 1267.2 L694.5 1267.4 L695.5 1267.6 L696.5 1267.8 L697.5 1268.0 L698.5 1268.2 L699.5 1268.3 L700.5 1268.5 L701.5 1268.7 L702.5 1268.9 L703.5 1269.1 L704.5 1269.3 L705.5 1269.4 L706.5 1269.6 L707.5 1269.8 L708.5 1269.9 L709.5 1270.1 L710.5 1270.3 L711.5 1270.4 L712.5 1270.6 L713.5 1270.7 L714.5 1270.9 L715.5 1271.0 L716.5 1271.1 L717.5 1271.3 L718.5 1271.4 L719.5 1271.5 L720.5 1271.6 L721.5 1271.8 L722.5 1271.9 L723.5 1272.0 L724.5 1272.1 L725.5 1272.2 L726.5 1272.3 L727.5 1272.4 L728.5 1272.5 L729.5 1272.6 L730.5 1272.7 L731.5 1272.8 L732.5 1272.8 L733.5 1272.9 L734.5 1273.0 L735.5 1273.0 L736.5 1273.0 L737.5 1273.1 L738.5 1273.1 L739.5 1273.1 L740.5 1273.1 L741.5 1273.1 L742.5 1273.1 L743.5 1273.1 L744.5 1273.0 L745.5 1273.0 L746.5 1273.0 L747.5 1272.9 L748.5 1272.9 L749.5 1272.8 L750.5 1272.8 L751.5 1272.7 L752.5 1272.6 L753.5 1272.6 L754.5 1272.5 L755.5 1272.4 L756.5 1272.4 L757.5 1272.3 L758.5 1272.3 L759.5 1272.2 L760.5 1272.2 L761.5 1272.1 L762.5 1272.1 L763.5 1272.0 L764.5 1272.0 L765.5 1272.0 L766.5 1272.0 L767.5 1272.0 L768.5 1272.0 L769.5 1272.0 L770.5 1272.0 L771.5 1272.1 L772.5 1272.1 L773.5 1272.1 L774.5 1272.2 L775.5 1272.3 L776.5 1272.3 L777.5 1272.4 L778.5 1272.5 L779.5 1272.6 L780.5 1272.6 L781.5 1272.7 L782.5 1272.8 L783.5 1272.9 L784.5 1273.0 L785.5 1273.2 L786.5 1273.3 L787.5 1273.4 L788.5 1273.5 L789.5 1273.6 L790.5 1273.7 L791.5 1273.8 L792.5 1273.9 L793.5 1274.0 L794.5 1274.1 L795.5 1274.2 L796.5 1274.3 L797.5 1274.4 L798.5 1274.5 L799.5 1274.6 L800.5 1274.7 L801.5 1274.8 L802.5 1274.8 L803.5 1274.9 L804.5 1275.0 L805.5 1275.1 L806.5 1275.2 L807.5 1275.2 L808.5 1275.3 L809.5 1275.4 L810.5 1275.4 L811.5 1275.5 L812.5 1275.6 L813.5 1275.6 L814.5 1275.7 L815.5 1275.8 L816.5 1275.8 L817.5 1275.9 L818.5 1276.0 L819.5 1276.1 L820.5 1276.1 L821.5 1276.2 L822.5 1276.3 L823.5 1276.4 L824.5 1276.5 L825.5 1276.5 L826.5 1276.6 L827.5 1276.7 L828.5 1276.8 L829.5 1276.9 L830.5 1277.1 L831.5 1277.2 L832.5 1277.3 L833.5 1277.4 L834.5 1277.6 L835.5 1277.7 L836.5 1277.8 L837.5 1278.0 L838.5 1278.2 L839.5 1278.3 L840.5 1278.5 L841.5 1278.6 L842.5 1278.8 L843.5 1279.0 L844.5 1279.2 L845.5 1279.3 L846.5 1279.5 L847.5 1279.7 L848.5 1279.9 L849.5 1280.0 L850.5 1280.2 L851.5 1280.4 L852.5 1280.6 L853.5 1280.8 L854.5 1281.0 L855.5 1281.2 L856.5 1281.4 L857.5 1281.6 L858.5 1281.8 L859.5 1282.0 L860.5 1282.2 L861.5 1282.4 L862.5 1282.6 L863.5 1282.8 L864.5 1283.0 L865.5 1283.2 L866.5 1283.4 L867.5 1283.6 L868.5 1283.8 L869.5 1284.0 L870.5 1284.2 L871.5 1284.5 L872.5 1284.7 L873.5 1284.9 L874.5 1285.1 L875.5 1285.3 L876.5 1285.6 L877.5 1285.8 L878.5 1286.0 L879.5 1286.2 L880.5 1286.5 L881.5 1286.7 L882.5 1286.9 L883.5 1287.1 L884.5 1287.4 L885.5 1287.6 L886.5 1287.8 L887.5 1288.0 L888.5 1288.2 L889.5 1288.5 L890.5 1288.7 L891.5 1288.9 L892.5 1289.1 L893.5 1289.3 L894.5 1289.5 L895.5 1289.8 L896.5 1290.0 L897.5 1290.2 L898.5 1290.4 L899.5 1290.6 L900.5 1290.8 L901.5 1291.0 L902.5 1291.2 L903.5 1291.4 L904.5 1291.6 L905.5 1291.8 L906.5 1292.0 L907.5 1292.2 L908.5 1292.3 L909.5 1292.5 L910.5 1292.7 L911.5 1292.9 L912.5 1293.1 L913.5 1293.3 L914.5 1293.4 L915.5 1293.6 L916.5 1293.8 L917.5 1294.0 L918.5 1294.1 L919.5 1294.3 L920.5 1294.5 L921.5 1294.7 L922.5 1294.8 L923.5 1295.0 L924.5 1295.2 L925.5 1295.3 L926.5 1295.5 L927.5 1295.6 L928.5 1295.8 L929.5 1295.9 L930.5 1296.1 L931.5 1296.2 L932.5 1296.4 L933.5 1296.5 L934.5 1296.7 L935.5 1296.8 L936.5 1297.0 L937.5 1297.1 L938.5 1297.3 L939.5 1297.4 L940.5 1297.5 L941.5 1297.7 L942.5 1297.9 L943.5 1298.0 L944.5 1298.2 L945.5 1298.3 L946.5 1298.5 L947.5 1298.6 L948.5 1298.8 L949.5 1298.9 L950.5 1299.1 L951.5 1299.2 L952.5 1299.3 L953.5 1299.4 L954.5 1299.5 L955.5 1299.6 L956.5 1299.7 L957.5 1299.8 L958.5 1299.8 L959.5 1299.9 L960.5 1299.9 L961.5 1300.0 L962.5 1300.0 L963.5 1300.0 L964.5 1300.1 L965.5 1300.1 L966.5 1300.1 L967.5 1300.1 L968.5 1300.1 L969.5 1300.1 L970.5 1300.1 L971.5 1300.1 L972.5 1300.1 L973.5 1300.1 L974.5 1300.1 L975.5 1300.1 L976.5 1300.2 L977.5 1300.2 L978.5 1300.2 L979.5 1300.2 L980.5 1300.3 L981.5 1300.3 L982.5 1300.3 L983.5 1300.4 L984.5 1300.4 L985.5 1300.5 L986.5 1300.6 L987.5 1300.6 L988.5 1300.7 L989.5 1300.8 L990.5 1300.8 L991.5 1300.9 L992.5 1301.0 L993.5 1301.1 L994.5 1301.1 L995.5 1301.2 L996.5 1301.3 L997.5 1301.4 L998.5 1301.4 L999.5 1301.5 L1000.5 1301.6 L1001.5 1301.7 L1002.5 1301.8 L1003.5 1301.8 L1004.5 1301.9 L1005.5 1302.0 L1006.5 1302.1 L1007.5 1302.1 L1008.5 1302.2 L1009.5 1302.3 L1010.5 1302.4 L1011.5 1302.4 L1012.5 1302.5 L1013.5 1302.6 L1014.5 1302.6 L1015.5 1302.7 L1016.5 1302.8 L1017.5 1302.8 L1018.5 1302.9 L1019.5 1302.9 L1020.5 1303.0 L1021.5 1303.0 L1022.5 1303.1 L1023.5 1303.1 L1024.5 1303.2 L1025.5 1303.2 L1026.5 1303.3 L1027.5 1303.3 L1028.5 1303.3 L1029.5 1303.4 L1030.5 1303.4 L1031.5 1303.5 L1032.5 1303.5 L1033.5 1303.6 L1034.5 1303.7 L1035.5 1303.7 L1036.5 1303.8 L1037.5 1303.9 L1038.5 1304.0 L1039.5 1304.1 L1040.5 1304.2 L1041.5 1304.3 L1042.5 1304.4 L1043.5 1304.6 L1044.5 1304.7 L1045.5 1304.9 L1046.5 1305.0 L1047.5 1305.2 L1048.5 1305.3 L1049.5 1305.5 L1050.5 1305.7 L1051.5 1305.9 L1052.5 1306.1 L1053.5 1306.3 L1054.5 1306.5 L1055.5 1306.8 L1056.5 1307.0 L1057.5 1307.2 L1058.5 1307.5 L1059.5 1307.7 L1060.5 1308.0 L1061.5 1308.2 L1062.5 1308.5 L1063.5 1308.7 L1064.5 1309.0 L1065.5 1309.3 L1066.5 1309.5 L1067.5 1309.8 L1068.5 1310.0 L1069.5 1310.3 L1070.5 1310.6 L1071.5 1310.8 L1072.5 1311.1 L1073.5 1311.4 L1074.5 1311.6 L1075.5 1311.9 L1076.5 1312.1 L1077.5 1312.4 L1078.5 1312.7 L1079.5 1312.9 L1080.5 1313.2 L1081.5 1313.4 L1082.5 1313.6 L1083.5 1313.9 L1084.5 1314.1 L1085.5 1314.4 L1086.5 1314.6 L1087.5 1314.8 L1088.5 1315.1 L1089.5 1315.3 L1090.5 1315.5 L1091.5 1315.7 L1092.5 1316.0 L1093.5 1316.2 L1094.5 1316.4 L1095.5 1316.6 L1096.5 1316.9 L1097.5 1317.1 L1098.5 1317.3 L1099.5 1317.5 L1100.5 1317.8 L1101.5 1318.0 L1102.5 1318.2 L1103.5 1318.5 L1104.5 1318.7 L1105.5 1318.9 L1106.5 1319.2 L1107.5 1319.4 L1108.5 1319.7 L1109.5 1319.9 L1110.5 1320.2 L1111.5 1320.4 L1112.5 1320.7 L1113.5 1321.0 L1114.5 1321.2 L1115.5 1321.5 L1116.5 1321.8 L1117.5 1322.0 L1118.5 1322.3 L1119.5 1322.6 L1120.5 1322.9 L1121.5 1323.1 L1122.5 1323.4 L1123.5 1323.7 L1124.5 1324.0 L1125.5 1324.3 L1126.5 1324.6 L1127.5 1324.8 L1128.5 1325.1 L1129.5 1325.4 L1130.5 1325.7 L1131.5 1326.0 L1132.5 1326.3 L1133.5 1326.6 L1134.5 1326.9 L1135.5 1327.2 L1136.5 1327.5 L1137.5 1327.8 L1138.5 1328.1 L1139.5 1328.3 L1140.5 1328.6 L1141.5 1328.9 L1142.5 1329.2 L1143.5 1329.5 L1144.5 1329.8 L1145.5 1330.1 L1146.5 1330.4 L1147.5 1330.7 L1148.5 1330.9 L1149.5 1331.2 L1150.5 1331.5 L1151.5 1331.8 L1152.5 1332.1 L1153.5 1332.3 L1154.5 1332.6 L1155.5 1332.8 L1156.5 1333.1 L1157.5 1333.4 L1158.5 1333.6 L1159.5 1333.8 L1160.5 1334.1 L1161.5 1334.3 L1162.5 1334.6 L1163.5 1334.8 L1164.5 1335.0 L1165.5 1335.2 L1166.5 1335.5 L1167.5 1335.7 L1168.5 1335.9 L1169.5 1336.1 L1170.5 1336.3 L1171.5 1336.6 L1172.5 1336.8 L1173.5 1337.0 L1174.5 1337.2 L1175.5 1337.4 L1176.5 1337.7 L1177.5 1337.9 L1178.5 1338.1 L1179.5 1338.3 L1180.5 1338.5 L1181.5 1338.7 L1182.5 1338.8 L1183.5 1339.0 L1184.5 1339.1 L1185.5 1339.2 L1186.5 1339.4 L1187.5 1339.5 L1188.5 1339.5 L1189.5 1339.6 L1190.5 1339.7 L1191.5 1339.7 L1192.5 1339.8 L1193.5 1339.8 L1194.5 1339.8 L1195.5 1339.9 L1196.5 1339.9 L1197.5 1339.9 L1198.5 1339.9 L1199.5 1340.0 L1200.5 1340.0 L1201.5 1340.0 L1202.5 1340.0 L1203.5 1340.1 L1204.5 1340.1 L1205.5 1340.1 L1206.5 1340.2 L1207.5 1340.3 L1208.5 1340.3 L1209.5 1340.4 L1210.5 1340.5 L1211.5 1340.6 L1212.5 1340.6 L1213.5 1340.7 L1214.5 1340.8 L1215.5 1340.9 L1216.5 1341.1 L1217.5 1341.2 L1218.5 1341.3 L1219.5 1341.4 L1220.5 1341.5 L1221.5 1341.6 L1222.5 1341.7 L1223.5 1341.8 L1224.5 1342.0 L1225.5 1342.1 L1226.5 1342.2 L1227.5 1342.3 L1228.5 1342.4 L1229.5 1342.5 L1230.5 1342.6 L1231.5 1342.7 L1232.5 1342.8 L1233.5 1342.8 L1234.5 1342.9 L1235.5 1343.0 L1236.5 1343.1 L1237.5 1343.2 L1238.5 1343.3 L1239.5 1343.4 L1240.5 1343.5 L1241.5 1343.6 L1242.5 1343.7 L1243.5 1343.8 L1244.5 1343.9 L1245.5 1344.0 L1246.5 1344.1 L1247.5 1344.2 L1248.5 1344.4 L1249.5 1344.5 L1250.5 1344.6 L1251.5 1344.8 L1252.5 1344.9 L1253.5 1345.0 L1254.5 1345.2 L1255.5 1345.3 L1256.5 1345.5 L1257.5 1345.6 L1258.5 1345.8 L1259.5 1346.0 L1260.5 1346.1 L1261.5 1346.3 L1262.5 1346.5 L1263.5 1346.7 L1264.5 1346.9 L1265.5 1347.1 L1266.5 1347.3 L1267.5 1347.5 L1268.5 1347.7 L1269.5 1347.9 L1270.5 1348.1 L1271.5 1348.3 L1272.5 1348.6 L1273.5 1348.8 L1274.5 1349.0 L1275.5 1349.3 L1276.5 1349.5 L1277.5 1349.7 L1278.5 1350.0 L1279.5 1350.2 L1280.5 1350.5 L1281.5 1350.7 L1282.5 1351.0 L1283.5 1351.2 L1284.5 1351.5 L1285.5 1351.7 L1286.5 1352.0 L1287.5 1352.2 L1288.5 1352.5 L1289.5 1352.7 L1290.5 1353.0 L1291.5 1353.2 L1292.5 1353.5 L1293.5 1353.7 L1294.5 1354.0 L1295.5 1354.2 L1296.5 1354.4 L1297.5 1354.7 L1298.5 1354.9 L1299.5 1355.1 L1300.5 1355.4 L1301.5 1355.6 L1302.5 1355.8 L1303.5 1356.0 L1304.5 1356.3 L1305.5 1356.5 L1306.5 1356.7 L1307.5 1356.9 L1308.5 1357.2 L1309.5 1357.4 L1310.5 1357.6 L1311.5 1357.8 L1312.5 1358.1 L1313.5 1358.3 L1314.5 1358.6 L1315.5 1358.8 L1316.5 1359.0 L1317.5 1359.3 L1318.5 1359.5 L1319.5 1359.8 L1320.5 1360.0 L1321.5 1360.3 L1322.5 1360.5 L1323.5 1360.8 L1324.5 1361.0 L1325.5 1361.3 L1326.5 1361.5 L1327.5 1361.8 L1328.5 1362.0 L1329.5 1362.3 L1330.5 1362.5 L1331.5 1362.8 L1332.5 1363.0 L1333.5 1363.3 L1334.5 1363.5 L1335.5 1363.8 L1336.5 1364.0 L1337.5 1364.3 L1338.5 1364.5 L1339.5 1364.8 L1340.5 1365.1 L1341.5 1365.3 L1342.5 1365.6 L1343.5 1365.8 L1344.5 1366.1 L1345.5 1366.4 L1346.5 1366.7 L1347.5 1366.9 L1348.5 1367.2 L1349.5 1367.5 L1350.5 1367.8 L1351.5 1368.0 L1352.5 1368.3 L1353.5 1368.6 L1354.5 1368.9 L1355.5 1369.2 L1356.5 1369.5 L1357.5 1369.8 L1358.5 1370.0 L1359.5 1370.3 L1360.5 1370.6 L1361.5 1370.9 L1362.5 1371.2 L1363.5 1371.5 L1364.5 1371.8 L1365.5 1372.1 L1366.5 1372.4 L1367.5 1372.6 L1368.5 1372.9 L1369.5 1373.2 L1370.5 1373.5 L1371.5 1373.8 L1372.5 1374.1 L1373.5 1374.4 L1374.5 1374.6 L1375.5 1374.9 L1376.5 1375.2 L1377.5 1375.5 L1378.5 1375.7 L1379.5 1376.0 L1380.5 1376.2 L1381.5 1376.5 L1382.5 1376.8 L1383.5 1377.0 L1384.5 1377.3 L1385.5 1377.6 L1386.5 1377.8 L1387.5 1378.1 L1388.5 1378.3 L1389.5 1378.6 L1390.5 1378.9 L1391.5 1379.1 L1392.5 1379.4 L1393.5 1379.6 L1394.5 1379.9 L1395.5 1380.1 L1396.5 1380.4 L1397.5 1380.6 L1398.5 1380.8 L1399.5 1381.0 L1400.5 1381.1 L1401.5 1381.3 L1402.5 1381.4 L1403.5 1381.6 L1404.5 1381.7 L1405.5 1381.8 L1406.5 1381.9 L1407.5 1382.0 L1408.5 1382.0 L1409.5 1382.1 L1410.5 1382.2 L1411.5 1382.2 L1412.5 1382.3 L1413.5 1382.3 L1414.5 1382.3 L1415.5 1382.4 L1416.5 1382.4 L1417.5 1382.5 L1418.5 1382.5 L1419.5 1382.6 L1420.5 1382.6 L1421.5 1382.7 L1422.5 1382.8 L1423.5 1382.9 L1424.5 1382.9 L1425.5 1383.0 L1426.5 1383.1 L1427.5 1383.2 L1428.5 1383.3 L1429.5 1383.4 L1430.5 1383.6 L1431.5 1383.7 L1432.5 1383.8 L1433.5 1383.9 L1434.5 1384.0 L1435.5 1384.1 L1436.5 1384.3 L1437.5 1384.4 L1438.5 1384.5 L1439.5 1384.6 L1440.5 1384.7 L1441.5 1384.8 L1442.5 1384.9 L1443.5 1385.0 L1444.5 1385.1 L1445.5 1385.2 L1446.5 1385.3 L1447.5 1385.4 L1448.5 1385.4 L1449.5 1385.5 L1450.5 1385.6 L1451.5 1385.6 L1452.5 1385.7 L1453.5 1385.8 L1454.5 1385.8 L1455.5 1385.9 L1456.5 1385.9 L1457.5 1386.0 L1458.5 1386.0 L1459.5 1386.0 L1460.5 1386.1 L1461.5 1386.1 L1462.5 1386.2 L1463.5 1386.2 L1464.5 1386.2 L1465.5 1386.3 L1466.5 1386.3 L1467.5 1386.4 L1468.5 1386.4 L1469.5 1386.5 L1470.5 1386.5 L1471.5 1386.6 L1472.5 1386.7 L1473.5 1386.7 L1474.5 1386.8 L1475.5 1386.9 L1476.5 1387.0 L1477.5 1387.0 L1478.5 1387.1 L1479.5 1387.2 L1480.5 1387.3 L1481.5 1387.5 L1482.5 1387.6 L1483.5 1387.7 L1484.5 1387.8 L1485.5 1388.0 L1486.5 1388.1 L1487.5 1388.3 L1488.5 1388.4 L1489.5 1388.6 L1490.5 1388.8 L1491.5 1388.9 L1492.5 1389.1 L1493.5 1389.3 L1494.5 1389.5 L1495.5 1389.7 L1496.5 1389.9 L1497.5 1390.1 L1498.5 1390.2 L1499.5 1390.4 L1500.5 1390.6 L1501.5 1390.8 L1502.5 1391.0 L1503.5 1391.2 L1504.5 1391.4 L1505.5 1391.6 L1506.5 1391.8 L1507.5 1392.0 L1508.5 1392.2 L1509.5 1392.3 L1510.5 1392.5 L1511.5 1392.7 L1512.5 1392.9 L1513.5 1393.1 L1514.5 1393.3 L1515.5 1393.5 L1516.5 1393.7 L1517.5 1393.8 L1518.5 1394.0 L1519.5 1394.2 L1520.5 1394.4 L1521.5 1394.6 L1522.5 1394.8 L1523.5 1395.0 L1524.5 1395.2 L1525.5 1395.4 L1526.5 1395.6 L1527.5 1395.8 L1528.5 1395.9 L1529.5 1396.1 L1530.5 1396.3 L1531.5 1396.5 L1532.5 1396.7 L1533.5 1396.9 L1534.5 1397.1 L1535.5 1397.3 L1536.5 1397.5 L1537.5 1397.7 L1538.5 1397.9 L1539.5 1398.1 L1540.5 1398.3 L1541.5 1398.5 L1542.5 1398.7 L1543.5 1398.9 L1544.5 1399.1 L1545.5 1399.3 L1546.5 1399.5 L1547.5 1399.7 L1548.5 1399.9 L1549.5 1400.1 L1550.5 1400.3 L1551.5 1400.5 L1552.5 1400.7 L1553.5 1400.9 L1554.5 1401.1 L1555.5 1401.3 L1556.5 1401.5 L1557.5 1401.7 L1558.5 1401.9 L1559.5 1402.1 L1560.5 1402.3 L1561.5 1402.5 L1562.5 1402.6 L1563.5 1402.8 L1564.5 1403.0 L1565.5 1403.1 L1566.5 1403.3 L1567.5 1403.5 L1568.5 1403.6 L1569.5 1403.7 L1570.5 1403.9 L1571.5 1404.0 L1572.5 1404.1 L1573.5 1404.2 L1574.5 1404.3 L1575.5 1404.4 L1576.5 1404.5 L1577.5 1404.6 L1578.5 1404.7 L1579.5 1404.8 L1580.5 1404.9 L1581.5 1405.0 L1582.5 1405.1 L1583.5 1405.2 L1584.5 1405.3 L1585.5 1405.3 L1586.5 1405.4 L1587.5 1405.5 L1588.5 1405.7 L1589.5 1405.8 L1590.5 1405.9 L1591.5 1406.0 L1592.5 1406.1 L1593.5 1406.3 L1594.5 1406.4 L1595.5 1406.6 L1596.5 1406.8 L1597.5 1406.9 L1598.5 1407.1 L1599.5 1407.3 L1600.5 1407.5 L1601.5 1407.7 L1602.5 1407.9 L1603.5 1408.1 L1604.5 1408.3 L1605.5 1408.5 L1606.5 1408.7 L1607.5 1409.0 L1608.5 1409.2 L1609.5 1409.4 L1610.5 1409.6 L1611.5 1409.9 L1612.5 1410.1 L1613.5 1410.3 L1614.5 1410.6 L1615.5 1410.8 L1616.5 1411.0 L1617.5 1411.3 L1618.5 1411.5 L1619.5 1411.8 L1620.5 1412.0 L1621.5 1412.2 L1622.5 1412.4 L1623.5 1412.7 L1624.5 1412.9 L1625.5 1413.1 L1626.5 1413.3 L1627.5 1413.6 L1628.5 1413.8 L1629.5 1414.0 L1630.5 1414.2 L1631.5 1414.4 L1632.5 1414.6 L1633.5 1414.8 L1634.5 1415.0 L1635.5 1415.2 L1636.5 1415.4 L1637.5 1415.6 L1638.5 1415.8 L1639.5 1415.9 L1640.5 1416.1 L1641.5 1416.3 L1642.5 1416.5 L1643.5 1416.7 L1644.5 1416.9"/><path class="cv" stroke="#ff7f0e" d="M94.5 1217.0 L95.5 1217.0 L96.5 1217.0 L97.5 1217.0 L98.5 1217.1 L99.5 1217.1 L100.5 1217.1 L101.5 1217.1 L102.5 1217.1 L103.5 1217.1 L104.5 1217.2 L105.5 1217.2 L106.5 1217.2 L107.5 1217.2 L108.5 1217.2 L109.5 1217.2 L110.5 1217.3 L111.5 1217.3 L112.5 1217.3 L113.5 1217.3 L114.5 1217.3 L115.5 1217.4 L116.5 1217.4 L117.5 1217.4 L118.5 1217.4 L119.5 1217.4 L120.5 1217.5 L121.5 1217.5 L122.5 1217.5 L123.5 1217.5 L124.5 1217.5 L125.5 1217.6 L126.5 1217.6 L127.5 1217.6 L128.5 1217.6 L129.5 1217.7 L130.5 1217.7 L131.5 1217.7 L132.5 1217.7 L133.5 1217.7 L134.5 1217.8 L135.5 1217.8 L136.5 1217.8 L137.5 1217.8 L138.5 1217.9 L139.5 1217.9 L140.5 1217.9 L141.5 1217.9 L142.5 1218.0 L143.5 1218.0 L144.5 1218.0 L145.5 1218.0 L146.5 1218.1 L147.5 1218.1 L148.5 1218.1 L149.5 1218.1 L150.5 1218.2 L151.5 1218.2 L152.5 1218.2 L153.5 1218.2 L154.5 1218.3 L155.5 1218.3 L156.5 1218.3 L157.5 1218.4 L158.5 1218.4 L159.5 1218.4 L160.5 1218.4 L161.5 1218.5 L162.5 1218.5 L163.5 1218.5 L164.5 1218.6 L165.5 1218.6 L166.5 1218.6 L167.5 1218.6 L168.5 1218.7 L169.5 1218.7 L170.5 1218.7 L171.5 1218.8 L172.5 1218.8 L173.5 1218.8 L174.5 1218.9 L175.5 1218.9 L176.5 1218.9 L177.5 1219.0 L178.5 1219.0 L179.5 1219.0 L180.5 1219.1 L181.5 1219.1 L182.5 1219.1 L183.5 1219.2 L184.5 1219.2 L185.5 1219.2 L186.5 1219.3 L187.5 1219.3 L188.5 1219.3 L189.5 1219.4 L190.5 1219.4 L191.5 1219.4 L192.5 1219.5 L193.5 1219.5 L194.5 1219.5 L195.5 1219.6 L196.5 1219.6 L197.5 1219.7 L198.5 1219.7 L199.5 1219.7 L200.5 1219.8 L201.5 1219.8 L202.5 1219.8 L203.5 1219.9 L204.5 1219.9 L205.5 1220.0 L206.5 1220.0 L207.5 1220.1 L208.5 1220.1 L209.5 1220.1 L210.5 1220.2 L211.5 1220.2 L212.5 1220.3 L213.5 1220.3 L214.5 1220.3 L215.5 1220.4 L216.5 1220.4 L217.5 1220.5 L218.5 1220.5 L219.5 1220.6 L220.5 1220.6 L221.5 1220.7 L222.5 1220.7 L223.5 1220.8 L224.5 1220.8 L225.5 1220.9 L226.5 1220.9 L227.5 1221.0 L228.5 1221.0 L229.5 1221.1 L230.5 1221.1 L231.5 1221.2 L232.5 1221.2 L233.5 1221.3 L234.5 1221.3 L235.5 1221.4 L236.5 1221.4 L237.5 1221.5 L238.5 1221.5 L239.5 1221.6 L240.5 1221.6 L241.5 1221.7 L242.5 1221.8 L243.5 1221.8 L244.5 1221.9 L245.5 1221.9 L246.5 1222.0 L247.5 1222.0 L248.5 1222.1 L249.5 1222.2 L250.5 1222.2 L251.5 1222.3 L252.5 1222.3 L253.5 1222.4 L254.5 1222.4 L255.5 1222.5 L256.5 1222.6 L257.5 1222.6 L258.5 1222.7 L259.5 1222.8 L260.5 1222.8 L261.5 1222.9 L262.5 1222.9 L263.5 1223.0 L264.5 1223.1 L265.5 1223.1 L266.5 1223.2 L267.5 1223.3 L268.5 1223.3 L269.5 1223.4 L270.5 1223.5 L271.5 1223.5 L272.5 1223.6 L273.5 1223.7 L274.5 1223.7 L275.5 1223.8 L276.5 1223.9 L277.5 1223.9 L278.5 1224.0 L279.5 1224.1 L280.5 1224.1 L281.5 1224.2 L282.5 1224.3 L283.5 1224.4 L284.5 1224.4 L285.5 1224.5 L286.5 1224.6 L287.5 1224.7 L288.5 1224.7 L289.5 1224.8 L290.5 1224.9 L291.5 1225.0 L292.5 1225.1 L293.5 1225.1 L294.5 1225.2 L295.5 1225.3 L296.5 1225.4 L297.5 1225.5 L298.5 1225.6 L299.5 1225.6 L300.5 1225.7 L301.5 1225.8 L302.5 1225.9 L303.5 1226.0 L304.5 1226.1 L305.5 1226.1 L306.5 1226.2 L307.5 1226.3 L308.5 1226.4 L309.5 1226.5 L310.5 1226.6 L311.5 1226.7 L312.5 1226.8 L313.5 1226.8 L314.5 1226.9 L315.5 1227.0 L316.5 1227.1 L317.5 1227.2 L318.5 1227.3 L319.5 1227.4 L320.5 1227.5 L321.5 1227.6 L322.5 1227.6 L323.5 1227.7 L324.5 1227.8 L325.5 1227.9 L326.5 1228.0 L327.5 1228.1 L328.5 1228.2 L329.5 1228.3 L330.5 1228.4 L331.5 1228.5 L332.5 1228.6 L333.5 1228.7 L334.5 1228.8 L335.5 1228.9 L336.5 1229.0 L337.5 1229.1 L338.5 1229.1 L339.5 1229.2 L340.5 1229.3 L341.5 1229.4 L342.5 1229.5 L343.5 1229.6 L344.5 1229.7 L345.5 1229.8 L346.5 1229.9 L347.5 1230.0 L348.5 1230.1 L349.5 1230.2 L350.5 1230.3 L351.5 1230.4 L352.5 1230.5 L353.5 1230.5 L354.5 1230.6 L355.5 1230.7 L356.5 1230.8 L357.5 1230.9 L358.5 1231.0 L359.5 1231.1 L360.5 1231.2 L361.5 1231.3 L362.5 1231.4 L363.5 1231.5 L364.5 1231.6 L365.5 1231.7 L366.5 1231.8 L367.5 1231.9 L368.5 1232.0 L369.5 1232.1 L370.5 1232.2 L371.5 1232.3 L372.5 1232.4 L373.5 1232.5 L374.5 1232.6 L375.5 1232.7 L376.5 1232.8 L377.5 1232.9 L378.5 1233.0 L379.5 1233.1 L380.5 1233.2 L381.5 1233.3 L382.5 1233.4 L383.5 1233.5 L384.5 1233.6 L385.5 1233.7 L386.5 1233.8 L387.5 1233.9 L388.5 1234.0 L389.5 1234.1 L390.5 1234.3 L391.5 1234.4 L392.5 1234.5 L393.5 1234.6 L394.5 1234.7 L395.5 1234.8 L396.5 1234.9 L397.5 1235.1 L398.5 1235.2 L399.5 1235.3 L400.5 1235.4 L401.5 1235.5 L402.5 1235.6 L403.5 1235.8 L404.5 1235.9 L405.5 1236.0 L406.5 1236.1 L407.5 1236.2 L408.5 1236.4 L409.5 1236.5 L410.5 1236.6 L411.5 1236.7 L412.5 1236.9 L413.5 1237.0 L414.5 1237.1 L415.5 1237.3 L416.5 1237.4 L417.5 1237.5 L418.5 1237.6 L419.5 1237.8 L420.5 1237.9 L421.5 1238.0 L422.5 1238.2 L423.5 1238.3 L424.5 1238.5 L425.5 1238.6 L426.5 1238.7 L427.5 1238.9 L428.5 1239.0 L429.5 1239.2 L430.5 1239.3 L431.5 1239.4 L432.5 1239.6 L433.5 1239.7 L434.5 1239.9 L435.5 1240.0 L436.5 1240.2 L437.5 1240.3 L438.5 1240.5 L439.5 1240.6 L440.5 1240.8 L441.5 1240.9 L442.5 1241.1 L443.5 1241.2 L444.5 1241.4 L445.5 1241.5 L446.5 1241.7 L447.5 1241.9 L448.5 1242.0 L449.5 1242.2 L450.5 1242.4 L451.5 1242.5 L452.5 1242.7 L453.5 1242.8 L454.5 1243.0 L455.5 1243.2 L456.5 1243.4 L457.5 1243.5 L458.5 1243.7 L459.5 1243.9 L460.5 1244.0 L461.5 1244.2 L462.5 1244.4 L463.5 1244.6 L464.5 1244.7 L465.5 1244.9 L466.5 1245.1 L467.5 1245.3 L468.5 1245.5 L469.5 1245.6 L470.5 1245.8 L471.5 1246.0 L472.5 1246.2 L473.5 1246.4 L474.5 1246.6 L475.5 1246.7 L476.5 1246.9 L477.5 1247.1 L478.5 1247.3 L479.5 1247.5 L480.5 1247.7 L481.5 1247.8 L482.5 1248.0 L483.5 1248.2 L484.5 1248.4 L485.5 1248.6 L486.5 1248.8 L487.5 1248.9 L488.5 1249.1 L489.5 1249.3 L490.5 1249.5 L491.5 1249.7 L492.5 1249.8 L493.5 1250.0 L494.5 1250.2 L495.5 1250.3 L496.5 1250.5 L497.5 1250.7 L498.5 1250.9 L499.5 1251.0 L500.5 1251.2 L501.5 1251.3 L502.5 1251.5 L503.5 1251.6 L504.5 1251.8 L505.5 1251.9 L506.5 1252.1 L507.5 1252.2 L508.5 1252.4 L509.5 1252.5 L510.5 1252.6 L511.5 1252.8 L512.5 1252.9 L513.5 1253.0 L514.5 1253.1 L515.5 1253.2 L516.5 1253.3 L517.5 1253.4 L518.5 1253.5 L519.5 1253.6 L520.5 1253.7 L521.5 1253.8 L522.5 1253.9 L523.5 1254.0 L524.5 1254.1 L525.5 1254.1 L526.5 1254.2 L527.5 1254.3 L528.5 1254.3 L529.5 1254.4 L530.5 1254.4 L531.5 1254.5 L532.5 1254.5 L533.5 1254.6 L534.5 1254.6 L535.5 1254.6 L536.5 1254.6 L537.5 1254.7 L538.5 1254.7 L539.5 1254.7 L540.5 1254.7 L541.5 1254.7 L542.5 1254.7 L543.5 1254.7 L544.5 1254.7 L545.5 1254.7 L546.5 1254.7 L547.5 1254.7 L548.5 1254.7 L549.5 1254.7 L550.5 1254.7 L551.5 1254.7 L552.5 1254.6 L553.5 1254.6 L554.5 1254.6 L555.5 1254.6 L556.5 1254.6 L557.5 1254.5 L558.5 1254.5 L559.5 1254.5 L560.5 1254.5 L561.5 1254.5 L562.5 1254.4 L563.5 1254.4 L564.5 1254.4 L565.5 1254.4 L566.5 1254.3 L567.5 1254.3 L568.5 1254.3 L569.5 1254.3 L570.5 1254.3 L571.5 1254.2 L572.5 1254.2 L573.5 1254.2 L574.5 1254.2 L575.5 1254.2 L576.5 1254.2 L577.5 1254.1 L578.5 1254.1 L579.5 1254.1 L580.5 1254.1 L581.5 1254.1 L582.5 1254.1 L583.5 1254.1 L584.5 1254.1 L585.5 1254.1 L586.5 1254.1 L587.5 1254.1 L588.5 1254.1 L589.5 1254.1 L590.5 1254.1 L591.5 1254.1 L592.5 1254.1 L593.5 1254.1 L594.5 1254.1 L595.5 1254.1 L596.5 1254.1 L597.5 1254.1 L598.5 1254.1 L599.5 1254.2 L600.5 1254.2 L601.5 1254.2 L602.5 1254.2 L603.5 1254.2 L604.5 1254.2 L605.5 1254.3 L606.5 1254.3 L607.5 1254.3 L608.5 1254.4 L609.5 1254.4 L610.5 1254.4 L611.5 1254.5 L612.5 1254.5 L613.5 1254.5 L614.5 1254.6 L615.5 1254.6 L616.5 1254.7 L617.5 1254.7 L618.5 1254.8 L619.5 1254.8 L620.5 1254.9 L621.5 1254.9 L622.5 1255.0 L623.5 1255.0 L624.5 1255.1 L625.5 1255.2 L626.5 1255.2 L627.5 1255.3 L628.5 1255.4 L629.5 1255.4 L630.5 1255.5 L631.5 1255.6 L632.5 1255.6 L633.5 1255.7 L634.5 1255.8 L635.5 1255.9 L636.5 1256.0 L637.5 1256.0 L638.5 1256.1 L639.5 1256.2 L640.5 1256.3 L641.5 1256.4 L642.5 1256.5 L643.5 1256.6 L644.5 1256.7 L645.5 1256.8 L646.5 1256.9 L647.5 1257.0 L648.5 1257.1 L649.5 1257.2 L650.5 1257.4 L651.5 1257.5 L652.5 1257.6 L653.5 1257.7 L654.5 1257.8 L655.5 1258.0 L656.5 1258.1 L657.5 1258.2 L658.5 1258.4 L659.5 1258.5 L660.5 1258.6 L661.5 1258.8 L662.5 1258.9 L663.5 1259.0 L664.5 1259.2 L665.5 1259.3 L666.5 1259.5 L667.5 1259.6 L668.5 1259.8 L669.5 1259.9 L670.5 1260.1 L671.5 1260.3 L672.5 1260.4 L673.5 1260.6 L674.5 1260.8 L675.5 1260.9 L676.5 1261.1 L677.5 1261.3 L678.5 1261.4 L679.5 1261.6 L680.5 1261.8 L681.5 1262.0 L682.5 1262.1 L683.5 1262.3 L684.5 1262.5 L685.5 1262.7 L686.5 1262.9 L687.5 1263.0 L688.5 1263.2 L689.5 1263.4 L690.5 1263.6 L691.5 1263.8 L692.5 1264.0 L693.5 1264.2 L694.5 1264.3 L695.5 1264.5 L696.5 1264.7 L697.5 1264.9 L698.5 1265.1 L699.5 1265.3 L700.5 1265.5 L701.5 1265.7 L702.5 1265.9 L703.5 1266.0 L704.5 1266.2 L705.5 1266.4 L706.5 1266.6 L707.5 1266.8 L708.5 1267.0 L709.5 1267.2 L710.5 1267.4 L711.5 1267.6 L712.5 1267.7 L713.5 1267.9 L714.5 1268.1 L715.5 1268.3 L716.5 1268.5 L717.5 1268.7 L718.5 1268.9 L719.5 1269.0 L720.5 1269.2 L721.5 1269.4 L722.5 1269.6 L723.5 1269.8 L724.5 1269.9 L725.5 1270.1 L726.5 1270.3 L727.5 1270.5 L728.5 1270.6 L729.5 1270.8 L730.5 1271.0 L731.5 1271.2 L732.5 1271.3 L733.5 1271.5 L734.5 1271.7 L735.5 1271.8 L736.5 1272.0 L737.5 1272.1 L738.5 1272.3 L739.5 1272.4 L740.5 1272.6 L741.5 1272.7 L742.5 1272.9 L743.5 1273.0 L744.5 1273.1 L745.5 1273.3 L746.5 1273.4 L747.5 1273.5 L748.5 1273.6 L749.5 1273.8 L750.5 1273.9 L751.5 1274.0 L752.5 1274.1 L753.5 1274.2 L754.5 1274.3 L755.5 1274.3 L756.5 1274.4 L757.5 1274.5 L758.5 1274.6 L759.5 1274.6 L760.5 1274.7 L761.5 1274.8 L762.5 1274.8 L763.5 1274.9 L764.5 1275.0 L765.5 1275.0 L766.5 1275.1 L767.5 1275.1 L768.5 1275.1 L769.5 1275.2 L770.5 1275.2 L771.5 1275.3 L772.5 1275.3 L773.5 1275.3 L774.5 1275.4 L775.5 1275.4 L776.5 1275.4 L777.5 1275.5 L778.5 1275.5 L779.5 1275.5 L780.5 1275.6 L781.5 1275.6 L782.5 1275.6 L783.5 1275.6 L784.5 1275.7 L785.5 1275.7 L786.5 1275.7 L787.5 1275.7 L788.5 1275.8 L789.5 1275.8 L790.5 1275.8 L791.5 1275.8 L792.5 1275.9 L793.5 1275.9 L794.5 1275.9 L795.5 1275.9 L796.5 1276.0 L797.5 1276.0 L798.5 1276.0 L799.5 1276.1 L800.5 1276.1 L801.5 1276.1 L802.5 1276.1 L803.5 1276.2 L804.5 1276.2 L805.5 1276.3 L806.5 1276.3 L807.5 1276.3 L808.5 1276.4 L809.5 1276.4 L810.5 1276.4 L811.5 1276.5 L812.5 1276.5 L813.5 1276.6 L814.5 1276.6 L815.5 1276.7 L816.5 1276.7 L817.5 1276.8 L818.5 1276.9 L819.5 1276.9 L820.5 1277.0 L821.5 1277.0 L822.5 1277.1 L823.5 1277.2 L824.5 1277.3 L825.5 1277.3 L826.5 1277.4 L827.5 1277.5 L828.5 1277.6 L829.5 1277.7 L830.5 1277.7 L831.5 1277.8 L832.5 1277.9 L833.5 1278.0 L834.5 1278.1 L835.5 1278.2 L836.5 1278.3 L837.5 1278.4 L838.5 1278.5 L839.5 1278.6 L840.5 1278.7 L841.5 1278.8 L842.5 1278.9 L843.5 1279.0 L844.5 1279.1 L845.5 1279.2 L846.5 1279.4 L847.5 1279.5 L848.5 1279.6 L849.5 1279.7 L850.5 1279.8 L851.5 1279.9 L852.5 1280.1 L853.5 1280.2 L854.5 1280.3 L855.5 1280.4 L856.5 1280.5 L857.5 1280.7 L858.5 1280.8 L859.5 1280.9 L860.5 1281.1 L861.5 1281.2 L862.5 1281.3 L863.5 1281.5 L864.5 1281.6 L865.5 1281.7 L866.5 1281.9 L867.5 1282.0 L868.5 1282.2 L869.5 1282.3 L870.5 1282.5 L871.5 1282.6 L872.5 1282.8 L873.5 1283.0 L874.5 1283.1 L875.5 1283.3 L876.5 1283.5 L877.5 1283.6 L878.5 1283.8 L879.5 1284.0 L880.5 1284.2 L881.5 1284.3 L882.5 1284.5 L883.5 1284.7 L884.5 1284.9 L885.5 1285.1 L886.5 1285.3 L887.5 1285.5 L888.5 1285.7 L889.5 1285.9 L890.5 1286.1 L891.5 1286.3 L892.5 1286.5 L893.5 1286.7 L894.5 1286.9 L895.5 1287.1 L896.5 1287.3 L897.5 1287.5 L898.5 1287.7 L899.5 1287.9 L900.5 1288.2 L901.5 1288.4 L902.5 1288.6 L903.5 1288.8 L904.5 1289.0 L905.5 1289.2 L906.5 1289.4 L907.5 1289.7 L908.5 1289.9 L909.5 1290.1 L910.5 1290.3 L911.5 1290.5 L912.5 1290.8 L913.5 1291.0 L914.5 1291.2 L915.5 1291.4 L916.5 1291.6 L917.5 1291.8 L918.5 1292.1 L919.5 1292.3 L920.5 1292.5 L921.5 1292.7 L922.5 1292.9 L923.5 1293.1 L924.5 1293.3 L925.5 1293.6 L926.5 1293.8 L927.5 1294.0 L928.5 1294.2 L929.5 1294.4 L930.5 1294.6 L931.5 1294.8 L932.5 1295.0 L933.5 1295.2 L934.5 1295.4 L935.5 1295.6 L936.5 1295.8 L937.5 1296.0 L938.5 1296.2 L939.5 1296.4 L940.5 1296.6 L941.5 1296.8 L942.5 1297.0 L943.5 1297.2 L944.5 1297.4 L945.5 1297.6 L946.5 1297.8 L947.5 1298.0 L948.5 1298.1 L949.5 1298.3 L950.5 1298.5 L951.5 1298.7 L952.5 1298.9 L953.5 1299.1 L954.5 1299.2 L955.5 1299.4 L956.5 1299.6 L957.5 1299.7 L958.5 1299.9 L959.5 1300.1 L960.5 1300.2 L961.5 1300.4 L962.5 1300.5 L963.5 1300.7 L964.5 1300.8 L965.5 1301.0 L966.5 1301.1 L967.5 1301.3 L968.5 1301.4 L969.5 1301.5 L970.5 1301.7 L971.5 1301.8 L972.5 1301.9 L973.5 1302.0 L974.5 1302.1 L975.5 1302.2 L976.5 1302.4 L977.5 1302.5 L978.5 1302.6 L979.5 1302.7 L980.5 1302.8 L981.5 1302.9 L982.5 1303.0 L983.5 1303.1 L984.5 1303.2 L985.5 1303.3 L986.5 1303.4 L987.5 1303.5 L988.5 1303.5 L989.5 1303.6 L990.5 1303.7 L991.5 1303.8 L992.5 1303.9 L993.5 1304.0 L994.5 1304.1 L995.5 1304.1 L996.5 1304.2 L997.5 1304.3 L998.5 1304.4 L999.5 1304.5 L1000.5 1304.5 L1001.5 1304.6 L1002.5 1304.7 L1003.5 1304.8 L1004.5 1304.8 L1005.5 1304.9 L1006.5 1305.0 L1007.5 1305.0 L1008.5 1305.1 L1009.5 1305.2 L1010.5 1305.2 L1011.5 1305.3 L1012.5 1305.4 L1013.5 1305.4 L1014.5 1305.5 L1015.5 1305.6 L1016.5 1305.6 L1017.5 1305.7 L1018.5 1305.7 L1019.5 1305.8 L1020.5 1305.8 L1021.5 1305.9 L1022.5 1305.9 L1023.5 1306.0 L1024.5 1306.1 L1025.5 1306.1 L1026.5 1306.2 L1027.5 1306.2 L1028.5 1306.3 L1029.5 1306.3 L1030.5 1306.4 L1031.5 1306.4 L1032.5 1306.5 L1033.5 1306.5 L1034.5 1306.6 L1035.5 1306.7 L1036.5 1306.7 L1037.5 1306.8 L1038.5 1306.9 L1039.5 1306.9 L1040.5 1307.0 L1041.5 1307.1 L1042.5 1307.1 L1043.5 1307.2 L1044.5 1307.3 L1045.5 1307.3 L1046.5 1307.4 L1047.5 1307.5 L1048.5 1307.6 L1049.5 1307.7 L1050.5 1307.8 L1051.5 1307.8 L1052.5 1307.9 L1053.5 1308.0 L1054.5 1308.1 L1055.5 1308.2 L1056.5 1308.3 L1057.5 1308.4 L1058.5 1308.5 L1059.5 1308.6 L1060.5 1308.7 L1061.5 1308.9 L1062.5 1309.0 L1063.5 1309.1 L1064.5 1309.2 L1065.5 1309.3 L1066.5 1309.5 L1067.5 1309.6 L1068.5 1309.7 L1069.5 1309.9 L1070.5 1310.0 L1071.5 1310.1 L1072.5 1310.3 L1073.5 1310.4 L1074.5 1310.6 L1075.5 1310.7 L1076.5 1310.9 L1077.5 1311.1 L1078.5 1311.2 L1079.5 1311.4 L1080.5 1311.5 L1081.5 1311.7 L1082.5 1311.9 L1083.5 1312.1 L1084.5 1312.2 L1085.5 1312.4 L1086.5 1312.6 L1087.5 1312.8 L1088.5 1313.0 L1089.5 1313.2 L1090.5 1313.4 L1091.5 1313.6 L1092.5 1313.8 L1093.5 1314.0 L1094.5 1314.2 L1095.5 1314.4 L1096.5 1314.6 L1097.5 1314.8 L1098.5 1315.0 L1099.5 1315.3 L1100.5 1315.5 L1101.5 1315.7 L1102.5 1315.9 L1103.5 1316.2 L1104.5 1316.4 L1105.5 1316.6 L1106.5 1316.9 L1107.5 1317.1 L1108.5 1317.3 L1109.5 1317.6 L1110.5 1317.8 L1111.5 1318.1 L1112.5 1318.3 L1113.5 1318.6 L1114.5 1318.8 L1115.5 1319.1 L1116.5 1319.3 L1117.5 1319.6 L1118.5 1319.9 L1119.5 1320.1 L1120.5 1320.4 L1121.5 1320.6 L1122.5 1320.9 L1123.5 1321.2 L1124.5 1321.4 L1125.5 1321.7 L1126.5 1322.0 L1127.5 1322.2 L1128.5 1322.5 L1129.5 1322.8 L1130.5 1323.0 L1131.5 1323.3 L1132.5 1323.6 L1133.5 1323.8 L1134.5 1324.1 L1135.5 1324.4 L1136.5 1324.6 L1137.5 1324.9 L1138.5 1325.2 L1139.5 1325.5 L1140.5 1325.7 L1141.5 1326.0 L1142.5 1326.3 L1143.5 1326.6 L1144.5 1326.8 L1145.5 1327.1 L1146.5 1327.4 L1147.5 1327.7 L1148.5 1327.9 L1149.5 1328.2 L1150.5 1328.5 L1151.5 1328.8 L1152.5 1329.0 L1153.5 1329.3 L1154.5 1329.6 L1155.5 1329.9 L1156.5 1330.2 L1157.5 1330.5 L1158.5 1330.7 L1159.5 1331.0 L1160.5 1331.3 L1161.5 1331.6 L1162.5 1331.9 L1163.5 1332.2 L1164.5 1332.4 L1165.5 1332.7 L1166.5 1333.0 L1167.5 1333.3 L1168.5 1333.6 L1169.5 1333.9 L1170.5 1334.1 L1171.5 1334.4 L1172.5 1334.7 L1173.5 1335.0 L1174.5 1335.3 L1175.5 1335.6 L1176.5 1335.8 L1177.5 1336.1 L1178.5 1336.4 L1179.5 1336.7 L1180.5 1336.9 L1181.5 1337.2 L1182.5 1337.5 L1183.5 1337.8 L1184.5 1338.0 L1185.5 1338.3 L1186.5 1338.5 L1187.5 1338.8 L1188.5 1339.1 L1189.5 1339.3 L1190.5 1339.6 L1191.5 1339.8 L1192.5 1340.0 L1193.5 1340.3 L1194.5 1340.5 L1195.5 1340.7 L1196.5 1340.9 L1197.5 1341.1 L1198.5 1341.4 L1199.5 1341.6 L1200.5 1341.8 L1201.5 1342.0 L1202.5 1342.1 L1203.5 1342.3 L1204.5 1342.5 L1205.5 1342.7 L1206.5 1342.9 L1207.5 1343.0 L1208.5 1343.2 L1209.5 1343.4 L1210.5 1343.5 L1211.5 1343.7 L1212.5 1343.8 L1213.5 1344.0 L1214.5 1344.1 L1215.5 1344.3 L1216.5 1344.4 L1217.5 1344.6 L1218.5 1344.7 L1219.5 1344.8 L1220.5 1345.0 L1221.5 1345.1 L1222.5 1345.2 L1223.5 1345.3 L1224.5 1345.5 L1225.5 1345.6 L1226.5 1345.7 L1227.5 1345.8 L1228.5 1346.0 L1229.5 1346.1 L1230.5 1346.2 L1231.5 1346.3 L1232.5 1346.4 L1233.5 1346.5 L1234.5 1346.6 L1235.5 1346.7 L1236.5 1346.8 L1237.5 1346.9 L1238.5 1347.0 L1239.5 1347.1 L1240.5 1347.2 L1241.5 1347.3 L1242.5 1347.4 L1243.5 1347.5 L1244.5 1347.6 L1245.5 1347.7 L1246.5 1347.8 L1247.5 1347.9 L1248.5 1347.9 L1249.5 1348.0 L1250.5 1348.1 L1251.5 1348.2 L1252.5 1348.3 L1253.5 1348.4 L1254.5 1348.5 L1255.5 1348.6 L1256.5 1348.7 L1257.5 1348.8 L1258.5 1348.9 L1259.5 1349.0 L1260.5 1349.1 L1261.5 1349.2 L1262.5 1349.3 L1263.5 1349.4 L1264.5 1349.5 L1265.5 1349.6 L1266.5 1349.8 L1267.5 1349.9 L1268.5 1350.0 L1269.5 1350.1 L1270.5 1350.3 L1271.5 1350.4 L1272.5 1350.6 L1273.5 1350.7 L1274.5 1350.8 L1275.5 1351.0 L1276.5 1351.1 L1277.5 1351.3 L1278.5 1351.4 L1279.5 1351.6 L1280.5 1351.7 L1281.5 1351.9 L1282.5 1352.1 L1283.5 1352.2 L1284.5 1352.4 L1285.5 1352.6 L1286.5 1352.7 L1287.5 1352.9 L1288.5 1353.1 L1289.5 1353.2 L1290.5 1353.4 L1291.5 1353.6 L1292.5 1353.8 L1293.5 1354.0 L1294.5 1354.2 L1295.5 1354.3 L1296.5 1354.5 L1297.5 1354.7 L1298.5 1354.9 L1299.5 1355.1 L1300.5 1355.3 L1301.5 1355.5 L1302.5 1355.7 L1303.5 1355.9 L1304.5 1356.1 L1305.5 1356.4 L1306.5 1356.6 L1307.5 1356.8 L1308.5 1357.0 L1309.5 1357.2 L1310.5 1357.4 L1311.5 1357.7 L1312.5 1357.9 L1313.5 1358.1 L1314.5 1358.3 L1315.5 1358.6 L1316.5 1358.8 L1317.5 1359.0 L1318.5 1359.3 L1319.5 1359.5 L1320.5 1359.7 L1321.5 1360.0 L1322.5 1360.2 L1323.5 1360.5 L1324.5 1360.7 L1325.5 1361.0 L1326.5 1361.2 L1327.5 1361.5 L1328.5 1361.7 L1329.5 1362.0 L1330.5 1362.2 L1331.5 1362.5 L1332.5 1362.7 L1333.5 1363.0 L1334.5 1363.2 L1335.5 1363.5 L1336.5 1363.7 L1337.5 1364.0 L1338.5 1364.2 L1339.5 1364.5 L1340.5 1364.7 L1341.5 1365.0 L1342.5 1365.2 L1343.5 1365.5 L1344.5 1365.8 L1345.5 1366.0 L1346.5 1366.3 L1347.5 1366.5 L1348.5 1366.8 L1349.5 1367.0 L1350.5 1367.3 L1351.5 1367.6 L1352.5 1367.8 L1353.5 1368.1 L1354.5 1368.3 L1355.5 1368.6 L1356.5 1368.9 L1357.5 1369.1 L1358.5 1369.4 L1359.5 1369.7 L1360.5 1369.9 L1361.5 1370.2 L1362.5 1370.5 L1363.5 1370.7 L1364.5 1371.0 L1365.5 1371.3 L1366.5 1371.5 L1367.5 1371.8 L1368.5 1372.1 L1369.5 1372.4 L1370.5 1372.6 L1371.5 1372.9 L1372.5 1373.2 L1373.5 1373.5 L1374.5 1373.8 L1375.5 1374.0 L1376.5 1374.3 L1377.5 1374.6 L1378.5 1374.9 L1379.5 1375.2 L1380.5 1375.4 L1381.5 1375.7 L1382.5 1376.0 L1383.5 1376.3 L1384.5 1376.6 L1385.5 1376.9 L1386.5 1377.1 L1387.5 1377.4 L1388.5 1377.7 L1389.5 1378.0 L1390.5 1378.3 L1391.5 1378.6 L1392.5 1378.8 L1393.5 1379.1 L1394.5 1379.4 L1395.5 1379.7 L1396.5 1380.0 L1397.5 1380.3 L1398.5 1380.6 L1399.5 1380.8 L1400.5 1381.1 L1401.5 1381.4 L1402.5 1381.7 L1403.5 1381.9 L1404.5 1382.2 L1405.5 1382.5 L1406.5 1382.7 L1407.5 1383.0 L1408.5 1383.3 L1409.5 1383.5 L1410.5 1383.7 L1411.5 1384.0 L1412.5 1384.2 L1413.5 1384.5 L1414.5 1384.7 L1415.5 1384.9 L1416.5 1385.1 L1417.5 1385.4 L1418.5 1385.6 L1419.5 1385.8 L1420.5 1386.0 L1421.5 1386.2 L1422.5 1386.4 L1423.5 1386.6 L1424.5 1386.8 L1425.5 1387.0 L1426.5 1387.2 L1427.5 1387.4 L1428.5 1387.5 L1429.5 1387.7 L1430.5 1387.9 L1431.5 1388.1 L1432.5 1388.3 L1433.5 1388.4 L1434.5 1388.6 L1435.5 1388.8 L1436.5 1388.9 L1437.5 1389.1 L1438.5 1389.3 L1439.5 1389.4 L1440.5 1389.6 L1441.5 1389.7 L1442.5 1389.9 L1443.5 1390.0 L1444.5 1390.2 L1445.5 1390.3 L1446.5 1390.4 L1447.5 1390.6 L1448.5 1390.7 L1449.5 1390.8 L1450.5 1391.0 L1451.5 1391.1 L1452.5 1391.2 L1453.5 1391.4 L1454.5 1391.5 L1455.5 1391.6 L1456.5 1391.7 L1457.5 1391.8 L1458.5 1391.9 L1459.5 1392.0 L1460.5 1392.1 L1461.5 1392.2 L1462.5 1392.3 L1463.5 1392.4 L1464.5 1392.5 L1465.5 1392.6 L1466.5 1392.7 L1467.5 1392.7 L1468.5 1392.8 L1469.5 1392.9 L1470.5 1393.0 L1471.5 1393.0 L1472.5 1393.1 L1473.5 1393.2 L1474.5 1393.3 L1475.5 1393.3 L1476.5 1393.4 L1477.5 1393.5 L1478.5 1393.6 L1479.5 1393.7 L1480.5 1393.7 L1481.5 1393.8 L1482.5 1393.9 L1483.5 1394.0 L1484.5 1394.1 L1485.5 1394.2 L1486.5 1394.3 L1487.5 1394.4 L1488.5 1394.5 L1489.5 1394.5 L1490.5 1394.6 L1491.5 1394.7 L1492.5 1394.8 L1493.5 1394.9 L1494.5 1395.0 L1495.5 1395.1 L1496.5 1395.2 L1497.5 1395.3 L1498.5 1395.4 L1499.5 1395.6 L1500.5 1395.7 L1501.5 1395.8 L1502.5 1395.9 L1503.5 1396.0 L1504.5 1396.1 L1505.5 1396.2 L1506.5 1396.3 L1507.5 1396.4 L1508.5 1396.6 L1509.5 1396.7 L1510.5 1396.8 L1511.5 1396.9 L1512.5 1397.0 L1513.5 1397.2 L1514.5 1397.3 L1515.5 1397.4 L1516.5 1397.6 L1517.5 1397.7 L1518.5 1397.8 L1519.5 1398.0 L1520.5 1398.1 L1521.5 1398.3 L1522.5 1398.4 L1523.5 1398.6 L1524.5 1398.7 L1525.5 1398.9 L1526.5 1399.0 L1527.5 1399.2 L1528.5 1399.3 L1529.5 1399.5 L1530.5 1399.7 L1531.5 1399.8 L1532.5 1400.0 L1533.5 1400.2 L1534.5 1400.3 L1535.5 1400.5 L1536.5 1400.7 L1537.5 1400.9 L1538.5 1401.1 L1539.5 1401.2 L1540.5 1401.4 L1541.5 1401.6 L1542.5 1401.8 L1543.5 1402.0 L1544.5 1402.2 L1545.5 1402.4 L1546.5 1402.6 L1547.5 1402.8 L1548.5 1403.0 L1549.5 1403.2 L1550.5 1403.4 L1551.5 1403.6 L1552.5 1403.8 L1553.5 1404.0 L1554.5 1404.2 L1555.5 1404.4 L1556.5 1404.6 L1557.5 1404.8 L1558.5 1405.0 L1559.5 1405.2 L1560.5 1405.4 L1561.5 1405.6 L1562.5 1405.8 L1563.5 1406.0 L1564.5 1406.2 L1565.5 1406.4 L1566.5 1406.6 L1567.5 1406.8 L1568.5 1407.0 L1569.5 1407.2 L1570.5 1407.4 L1571.5 1407.6 L1572.5 1407.8 L1573.5 1408.0 L1574.5 1408.2 L1575.5 1408.3 L1576.5 1408.5 L1577.5 1408.7 L1578.5 1408.9 L1579.5 1409.1 L1580.5 1409.3 L1581.5 1409.5 L1582.5 1409.6 L1583.5 1409.8 L1584.5 1410.0 L1585.5 1410.2 L1586.5 1410.4 L1587.5 1410.5 L1588.5 1410.7 L1589.5 1410.9 L1590.5 1411.0 L1591.5 1411.2 L1592.5 1411.4 L1593.5 1411.5 L1594.5 1411.7 L1595.5 1411.9 L1596.5 1412.0 L1597.5 1412.2 L1598.5 1412.4 L1599.5 1412.5 L1600.5 1412.7 L1601.5 1412.9 L1602.5 1413.0 L1603.5 1413.2 L1604.5 1413.4 L1605.5 1413.5 L1606.5 1413.7 L1607.5 1413.9 L1608.5 1414.0 L1609.5 1414.2 L1610.5 1414.4 L1611.5 1414.6 L1612.5 1414.7 L1613.5 1414.9 L1614.5 1415.1 L1615.5 1415.2 L1616.5 1415.4 L1617.5 1415.6 L1618.5 1415.8 L1619.5 1415.9 L1620.5 1416.1 L1621.5 1416.3 L1622.5 1416.5 L1623.5 1416.6 L1624.5 1416.8 L1625.5 1417.0 L1626.5 1417.2 L1627.5 1417.4 L1628.5 1417.5 L1629.5 1417.7 L1630.5 1417.9 L1631.5 1418.1 L1632.5 1418.3 L1633.5 1418.4 L1634.5 1418.6 L1635.5 1418.8 L1636.5 1419.0 L1637.5 1419.2 L1638.5 1419.4 L1639.5 1419.6 L1640.5 1419.7 L1641.5 1419.9 L1642.5 1420.1 L1643.5 1420.3 L1644.5 1420.5"/></g>
<path class="fr" d="M94.5 1584.5v5.1M404.5 1584.5v5.1M714.5 1584.5v5.1M1024.5 1584.5v5.1M1334.5 1584.5v5.1M1644.5 1584.5v5.1M94.5 1216.5h-5.1M94.5 1273.5h-5.1M94.5 1330.5h-5.1M94.5 1387.5h-5.1M94.5 1444.5h-5.1M94.5 1501.5h-5.1M94.5 1558.5h-5.1"/>
<rect class="fr" x="94.5" y="1199.5" width="1550.0" height="385.0"/>
<text class="tk" text-anchor="end" x="83.8" y="1221.8">0.0</text>
<text class="tk" text-anchor="end" x="83.8" y="1278.8"><tspan class="mn" dy="0.5">−</tspan><tspan dy="-0.5">0.2</tspan></text>
<text class="tk" text-anchor="end" x="83.8" y="1335.8"><tspan class="mn" dy="0.5">−</tspan><tspan dy="-0.5">0.4</tspan></text>
<text class="tk" text-anchor="end" x="83.8" y="1392.8"><tspan class="mn" dy="0.5">−</tspan><tspan dy="-0.5">0.6</tspan></text>
<text class="tk" text-anchor="end" x="83.8" y="1449.8"><tspan class="mn" dy="0.5">−</tspan><tspan dy="-0.5">0.8</tspan></text>
<text class="tk" text-anchor="end" x="83.8" y="1506.8"><tspan class="mn" dy="0.5">−</tspan><tspan dy="-0.5">1.0</tspan></text>
<text class="tk" text-anchor="end" x="83.8" y="1563.8"><tspan class="mn" dy="0.5">−</tspan><tspan dy="-0.5">1.2</tspan></text>
<text class="tk" text-anchor="middle" x="94.5" y="1605.1">0</text>
<text class="tk" text-anchor="middle" x="404.5" y="1605.1">1</text>
<text class="tk" text-anchor="middle" x="714.5" y="1605.1">2</text>
<text class="tk" text-anchor="middle" x="1024.5" y="1605.1">3</text>
<text class="tk" text-anchor="middle" x="1334.5" y="1605.1">4</text>
<text class="tk" text-anchor="middle" x="1644.5" y="1605.1">5</text>
<text class="lb ti" text-anchor="middle" x="869.5" y="1190.2">距離</text>
<text class="lb xl" x="827.0" y="1636.0">時間<tspan class="lx">[s]</tspan></text>
<text class="lb xl" transform="translate(41.8 1441.0) rotate(-90)" x="0" y="0">距離<tspan class="lb3">[m]</tspan></text>
</svg></body></html>
